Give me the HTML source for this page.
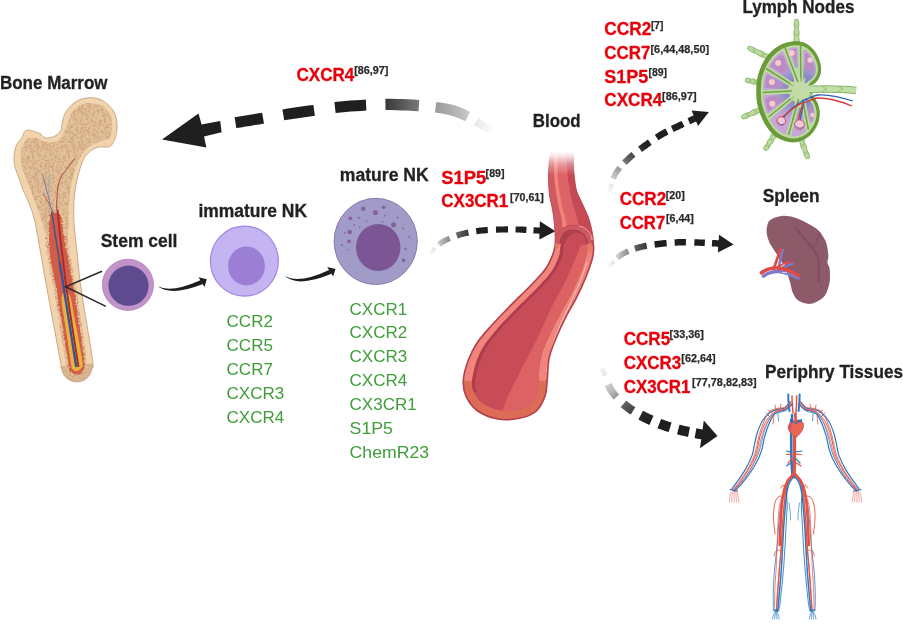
<!DOCTYPE html>
<html><head><meta charset="utf-8"><style>
html,body{margin:0;padding:0;background:#fff;overflow:hidden;}
svg{display:block;}
text{opacity:0.995;}
.b{font-family:"Liberation Sans",sans-serif;font-weight:700;}
.r{font-family:"Liberation Sans",sans-serif;font-weight:400;}
.k{fill:#222;font-size:18px;stroke:#222;stroke-width:0.3px;}
.red{fill:#e8000b;font-size:18px;stroke:#e8000b;stroke-width:0.3px;}
.sup{fill:#2a2a2a;font-size:11px;stroke:#2a2a2a;stroke-width:0.25px;}
.g{fill:#3f9d3a;font-size:17px;}
</style></head><body>
<svg width="903" height="624" viewBox="0 0 903 624">
<defs>
<clipPath id="boneclip"><path d="M61.1,130.1 C62.1,128.5 61.3,128.1 61.7,126 C62.1,124 62.5,120.5 63.4,117.8 C64.3,115.1 65.3,112.6 67.3,110 C69.3,107.4 72.4,104 75.2,102.1 C78,100.2 81.2,99.2 84.2,98.5 C87.2,97.8 90.1,97.5 93.1,97.8 C96.1,98.1 99.3,98.9 102.1,100.4 C104.9,101.9 107.8,104.3 110,106.6 C112.2,108.9 113.8,111.4 115,114.4 C116.2,117.4 116.8,121.1 117,124.5 C117.2,127.9 116.7,131.6 116.1,134.6 C115.5,137.6 114.4,140.5 113.3,142.5 C112.2,144.5 111,145.8 109.5,146.6 C108,147.3 106,147 104.4,147 C102.8,147 101.8,146.4 99.9,146.8 C98,147.2 95.2,148 93.1,149.2 C91,150.3 89.2,151.8 87.5,153.7 C85.8,155.6 84.4,157.3 83,160.4 C81.6,163.5 80.2,167.6 79,172 C77.8,176.4 76.5,181.5 75.6,187 C74.7,192.5 74,198.7 73.8,205 C73.6,211.3 73.7,217.2 74.2,225 C74.7,232.8 75.8,241.2 77,252 C78.2,262.8 78.7,272.2 81.3,290 C83.9,307.8 90.6,346 92.4,359 C94.2,372 92.8,365.1 92.2,368 C91.6,370.9 90.2,374.1 88.6,376.2 C87,378.3 84.6,379.9 82.5,380.8 C80.4,381.7 78.2,381.9 76,381.8 C73.8,381.7 71.5,381.1 69.5,380 C67.5,378.9 65.4,377.2 64,375 C62.6,372.8 61.8,369.3 61.2,367 C60.6,364.7 62.6,373.8 60.3,361 C58,348.2 50.5,308.2 47.2,290 C43.9,271.8 42.6,263.7 40.5,252 C38.4,240.3 36.5,228.3 34.5,220 C32.5,211.7 30.4,207 28.5,202 C26.6,197 24.3,193.2 23,190 C21.7,186.8 21.6,185.5 20.7,182.8 C19.8,180.1 18.3,176.8 17.3,173.8 C16.3,170.8 15.1,167.7 14.5,164.9 C13.9,162.1 13.9,159.6 14,157 C14.1,154.4 14.5,151.4 15.1,149.2 C15.7,147 16.2,145.5 17.3,143.6 C18.4,141.7 20.7,139.9 21.8,138 C22.9,136.1 23.2,133.6 24.1,132.3 C25,131 26.1,130.4 27.4,130.1 C28.7,129.8 30.4,130.3 31.9,130.7 C33.4,131.1 34.9,131.8 36.4,132.3 C37.9,132.9 39.8,133.2 40.9,134 C42,134.8 42,136.1 43.1,136.8 C44.2,137.5 45.5,138.2 47.6,138 C49.7,137.8 53.2,137 55.5,135.7 C57.8,134.4 60.1,131.7 61.1,130.1Z"/></clipPath>
<filter id="rough" x="-10%" y="-10%" width="120%" height="120%"><feTurbulence type="fractalNoise" baseFrequency="0.45" numOctaves="2" seed="4"/><feDisplacementMap in="SourceGraphic" scale="3" xChannelSelector="R" yChannelSelector="G"/></filter>
<pattern id="stip" width="36" height="36" patternUnits="userSpaceOnUse"><rect width="36" height="36" fill="#e1c19a"/><g fill="#d0a47c"><circle cx="22.4" cy="26.7" r="0.77"/><circle cx="33.9" cy="26.6" r="0.82"/><circle cx="1.0" cy="16.8" r="0.83"/><circle cx="23.4" cy="32.4" r="0.50"/><circle cx="16.9" cy="8.9" r="0.67"/><circle cx="20.7" cy="0.5" r="0.54"/><circle cx="10.1" cy="33.0" r="0.76"/><circle cx="5.7" cy="28.7" r="0.51"/><circle cx="22.2" cy="4.6" r="0.45"/><circle cx="31.4" cy="7.5" r="0.54"/><circle cx="35.4" cy="31.4" r="0.57"/><circle cx="34.6" cy="19.4" r="0.72"/><circle cx="7.4" cy="33.9" r="0.73"/><circle cx="34.8" cy="32.2" r="0.57"/><circle cx="13.0" cy="6.0" r="0.51"/><circle cx="2.3" cy="10.8" r="0.69"/><circle cx="0.1" cy="24.4" r="0.59"/><circle cx="11.2" cy="29.5" r="0.64"/><circle cx="11.4" cy="17.3" r="0.73"/><circle cx="2.1" cy="35.1" r="0.46"/><circle cx="27.0" cy="30.4" r="0.46"/><circle cx="28.4" cy="13.2" r="0.68"/><circle cx="0.3" cy="1.7" r="0.52"/><circle cx="34.4" cy="7.1" r="0.75"/><circle cx="33.5" cy="33.9" r="0.59"/><circle cx="12.8" cy="18.9" r="0.76"/><circle cx="3.9" cy="26.9" r="0.77"/><circle cx="30.9" cy="1.3" r="0.83"/><circle cx="3.3" cy="12.3" r="0.69"/><circle cx="33.1" cy="12.2" r="0.82"/><circle cx="19.6" cy="11.2" r="0.58"/><circle cx="6.4" cy="2.8" r="0.51"/><circle cx="24.8" cy="35.9" r="0.51"/><circle cx="1.7" cy="35.5" r="0.66"/><circle cx="14.6" cy="8.5" r="0.69"/><circle cx="29.7" cy="16.4" r="0.62"/><circle cx="2.0" cy="33.0" r="0.46"/><circle cx="17.8" cy="30.2" r="0.50"/><circle cx="26.3" cy="34.2" r="0.70"/><circle cx="28.4" cy="3.8" r="0.62"/><circle cx="5.4" cy="30.4" r="0.57"/><circle cx="16.3" cy="36.0" r="0.79"/><circle cx="35.1" cy="16.3" r="0.65"/><circle cx="26.3" cy="17.2" r="0.57"/><circle cx="14.5" cy="5.3" r="0.60"/><circle cx="35.6" cy="34.6" r="0.70"/><circle cx="18.0" cy="12.2" r="0.49"/><circle cx="9.8" cy="28.2" r="0.80"/><circle cx="13.0" cy="28.3" r="0.76"/><circle cx="25.0" cy="23.9" r="0.75"/><circle cx="13.1" cy="25.4" r="0.56"/><circle cx="17.5" cy="27.7" r="0.73"/><circle cx="10.6" cy="34.0" r="0.71"/><circle cx="20.9" cy="0.4" r="0.67"/><circle cx="9.0" cy="24.2" r="0.64"/><circle cx="29.4" cy="23.3" r="0.77"/><circle cx="12.5" cy="23.2" r="0.75"/><circle cx="29.8" cy="12.6" r="0.79"/><circle cx="31.3" cy="24.8" r="0.84"/><circle cx="34.4" cy="18.7" r="0.66"/><circle cx="6.0" cy="30.1" r="0.82"/><circle cx="17.2" cy="24.9" r="0.74"/><circle cx="26.3" cy="6.2" r="0.76"/><circle cx="20.9" cy="24.0" r="0.62"/><circle cx="22.5" cy="27.9" r="0.70"/><circle cx="25.9" cy="1.0" r="0.51"/><circle cx="15.9" cy="23.4" r="0.54"/><circle cx="24.7" cy="22.7" r="0.47"/><circle cx="17.0" cy="8.1" r="0.47"/><circle cx="4.8" cy="11.4" r="0.52"/><circle cx="7.0" cy="1.3" r="0.64"/><circle cx="13.7" cy="22.0" r="0.69"/><circle cx="8.6" cy="32.5" r="0.45"/><circle cx="14.6" cy="10.0" r="0.61"/><circle cx="4.1" cy="29.9" r="0.60"/><circle cx="1.3" cy="22.1" r="0.49"/><circle cx="19.6" cy="12.2" r="0.68"/><circle cx="34.5" cy="29.5" r="0.62"/><circle cx="29.3" cy="23.1" r="0.60"/><circle cx="5.1" cy="21.5" r="0.68"/><circle cx="34.5" cy="34.8" r="0.69"/><circle cx="12.6" cy="32.2" r="0.45"/><circle cx="3.9" cy="20.4" r="0.70"/><circle cx="5.1" cy="22.7" r="0.81"/><circle cx="13.5" cy="15.5" r="0.54"/><circle cx="10.5" cy="35.0" r="0.60"/><circle cx="34.6" cy="32.9" r="0.69"/><circle cx="9.4" cy="35.3" r="0.65"/><circle cx="15.0" cy="11.5" r="0.84"/><circle cx="17.7" cy="10.3" r="0.64"/><circle cx="4.4" cy="22.4" r="0.63"/><circle cx="10.6" cy="28.1" r="0.78"/><circle cx="0.5" cy="19.2" r="0.56"/><circle cx="33.7" cy="28.1" r="0.55"/><circle cx="9.6" cy="5.6" r="0.85"/><circle cx="10.6" cy="21.9" r="0.64"/><circle cx="23.2" cy="21.7" r="0.75"/><circle cx="4.3" cy="27.4" r="0.57"/><circle cx="19.2" cy="12.1" r="0.57"/><circle cx="19.1" cy="16.7" r="0.59"/><circle cx="26.8" cy="21.3" r="0.46"/><circle cx="9.1" cy="16.4" r="0.82"/><circle cx="32.0" cy="19.6" r="0.46"/><circle cx="28.0" cy="15.4" r="0.68"/><circle cx="25.5" cy="22.8" r="0.64"/><circle cx="32.8" cy="13.9" r="0.61"/><circle cx="30.7" cy="7.1" r="0.57"/><circle cx="29.9" cy="2.4" r="0.78"/><circle cx="25.0" cy="15.6" r="0.56"/><circle cx="28.1" cy="32.8" r="0.51"/><circle cx="17.2" cy="19.8" r="0.65"/><circle cx="11.9" cy="5.5" r="0.68"/><circle cx="29.2" cy="2.5" r="0.54"/><circle cx="29.5" cy="28.5" r="0.72"/><circle cx="0.9" cy="26.0" r="0.84"/><circle cx="35.9" cy="25.2" r="0.47"/><circle cx="30.3" cy="7.9" r="0.71"/><circle cx="34.3" cy="25.6" r="0.50"/><circle cx="10.5" cy="33.0" r="0.51"/><circle cx="22.0" cy="14.9" r="0.51"/><circle cx="22.4" cy="1.6" r="0.49"/><circle cx="13.7" cy="2.6" r="0.47"/><circle cx="20.7" cy="26.7" r="0.80"/><circle cx="4.8" cy="15.5" r="0.58"/><circle cx="21.6" cy="17.6" r="0.83"/><circle cx="13.5" cy="2.0" r="0.73"/><circle cx="5.4" cy="22.7" r="0.65"/><circle cx="32.8" cy="20.0" r="0.70"/><circle cx="9.5" cy="19.9" r="0.55"/><circle cx="27.0" cy="18.6" r="0.50"/><circle cx="8.4" cy="13.4" r="0.74"/><circle cx="6.5" cy="25.7" r="0.71"/><circle cx="3.1" cy="24.0" r="0.49"/><circle cx="4.5" cy="21.4" r="0.55"/><circle cx="31.6" cy="17.3" r="0.58"/><circle cx="28.7" cy="1.1" r="0.74"/><circle cx="1.9" cy="5.4" r="0.83"/><circle cx="24.5" cy="8.0" r="0.50"/><circle cx="35.0" cy="23.9" r="0.78"/><circle cx="5.0" cy="22.5" r="0.59"/><circle cx="8.5" cy="12.0" r="0.70"/><circle cx="12.6" cy="13.9" r="0.50"/><circle cx="29.9" cy="23.3" r="0.77"/><circle cx="15.6" cy="30.7" r="0.66"/><circle cx="21.3" cy="20.6" r="0.75"/><circle cx="14.2" cy="3.5" r="0.46"/><circle cx="7.3" cy="1.4" r="0.81"/><circle cx="17.3" cy="27.4" r="0.45"/><circle cx="16.9" cy="32.0" r="0.70"/><circle cx="15.4" cy="16.8" r="0.49"/><circle cx="5.6" cy="5.7" r="0.60"/><circle cx="13.9" cy="31.7" r="0.51"/><circle cx="9.1" cy="10.0" r="0.51"/><circle cx="10.3" cy="8.5" r="0.64"/><circle cx="1.2" cy="33.3" r="0.60"/><circle cx="33.8" cy="24.8" r="0.72"/><circle cx="17.0" cy="34.0" r="0.50"/><circle cx="24.1" cy="10.5" r="0.72"/><circle cx="26.3" cy="5.9" r="0.53"/><circle cx="0.9" cy="8.3" r="0.48"/><circle cx="14.4" cy="35.0" r="0.60"/><circle cx="11.2" cy="16.8" r="0.56"/><circle cx="26.4" cy="25.8" r="0.52"/><circle cx="8.7" cy="24.2" r="0.83"/><circle cx="23.3" cy="15.5" r="0.84"/><circle cx="0.2" cy="2.2" r="0.76"/><circle cx="14.8" cy="1.6" r="0.67"/><circle cx="35.6" cy="18.7" r="0.59"/><circle cx="3.4" cy="2.6" r="0.81"/><circle cx="17.7" cy="33.7" r="0.47"/><circle cx="8.8" cy="1.8" r="0.61"/><circle cx="2.2" cy="9.2" r="0.61"/><circle cx="11.0" cy="1.8" r="0.47"/><circle cx="35.0" cy="6.5" r="0.65"/><circle cx="14.5" cy="19.1" r="0.48"/><circle cx="11.3" cy="3.9" r="0.67"/><circle cx="33.2" cy="21.5" r="0.79"/><circle cx="7.7" cy="0.6" r="0.67"/><circle cx="17.5" cy="20.6" r="0.60"/><circle cx="22.5" cy="26.1" r="0.82"/><circle cx="11.1" cy="16.2" r="0.78"/><circle cx="8.1" cy="4.2" r="0.57"/><circle cx="3.2" cy="27.8" r="0.78"/><circle cx="11.3" cy="4.7" r="0.48"/><circle cx="8.8" cy="3.0" r="0.62"/><circle cx="20.8" cy="8.8" r="0.47"/><circle cx="25.2" cy="1.7" r="0.53"/><circle cx="10.3" cy="13.5" r="0.49"/><circle cx="15.1" cy="11.3" r="0.75"/><circle cx="20.0" cy="32.3" r="0.71"/><circle cx="27.3" cy="20.7" r="0.63"/><circle cx="29.4" cy="23.6" r="0.83"/><circle cx="26.2" cy="25.2" r="0.56"/><circle cx="29.2" cy="13.8" r="0.50"/><circle cx="2.4" cy="6.1" r="0.56"/><circle cx="24.3" cy="10.3" r="0.48"/><circle cx="27.5" cy="20.1" r="0.46"/><circle cx="1.8" cy="4.7" r="0.59"/><circle cx="31.0" cy="34.2" r="0.69"/><circle cx="8.3" cy="15.4" r="0.59"/><circle cx="11.9" cy="0.4" r="0.68"/><circle cx="29.8" cy="26.2" r="0.49"/><circle cx="19.1" cy="6.2" r="0.73"/><circle cx="16.1" cy="33.8" r="0.77"/><circle cx="4.3" cy="11.4" r="0.82"/><circle cx="16.6" cy="15.6" r="0.63"/><circle cx="27.6" cy="33.7" r="0.66"/><circle cx="34.9" cy="21.5" r="0.49"/><circle cx="29.3" cy="15.1" r="0.47"/><circle cx="35.2" cy="1.2" r="0.68"/><circle cx="17.4" cy="31.7" r="0.61"/><circle cx="7.8" cy="10.0" r="0.53"/><circle cx="20.2" cy="12.9" r="0.75"/><circle cx="8.7" cy="12.7" r="0.55"/><circle cx="35.4" cy="30.2" r="0.79"/><circle cx="22.3" cy="14.4" r="0.51"/><circle cx="29.9" cy="17.6" r="0.47"/><circle cx="6.1" cy="3.6" r="0.74"/><circle cx="32.4" cy="7.2" r="0.77"/><circle cx="11.7" cy="24.6" r="0.80"/><circle cx="22.4" cy="28.8" r="0.60"/><circle cx="0.4" cy="18.4" r="0.68"/><circle cx="6.7" cy="14.0" r="0.58"/><circle cx="1.0" cy="11.2" r="0.60"/><circle cx="17.1" cy="25.3" r="0.61"/><circle cx="35.4" cy="29.4" r="0.82"/><circle cx="24.9" cy="24.1" r="0.66"/><circle cx="28.8" cy="13.1" r="0.69"/><circle cx="24.5" cy="18.8" r="0.56"/><circle cx="2.8" cy="3.1" r="0.59"/><circle cx="20.9" cy="27.3" r="0.74"/><circle cx="11.0" cy="33.5" r="0.56"/><circle cx="25.8" cy="2.6" r="0.75"/><circle cx="24.1" cy="34.4" r="0.81"/><circle cx="24.8" cy="30.2" r="0.75"/><circle cx="22.0" cy="7.5" r="0.66"/><circle cx="32.3" cy="8.6" r="0.84"/><circle cx="19.6" cy="14.2" r="0.45"/><circle cx="14.0" cy="6.4" r="0.71"/><circle cx="32.4" cy="32.8" r="0.70"/><circle cx="13.9" cy="3.9" r="0.73"/><circle cx="19.9" cy="25.7" r="0.60"/><circle cx="31.9" cy="7.7" r="0.57"/><circle cx="9.6" cy="22.4" r="0.81"/><circle cx="6.0" cy="22.8" r="0.76"/><circle cx="8.1" cy="2.3" r="0.68"/><circle cx="29.9" cy="31.6" r="0.74"/><circle cx="15.0" cy="15.3" r="0.66"/><circle cx="32.6" cy="10.9" r="0.56"/><circle cx="21.8" cy="34.8" r="0.52"/><circle cx="1.1" cy="4.2" r="0.68"/><circle cx="21.7" cy="6.6" r="0.53"/><circle cx="21.4" cy="23.3" r="0.73"/><circle cx="26.2" cy="2.2" r="0.64"/><circle cx="30.0" cy="34.5" r="0.58"/><circle cx="30.6" cy="23.2" r="0.82"/><circle cx="8.2" cy="25.1" r="0.79"/><circle cx="17.2" cy="3.6" r="0.53"/><circle cx="5.6" cy="3.3" r="0.51"/><circle cx="22.2" cy="3.8" r="0.75"/><circle cx="26.5" cy="29.4" r="0.77"/><circle cx="25.7" cy="33.3" r="0.83"/><circle cx="22.5" cy="34.7" r="0.49"/><circle cx="3.7" cy="2.3" r="0.53"/><circle cx="13.5" cy="16.5" r="0.72"/><circle cx="26.7" cy="3.0" r="0.61"/><circle cx="19.6" cy="13.5" r="0.50"/><circle cx="21.5" cy="13.5" r="0.72"/><circle cx="17.8" cy="34.7" r="0.83"/><circle cx="2.6" cy="27.4" r="0.74"/><circle cx="10.7" cy="4.2" r="0.64"/><circle cx="12.7" cy="26.5" r="0.82"/><circle cx="13.8" cy="10.5" r="0.65"/><circle cx="25.1" cy="28.4" r="0.68"/><circle cx="10.7" cy="12.1" r="0.79"/><circle cx="18.7" cy="1.8" r="0.62"/><circle cx="8.6" cy="24.0" r="0.48"/><circle cx="9.8" cy="3.5" r="0.64"/><circle cx="35.4" cy="19.5" r="0.60"/><circle cx="33.6" cy="3.3" r="0.59"/><circle cx="29.2" cy="0.2" r="0.76"/><circle cx="13.0" cy="0.6" r="0.55"/><circle cx="16.5" cy="13.8" r="0.66"/><circle cx="1.9" cy="7.9" r="0.84"/><circle cx="15.9" cy="17.0" r="0.48"/><circle cx="10.0" cy="34.4" r="0.72"/><circle cx="18.3" cy="1.9" r="0.61"/><circle cx="28.0" cy="15.6" r="0.69"/><circle cx="32.5" cy="23.2" r="0.70"/><circle cx="1.3" cy="0.9" r="0.76"/><circle cx="14.9" cy="31.5" r="0.78"/><circle cx="33.0" cy="13.6" r="0.85"/><circle cx="27.2" cy="32.1" r="0.51"/><circle cx="28.1" cy="15.2" r="0.84"/><circle cx="35.8" cy="7.8" r="0.62"/><circle cx="9.8" cy="16.9" r="0.56"/><circle cx="24.0" cy="4.4" r="0.52"/><circle cx="16.5" cy="2.7" r="0.60"/><circle cx="32.3" cy="31.9" r="0.53"/><circle cx="0.7" cy="29.8" r="0.83"/><circle cx="21.6" cy="4.9" r="0.54"/><circle cx="33.1" cy="33.8" r="0.46"/><circle cx="6.7" cy="15.4" r="0.56"/><circle cx="27.1" cy="13.4" r="0.76"/><circle cx="5.5" cy="18.7" r="0.84"/><circle cx="25.3" cy="3.2" r="0.49"/><circle cx="23.2" cy="13.5" r="0.60"/><circle cx="17.2" cy="20.9" r="0.84"/><circle cx="8.7" cy="20.5" r="0.56"/><circle cx="19.6" cy="26.3" r="0.50"/><circle cx="17.3" cy="25.4" r="0.45"/><circle cx="27.8" cy="15.1" r="0.65"/><circle cx="22.0" cy="28.5" r="0.47"/><circle cx="18.0" cy="1.4" r="0.60"/><circle cx="12.4" cy="0.8" r="0.57"/><circle cx="16.2" cy="23.6" r="0.82"/><circle cx="13.3" cy="19.1" r="0.74"/><circle cx="33.7" cy="34.2" r="0.85"/><circle cx="10.9" cy="6.0" r="0.82"/><circle cx="2.8" cy="16.2" r="0.74"/><circle cx="19.0" cy="14.0" r="0.82"/><circle cx="10.8" cy="19.9" r="0.78"/><circle cx="5.0" cy="12.6" r="0.65"/><circle cx="20.4" cy="7.5" r="0.63"/><circle cx="2.2" cy="3.2" r="0.59"/><circle cx="5.2" cy="34.8" r="0.56"/><circle cx="9.9" cy="28.2" r="0.75"/><circle cx="9.4" cy="29.9" r="0.70"/><circle cx="14.0" cy="22.6" r="0.55"/><circle cx="9.5" cy="31.6" r="0.63"/><circle cx="32.3" cy="6.4" r="0.50"/><circle cx="1.9" cy="26.6" r="0.67"/><circle cx="0.3" cy="1.6" r="0.78"/><circle cx="17.8" cy="31.4" r="0.47"/><circle cx="21.2" cy="4.2" r="0.74"/><circle cx="22.0" cy="22.0" r="0.54"/><circle cx="34.2" cy="4.0" r="0.48"/><circle cx="24.6" cy="3.3" r="0.48"/><circle cx="16.6" cy="23.4" r="0.81"/><circle cx="26.0" cy="2.5" r="0.71"/><circle cx="30.4" cy="4.3" r="0.75"/><circle cx="9.3" cy="10.8" r="0.45"/><circle cx="27.3" cy="18.6" r="0.81"/><circle cx="16.8" cy="5.6" r="0.54"/><circle cx="9.5" cy="34.1" r="0.53"/><circle cx="3.2" cy="12.7" r="0.48"/><circle cx="15.3" cy="22.4" r="0.71"/><circle cx="6.3" cy="5.0" r="0.65"/><circle cx="24.7" cy="16.1" r="0.68"/><circle cx="32.8" cy="5.2" r="0.56"/><circle cx="17.8" cy="19.3" r="0.81"/><circle cx="20.0" cy="23.8" r="0.62"/><circle cx="28.2" cy="30.1" r="0.57"/><circle cx="3.9" cy="9.3" r="0.59"/><circle cx="32.0" cy="9.5" r="0.70"/><circle cx="23.1" cy="34.4" r="0.50"/><circle cx="27.7" cy="12.1" r="0.49"/><circle cx="22.8" cy="30.4" r="0.68"/><circle cx="1.8" cy="35.0" r="0.60"/><circle cx="22.9" cy="26.1" r="0.55"/><circle cx="14.7" cy="11.9" r="0.49"/><circle cx="2.3" cy="25.8" r="0.61"/><circle cx="31.3" cy="2.3" r="0.57"/><circle cx="6.5" cy="34.0" r="0.77"/><circle cx="32.3" cy="18.2" r="0.49"/><circle cx="15.0" cy="8.1" r="0.46"/><circle cx="20.3" cy="10.4" r="0.49"/><circle cx="18.4" cy="33.6" r="0.83"/><circle cx="16.8" cy="3.7" r="0.76"/><circle cx="4.1" cy="19.3" r="0.48"/><circle cx="35.5" cy="19.5" r="0.62"/><circle cx="9.8" cy="19.8" r="0.84"/><circle cx="15.4" cy="7.5" r="0.66"/><circle cx="33.1" cy="13.7" r="0.70"/><circle cx="33.1" cy="11.7" r="0.77"/><circle cx="19.0" cy="5.0" r="0.47"/><circle cx="33.8" cy="16.8" r="0.63"/><circle cx="33.0" cy="20.7" r="0.65"/><circle cx="10.2" cy="26.8" r="0.55"/><circle cx="16.9" cy="27.3" r="0.69"/><circle cx="4.8" cy="7.3" r="0.73"/><circle cx="26.2" cy="3.7" r="0.85"/><circle cx="4.8" cy="6.0" r="0.49"/><circle cx="16.1" cy="22.3" r="0.79"/><circle cx="5.9" cy="25.2" r="0.49"/><circle cx="20.9" cy="9.1" r="0.59"/><circle cx="1.9" cy="25.9" r="0.50"/><circle cx="27.5" cy="12.1" r="0.69"/><circle cx="23.0" cy="17.6" r="0.80"/><circle cx="33.1" cy="10.2" r="0.58"/><circle cx="31.6" cy="4.8" r="0.62"/><circle cx="14.9" cy="35.1" r="0.50"/><circle cx="23.6" cy="27.3" r="0.74"/><circle cx="0.0" cy="34.0" r="0.57"/><circle cx="30.7" cy="23.8" r="0.62"/><circle cx="30.2" cy="24.3" r="0.59"/><circle cx="26.3" cy="18.2" r="0.73"/><circle cx="22.1" cy="28.7" r="0.51"/><circle cx="17.8" cy="0.0" r="0.77"/><circle cx="27.8" cy="30.1" r="0.47"/><circle cx="19.3" cy="17.2" r="0.50"/><circle cx="7.3" cy="35.1" r="0.79"/><circle cx="8.6" cy="29.8" r="0.71"/><circle cx="13.9" cy="23.2" r="0.54"/><circle cx="9.9" cy="0.4" r="0.71"/><circle cx="20.9" cy="26.8" r="0.65"/><circle cx="15.7" cy="11.0" r="0.74"/><circle cx="13.4" cy="21.5" r="0.75"/><circle cx="16.0" cy="24.7" r="0.47"/><circle cx="9.4" cy="30.3" r="0.51"/><circle cx="2.0" cy="0.5" r="0.76"/><circle cx="3.8" cy="16.5" r="0.63"/><circle cx="28.9" cy="17.2" r="0.66"/><circle cx="0.9" cy="28.6" r="0.76"/><circle cx="22.4" cy="30.1" r="0.70"/><circle cx="25.8" cy="30.6" r="0.70"/><circle cx="0.7" cy="31.8" r="0.85"/><circle cx="7.2" cy="2.4" r="0.59"/><circle cx="3.6" cy="13.3" r="0.49"/><circle cx="7.9" cy="0.1" r="0.62"/></g></pattern>
<pattern id="stip2" width="36" height="36" patternUnits="userSpaceOnUse"><rect width="36" height="36" fill="#e2c19a"/><g fill="#c28d66"><circle cx="10.8" cy="26.2" r="0.56"/><circle cx="6.0" cy="34.3" r="0.76"/><circle cx="24.8" cy="7.8" r="0.56"/><circle cx="16.2" cy="14.7" r="0.41"/><circle cx="16.4" cy="27.6" r="0.68"/><circle cx="31.0" cy="24.6" r="0.71"/><circle cx="31.3" cy="33.0" r="0.72"/><circle cx="15.0" cy="23.8" r="0.66"/><circle cx="31.8" cy="25.7" r="0.58"/><circle cx="6.9" cy="11.8" r="0.50"/><circle cx="24.5" cy="27.7" r="0.48"/><circle cx="19.2" cy="30.2" r="0.55"/><circle cx="3.4" cy="21.8" r="0.54"/><circle cx="5.2" cy="10.4" r="0.40"/><circle cx="5.4" cy="15.3" r="0.44"/><circle cx="0.2" cy="19.8" r="0.78"/><circle cx="30.0" cy="11.7" r="0.77"/><circle cx="2.9" cy="5.4" r="0.40"/><circle cx="2.1" cy="21.7" r="0.70"/><circle cx="17.2" cy="28.9" r="0.58"/><circle cx="33.1" cy="21.9" r="0.61"/><circle cx="6.1" cy="15.4" r="0.58"/><circle cx="29.6" cy="8.3" r="0.52"/><circle cx="29.4" cy="2.6" r="0.61"/><circle cx="7.9" cy="23.9" r="0.64"/><circle cx="3.4" cy="26.3" r="0.56"/><circle cx="11.5" cy="30.8" r="0.71"/><circle cx="11.1" cy="24.4" r="0.45"/><circle cx="18.7" cy="3.0" r="0.66"/><circle cx="33.0" cy="22.9" r="0.42"/><circle cx="18.5" cy="16.9" r="0.58"/><circle cx="5.4" cy="10.0" r="0.58"/><circle cx="2.6" cy="24.3" r="0.50"/><circle cx="10.4" cy="3.3" r="0.52"/><circle cx="33.5" cy="10.5" r="0.44"/><circle cx="12.4" cy="34.0" r="0.44"/><circle cx="12.3" cy="7.5" r="0.67"/><circle cx="16.6" cy="3.5" r="0.74"/><circle cx="11.8" cy="24.7" r="0.58"/><circle cx="31.4" cy="2.1" r="0.49"/><circle cx="10.3" cy="9.5" r="0.73"/><circle cx="18.1" cy="12.5" r="0.60"/><circle cx="30.4" cy="20.5" r="0.58"/><circle cx="23.6" cy="22.1" r="0.56"/><circle cx="15.3" cy="4.7" r="0.58"/><circle cx="31.6" cy="11.0" r="0.55"/><circle cx="21.7" cy="21.3" r="0.47"/><circle cx="16.1" cy="26.4" r="0.42"/><circle cx="3.9" cy="27.2" r="0.76"/><circle cx="2.4" cy="2.9" r="0.65"/><circle cx="10.2" cy="23.6" r="0.41"/><circle cx="16.4" cy="5.8" r="0.53"/><circle cx="25.0" cy="18.4" r="0.74"/><circle cx="30.3" cy="22.3" r="0.74"/><circle cx="6.4" cy="17.1" r="0.53"/><circle cx="22.5" cy="4.0" r="0.75"/><circle cx="13.3" cy="28.2" r="0.78"/><circle cx="33.8" cy="14.0" r="0.74"/><circle cx="35.9" cy="4.7" r="0.70"/><circle cx="26.2" cy="16.5" r="0.51"/><circle cx="6.2" cy="14.8" r="0.77"/><circle cx="14.5" cy="9.2" r="0.65"/><circle cx="15.7" cy="22.1" r="0.58"/><circle cx="10.3" cy="1.3" r="0.73"/><circle cx="23.7" cy="8.8" r="0.60"/><circle cx="20.9" cy="18.1" r="0.76"/><circle cx="28.0" cy="11.0" r="0.54"/><circle cx="22.0" cy="5.8" r="0.77"/><circle cx="1.6" cy="18.0" r="0.51"/><circle cx="18.9" cy="1.6" r="0.49"/><circle cx="35.6" cy="28.4" r="0.49"/><circle cx="16.4" cy="1.2" r="0.45"/><circle cx="6.9" cy="35.4" r="0.52"/><circle cx="8.9" cy="2.4" r="0.44"/><circle cx="35.8" cy="26.6" r="0.77"/><circle cx="30.1" cy="28.2" r="0.50"/><circle cx="6.1" cy="9.7" r="0.43"/><circle cx="6.3" cy="25.9" r="0.60"/><circle cx="0.4" cy="11.0" r="0.74"/><circle cx="30.6" cy="26.3" r="0.69"/><circle cx="32.8" cy="20.1" r="0.55"/><circle cx="20.6" cy="10.2" r="0.41"/><circle cx="9.4" cy="16.5" r="0.45"/><circle cx="2.9" cy="8.9" r="0.55"/><circle cx="34.5" cy="17.5" r="0.73"/><circle cx="26.8" cy="21.3" r="0.53"/><circle cx="14.1" cy="11.4" r="0.65"/><circle cx="30.8" cy="28.5" r="0.52"/><circle cx="5.4" cy="0.3" r="0.63"/><circle cx="8.2" cy="0.2" r="0.52"/><circle cx="8.2" cy="7.4" r="0.67"/><circle cx="21.0" cy="10.1" r="0.69"/><circle cx="7.4" cy="33.2" r="0.45"/><circle cx="21.3" cy="25.4" r="0.69"/><circle cx="17.5" cy="31.4" r="0.65"/><circle cx="24.9" cy="2.8" r="0.47"/><circle cx="16.8" cy="19.6" r="0.44"/><circle cx="26.7" cy="12.5" r="0.59"/><circle cx="18.8" cy="30.2" r="0.52"/><circle cx="20.2" cy="21.8" r="0.66"/><circle cx="11.2" cy="10.0" r="0.59"/><circle cx="21.6" cy="23.2" r="0.45"/><circle cx="16.1" cy="20.2" r="0.48"/><circle cx="3.7" cy="33.4" r="0.41"/><circle cx="18.0" cy="10.6" r="0.41"/><circle cx="9.7" cy="5.8" r="0.56"/><circle cx="32.8" cy="2.9" r="0.54"/><circle cx="25.0" cy="22.5" r="0.41"/><circle cx="8.2" cy="10.1" r="0.76"/><circle cx="15.9" cy="9.3" r="0.59"/><circle cx="17.5" cy="5.4" r="0.67"/><circle cx="26.0" cy="17.2" r="0.61"/><circle cx="27.7" cy="34.4" r="0.65"/><circle cx="1.6" cy="18.2" r="0.66"/><circle cx="11.9" cy="24.6" r="0.55"/><circle cx="22.2" cy="22.1" r="0.67"/><circle cx="33.3" cy="25.5" r="0.68"/><circle cx="25.4" cy="8.3" r="0.65"/><circle cx="22.3" cy="2.2" r="0.70"/><circle cx="8.2" cy="17.7" r="0.61"/><circle cx="26.0" cy="27.5" r="0.59"/><circle cx="33.8" cy="15.9" r="0.63"/><circle cx="35.7" cy="11.7" r="0.69"/><circle cx="34.4" cy="3.0" r="0.71"/><circle cx="23.5" cy="19.4" r="0.72"/><circle cx="31.0" cy="5.3" r="0.59"/><circle cx="22.2" cy="25.2" r="0.78"/><circle cx="28.9" cy="29.8" r="0.43"/><circle cx="15.3" cy="32.9" r="0.78"/><circle cx="27.2" cy="12.0" r="0.71"/><circle cx="19.1" cy="24.0" r="0.65"/><circle cx="31.1" cy="25.7" r="0.79"/><circle cx="17.8" cy="17.8" r="0.66"/><circle cx="20.2" cy="1.8" r="0.78"/><circle cx="11.5" cy="18.0" r="0.42"/><circle cx="6.9" cy="33.4" r="0.51"/><circle cx="10.7" cy="29.2" r="0.50"/><circle cx="24.0" cy="20.5" r="0.76"/><circle cx="17.2" cy="11.8" r="0.50"/><circle cx="13.1" cy="0.0" r="0.45"/><circle cx="5.4" cy="11.3" r="0.71"/><circle cx="33.9" cy="12.8" r="0.50"/><circle cx="10.6" cy="22.6" r="0.59"/><circle cx="4.2" cy="18.9" r="0.51"/><circle cx="5.2" cy="28.3" r="0.44"/><circle cx="15.8" cy="27.6" r="0.62"/><circle cx="31.4" cy="11.4" r="0.78"/><circle cx="1.6" cy="32.2" r="0.57"/><circle cx="0.1" cy="9.3" r="0.80"/><circle cx="25.8" cy="26.5" r="0.72"/><circle cx="0.2" cy="11.0" r="0.59"/><circle cx="32.7" cy="32.7" r="0.46"/><circle cx="35.5" cy="20.0" r="0.52"/><circle cx="3.0" cy="15.4" r="0.61"/><circle cx="16.3" cy="11.2" r="0.78"/><circle cx="17.1" cy="11.1" r="0.71"/><circle cx="8.8" cy="15.2" r="0.44"/><circle cx="8.6" cy="35.9" r="0.65"/><circle cx="18.9" cy="24.2" r="0.67"/><circle cx="18.8" cy="13.2" r="0.46"/><circle cx="1.1" cy="4.4" r="0.56"/><circle cx="0.4" cy="24.3" r="0.53"/><circle cx="8.4" cy="11.3" r="0.60"/><circle cx="7.5" cy="30.7" r="0.59"/><circle cx="2.5" cy="3.1" r="0.76"/><circle cx="20.8" cy="10.5" r="0.69"/><circle cx="1.7" cy="32.0" r="0.77"/><circle cx="23.9" cy="1.8" r="0.57"/><circle cx="30.1" cy="21.4" r="0.48"/><circle cx="8.4" cy="2.3" r="0.61"/><circle cx="6.5" cy="16.0" r="0.76"/><circle cx="32.4" cy="17.7" r="0.71"/><circle cx="4.8" cy="34.1" r="0.75"/><circle cx="17.4" cy="31.9" r="0.52"/><circle cx="35.3" cy="11.6" r="0.77"/><circle cx="30.1" cy="33.6" r="0.69"/><circle cx="2.6" cy="10.1" r="0.66"/><circle cx="32.7" cy="24.5" r="0.42"/><circle cx="12.5" cy="12.4" r="0.47"/><circle cx="8.1" cy="18.6" r="0.55"/><circle cx="9.6" cy="14.8" r="0.78"/><circle cx="21.5" cy="27.1" r="0.77"/><circle cx="1.1" cy="31.7" r="0.44"/><circle cx="7.1" cy="26.6" r="0.70"/><circle cx="22.1" cy="17.1" r="0.69"/><circle cx="15.4" cy="7.0" r="0.49"/><circle cx="4.1" cy="1.3" r="0.78"/><circle cx="34.2" cy="12.5" r="0.56"/><circle cx="10.0" cy="28.1" r="0.60"/><circle cx="6.1" cy="31.8" r="0.77"/><circle cx="1.7" cy="16.5" r="0.49"/><circle cx="23.0" cy="12.9" r="0.52"/><circle cx="10.9" cy="21.9" r="0.60"/><circle cx="17.6" cy="24.5" r="0.59"/><circle cx="34.1" cy="15.8" r="0.72"/><circle cx="33.5" cy="22.4" r="0.64"/><circle cx="28.4" cy="25.6" r="0.48"/><circle cx="15.0" cy="5.6" r="0.41"/><circle cx="24.7" cy="11.8" r="0.50"/><circle cx="0.9" cy="0.8" r="0.67"/><circle cx="12.9" cy="15.7" r="0.67"/><circle cx="32.7" cy="25.2" r="0.49"/><circle cx="35.6" cy="6.6" r="0.63"/><circle cx="23.2" cy="10.3" r="0.76"/><circle cx="22.0" cy="25.6" r="0.46"/><circle cx="30.0" cy="10.3" r="0.65"/><circle cx="26.5" cy="11.6" r="0.51"/><circle cx="11.9" cy="35.2" r="0.66"/><circle cx="17.0" cy="20.2" r="0.66"/><circle cx="9.4" cy="2.7" r="0.44"/><circle cx="21.0" cy="21.6" r="0.79"/><circle cx="22.4" cy="30.7" r="0.79"/><circle cx="17.9" cy="15.2" r="0.59"/><circle cx="13.4" cy="27.4" r="0.63"/><circle cx="4.4" cy="34.4" r="0.61"/><circle cx="27.0" cy="19.7" r="0.64"/><circle cx="20.7" cy="4.1" r="0.45"/><circle cx="26.3" cy="12.6" r="0.45"/><circle cx="29.4" cy="26.9" r="0.71"/><circle cx="13.9" cy="4.7" r="0.70"/><circle cx="7.8" cy="24.1" r="0.68"/><circle cx="9.8" cy="0.1" r="0.64"/><circle cx="28.5" cy="21.2" r="0.79"/><circle cx="8.2" cy="26.3" r="0.57"/><circle cx="20.9" cy="10.9" r="0.49"/><circle cx="19.7" cy="21.9" r="0.76"/><circle cx="21.7" cy="18.0" r="0.66"/><circle cx="22.6" cy="14.7" r="0.51"/><circle cx="24.6" cy="13.9" r="0.41"/><circle cx="6.1" cy="12.9" r="0.67"/><circle cx="23.6" cy="17.6" r="0.73"/><circle cx="11.8" cy="12.6" r="0.70"/><circle cx="24.5" cy="15.3" r="0.76"/><circle cx="0.9" cy="19.3" r="0.74"/><circle cx="31.6" cy="7.0" r="0.72"/><circle cx="19.2" cy="33.7" r="0.53"/><circle cx="23.9" cy="23.1" r="0.80"/><circle cx="12.2" cy="14.0" r="0.45"/><circle cx="24.6" cy="2.5" r="0.74"/><circle cx="5.3" cy="6.9" r="0.78"/><circle cx="17.9" cy="27.2" r="0.54"/><circle cx="8.7" cy="13.3" r="0.79"/><circle cx="6.9" cy="32.6" r="0.75"/><circle cx="24.5" cy="9.6" r="0.69"/><circle cx="32.6" cy="21.3" r="0.49"/><circle cx="22.0" cy="34.4" r="0.64"/><circle cx="5.4" cy="7.3" r="0.65"/><circle cx="1.7" cy="0.0" r="0.55"/><circle cx="9.3" cy="17.8" r="0.43"/><circle cx="20.1" cy="24.3" r="0.53"/><circle cx="20.9" cy="19.0" r="0.72"/><circle cx="20.7" cy="23.0" r="0.63"/><circle cx="29.6" cy="3.5" r="0.45"/><circle cx="31.2" cy="30.0" r="0.40"/><circle cx="32.2" cy="21.9" r="0.74"/><circle cx="25.2" cy="13.5" r="0.45"/><circle cx="27.5" cy="25.6" r="0.59"/><circle cx="9.7" cy="13.1" r="0.77"/><circle cx="16.7" cy="7.6" r="0.79"/><circle cx="35.2" cy="6.4" r="0.48"/><circle cx="26.3" cy="13.9" r="0.59"/><circle cx="24.6" cy="9.8" r="0.64"/><circle cx="7.3" cy="8.0" r="0.62"/><circle cx="15.4" cy="32.2" r="0.46"/><circle cx="33.0" cy="9.4" r="0.54"/><circle cx="3.8" cy="11.4" r="0.79"/><circle cx="13.0" cy="30.1" r="0.79"/><circle cx="25.0" cy="6.6" r="0.57"/><circle cx="6.0" cy="9.0" r="0.53"/><circle cx="6.0" cy="24.5" r="0.61"/><circle cx="10.5" cy="9.2" r="0.46"/><circle cx="4.1" cy="15.8" r="0.43"/><circle cx="18.8" cy="9.2" r="0.71"/><circle cx="9.6" cy="30.8" r="0.78"/><circle cx="33.5" cy="8.2" r="0.77"/><circle cx="17.0" cy="31.8" r="0.59"/><circle cx="19.5" cy="9.3" r="0.70"/><circle cx="13.2" cy="31.8" r="0.68"/><circle cx="15.4" cy="1.1" r="0.51"/><circle cx="15.0" cy="13.3" r="0.63"/><circle cx="0.2" cy="16.8" r="0.76"/><circle cx="34.3" cy="24.8" r="0.67"/><circle cx="21.7" cy="36.0" r="0.72"/><circle cx="16.6" cy="17.8" r="0.78"/><circle cx="19.9" cy="21.5" r="0.52"/><circle cx="23.9" cy="17.6" r="0.78"/><circle cx="36.0" cy="35.9" r="0.78"/><circle cx="1.6" cy="2.6" r="0.54"/><circle cx="29.8" cy="20.1" r="0.50"/><circle cx="3.6" cy="9.0" r="0.45"/><circle cx="5.2" cy="26.8" r="0.48"/><circle cx="6.0" cy="22.3" r="0.45"/><circle cx="30.0" cy="23.4" r="0.75"/><circle cx="26.1" cy="26.3" r="0.51"/><circle cx="15.2" cy="13.7" r="0.56"/><circle cx="32.8" cy="15.7" r="0.72"/><circle cx="22.7" cy="3.0" r="0.48"/><circle cx="20.8" cy="28.4" r="0.49"/><circle cx="9.0" cy="13.6" r="0.58"/><circle cx="15.1" cy="33.3" r="0.64"/></g></pattern>
<linearGradient id="g1" gradientUnits="userSpaceOnUse" x1="365" y1="0" x2="492" y2="0"><stop offset="0" stop-color="#1f1f1f"/><stop offset="0.17" stop-color="#3a3a3a"/><stop offset="0.42" stop-color="#777"/><stop offset="0.55" stop-color="#999"/><stop offset="0.8" stop-color="#c4c4c4"/><stop offset="0.87" stop-color="#e8e8e8"/><stop offset="1" stop-color="#fbfbfb"/></linearGradient>
<linearGradient id="g2" gradientUnits="userSpaceOnUse" x1="428" y1="0" x2="478" y2="0"><stop offset="0" stop-color="#ffffff"/><stop offset="0.12" stop-color="#e8e8e8"/><stop offset="0.32" stop-color="#a8a8a8"/><stop offset="0.66" stop-color="#555"/><stop offset="0.9" stop-color="#262626"/><stop offset="1" stop-color="#1f1f1f"/></linearGradient>
<linearGradient id="g3" gradientUnits="userSpaceOnUse" x1="608" y1="194" x2="650" y2="142"><stop offset="0" stop-color="#ffffff"/><stop offset="0.12" stop-color="#eaeaea"/><stop offset="0.36" stop-color="#a8a8a8"/><stop offset="0.64" stop-color="#555"/><stop offset="0.88" stop-color="#282828"/><stop offset="1" stop-color="#1f1f1f"/></linearGradient>
<linearGradient id="g4" gradientUnits="userSpaceOnUse" x1="606" y1="0" x2="656" y2="0"><stop offset="0" stop-color="#ffffff"/><stop offset="0.12" stop-color="#ececec"/><stop offset="0.35" stop-color="#a8a8a8"/><stop offset="0.65" stop-color="#555"/><stop offset="0.88" stop-color="#282828"/><stop offset="1" stop-color="#1f1f1f"/></linearGradient>
<linearGradient id="g5" gradientUnits="userSpaceOnUse" x1="600" y1="362" x2="648" y2="422"><stop offset="0" stop-color="#ffffff"/><stop offset="0.14" stop-color="#ececec"/><stop offset="0.4" stop-color="#b8b8b8"/><stop offset="0.66" stop-color="#5a5a5a"/><stop offset="0.88" stop-color="#282828"/><stop offset="1" stop-color="#1f1f1f"/></linearGradient>
<clipPath id="upclip"><path d="M550.8,150 L550.7,151.2 L550.4,152.7 L550.2,154.6 L549.9,156.7 L549.7,158.9 L549.4,161 L549.2,163.1 L549,165 L548.9,166.7 L548.7,168.3 L548.7,169.8 L548.6,171.4 L548.5,172.9 L548.5,174.5 L548.5,176.2 L548.5,178 L548.5,180 L548.6,182.1 L548.7,184.3 L548.8,186.6 L548.9,188.8 L549.1,191 L549.3,193.1 L549.5,195 L549.7,196.7 L550,198.3 L550.3,199.8 L550.7,201.2 L551,202.6 L551.4,204 L551.7,205.5 L552,207 L552.3,208.6 L552.6,210.2 L552.8,211.8 L553.1,213.4 L553.3,215 L553.6,216.7 L553.8,218.3 L554,220 L554.2,221.7 L554.3,223.4 L554.5,225.1 L554.6,226.8 L554.7,228.6 L554.8,230.3 L554.9,232.1 L555,234 L555.1,236 L555.1,238.2 L555.2,240.6 L555.2,242.9 L555.2,245.1 L555.3,247.1 L555.3,248.8 L555.3,250 L593.6,250 L593.6,249.1 L593.6,248 L593.6,246.6 L593.6,245.1 L593.6,243.5 L593.6,241.7 L593.4,239.9 L593.2,238 L592.9,236 L592.5,233.9 L592.1,231.6 L591.6,229.2 L591.1,226.8 L590.5,224.4 L589.9,222.1 L589.3,220 L588.6,218 L587.9,216 L587.1,214.1 L586.3,212.2 L585.4,210.3 L584.6,208.5 L583.8,206.8 L583,205 L582.2,203.3 L581.4,201.6 L580.6,199.9 L579.8,198.3 L579,196.7 L578.2,195.1 L577.6,193.6 L577,192 L576.5,190.5 L576.1,189 L575.8,187.6 L575.6,186.1 L575.3,184.7 L575.1,183.2 L574.9,181.6 L574.7,180 L574.5,178.3 L574.3,176.5 L574.1,174.6 L573.9,172.7 L573.8,170.8 L573.7,168.8 L573.6,166.9 L573.5,165 L573.5,163 L573.5,160.9 L573.5,158.7 L573.6,156.6 L573.6,154.5 L573.7,152.7 L573.8,151.2 L573.8,150Z"/></clipPath>
<linearGradient id="fadeup" x1="0" y1="0" x2="0" y2="1"><stop offset="0" stop-color="#fff" stop-opacity="1"/><stop offset="0.2" stop-color="#fff" stop-opacity="1"/><stop offset="0.35" stop-color="#fff" stop-opacity="0.85"/><stop offset="0.65" stop-color="#fff" stop-opacity="0.35"/><stop offset="1" stop-color="#fff" stop-opacity="0"/></linearGradient>
<clipPath id="lumclip"><path d="M559.4,254.7 L559.4,254.7 L558.9,256.1 L558.9,256.2 L558.4,257.6 L558.4,257.6 L557.8,259 L557.8,259 L557.2,260.4 L557.2,260.4 L556.6,261.9 L556.6,262 L555.9,263.5 L555.9,263.5 L555.1,265.1 L555.1,265.1 L554.3,266.7 L554.3,266.7 L553.4,268.3 L553.4,268.3 L552.5,269.9 L552.5,269.9 L551.4,271.5 L551.4,271.5 L550.4,273 L550.4,273.1 L549.2,274.5 L549.2,274.6 L548.1,276 L548.1,276 L546.9,277.4 L546.9,277.4 L545.7,278.8 L545.6,278.8 L544.4,280.2 L544.4,280.2 L543.1,281.6 L543.1,281.6 L541.8,283 L541.8,283 L540.5,284.4 L539.2,285.8 L539.2,285.8 L537.8,287.3 L537.7,287.3 L536.2,288.9 L536.2,288.9 L534.7,290.5 L534.7,290.5 L533.1,292.1 L533.1,292.1 L531.4,293.7 L531.4,293.7 L529.8,295.3 L529.8,295.3 L528.2,296.9 L526.6,298.4 L525.1,299.9 L523.7,301.4 L522.2,302.8 L522.2,302.8 L520.9,304.1 L519.5,305.5 L518.2,306.8 L516.9,308.1 L515.6,309.4 L514.3,310.7 L513,312 L511.7,313.4 L510.3,314.8 L508.9,316.3 L508.9,316.3 L507.4,317.8 L506,319.3 L504.5,320.8 L503,322.3 L501.5,323.9 L501.5,323.9 L500.1,325.5 L500.1,325.5 L498.7,327.1 L497.3,328.7 L497.3,328.7 L495.9,330.4 L494.5,332.1 L494.5,332.1 L493.1,333.8 L491.7,335.5 L490.3,337.2 L490.3,337.2 L488.9,338.9 L488.9,338.9 L487.6,340.5 L487.6,340.5 L486.4,342.2 L486.4,342.2 L485.2,343.8 L485.2,343.8 L484.1,345.5 L484.1,345.5 L483.1,347.1 L483.1,347.1 L482.2,348.7 L482.2,348.7 L481.3,350.3 L481.3,350.3 L480.4,352 L480.4,352 L479.6,353.6 L479.6,353.6 L478.9,355.3 L478.9,355.3 L478.2,357 L478.2,357 L477.5,358.6 L477.5,358.6 L476.9,360.3 L476.9,360.3 L476.3,362 L476.3,362.1 L475.7,363.8 L475.7,363.8 L475.2,365.6 L475.2,365.6 L474.6,367.5 L474.6,367.5 L474.2,369.3 L474.2,369.4 L473.7,371.2 L473.7,371.3 L473.3,373.1 L472.9,375 L472.6,376.7 L472.6,376.7 L472.3,378.4 L472.3,378.4 L472.1,379.9 L472.1,379.9 L472,381.3 L472,381.3 L471.9,382.7 L471.9,382.7 L471.9,384 L471.9,384 L472,385.2 L472,385.2 L472.1,386.3 L472.1,386.3 L472.2,387.4 L472.2,387.4 L472.4,388.4 L472.4,388.4 L472.7,389.4 L472.7,389.4 L473,390.4 L473,390.4 L473.4,391.5 L473.4,391.5 L473.9,392.6 L473.9,392.6 L474.5,393.8 L474.5,393.8 L475.2,395.1 L475.2,395.1 L475.9,396.3 L475.9,396.3 L476.6,397.5 L476.6,397.5 L477.4,398.7 L477.4,398.7 L478.2,399.8 L478.2,399.8 L479.1,400.8 L479.1,400.8 L480,401.7 L480.1,401.8 L481,402.6 L481,402.6 L482.1,403.4 L482.1,403.4 L483.3,404.2 L483.3,404.2 L484.8,405.1 L484.8,405.1 L486.4,406 L486.4,406 L488.2,406.8 L488.2,406.8 L490.1,407.6 L490.1,407.6 L492.1,408.4 L492.1,408.4 L494,409 L494,409 L496,409.6 L496,409.6 L497.8,410.1 L497.8,410.1 L499.6,410.4 L499.6,410.4 L501.2,410.7 L501.2,410.7 L502.9,410.9 L502.9,410.9 L504.7,411 L504.7,411 L506.5,411 L506.5,411 L508.3,410.9 L508.3,410.9 L510.2,410.8 L510.2,410.8 L512,410.6 L512,410.6 L513.8,410.4 L513.8,410.4 L515.6,410.1 L515.6,410.1 L517.3,409.8 L517.3,409.8 L519,409.4 L519,409.4 L520.6,409 L520.6,409 L522.2,408.6 L522.2,408.6 L523.7,408.2 L523.7,408.2 L525.1,407.7 L525.1,407.7 L526.3,407.2 L526.3,407.2 L527.5,406.6 L527.5,406.6 L528.5,406.1 L528.5,406 L529.4,405.5 L529.4,405.5 L530.1,404.9 L530.2,404.9 L530.8,404.3 L530.8,404.2 L531.5,403.5 L531.5,403.5 L532.2,402.5 L532.3,402.5 L533,401.4 L533,401.4 L533.7,400.1 L533.7,400.1 L534.4,398.8 L534.4,398.8 L535.1,397.4 L535.1,397.4 L535.7,396 L535.7,396 L536.3,394.6 L536.3,394.6 L536.8,393.3 L536.8,393.2 L537.2,392.2 L537.2,392.2 L537.4,391.3 L537.4,391.2 L537.6,390.3 L537.6,390.3 L537.8,389.3 L537.8,389.3 L537.9,388.2 L537.9,388.2 L538,386.9 L538,386.9 L538.1,385.4 L538.2,383.7 L538.2,383.7 L538.4,381.9 L538.4,381.9 L538.5,380 L538.7,378.1 L538.7,378.1 L538.8,376.2 L538.8,376.2 L538.9,374 L539,371.7 L539,371.7 L539.3,369.2 L539.3,369.2 L539.5,366.7 L539.5,366.7 L539.8,364.1 L539.8,364 L540.2,361.4 L540.2,361.4 L540.7,358.7 L540.7,358.7 L541.3,356 L541.3,356 L542.1,353.4 L542.1,353.4 L542.9,350.9 L542.9,350.9 L543.8,348.4 L543.8,348.4 L544.7,346 L544.7,346 L545.7,343.6 L545.7,343.6 L546.7,341.3 L546.7,341.3 L547.8,339.1 L547.8,339.1 L548.8,336.9 L548.8,336.9 L549.8,334.8 L550.7,332.7 L550.7,332.7 L551.7,330.6 L551.7,330.6 L552.7,328.6 L552.7,328.6 L553.7,326.6 L553.7,326.6 L554.7,324.7 L554.7,324.7 L555.7,322.8 L555.7,322.8 L556.7,320.9 L556.7,320.9 L557.7,319 L557.7,319 L558.7,317.2 L558.7,317.2 L559.7,315.3 L559.7,315.3 L560.7,313.3 L560.7,313.3 L561.7,311.3 L561.8,311.3 L562.8,309.3 L562.8,309.3 L563.9,307.3 L563.9,307.3 L565,305.4 L565,305.4 L566.2,303.4 L567.2,301.5 L568.3,299.6 L569.3,297.7 L569.3,297.7 L570.3,295.9 L570.3,295.9 L571.3,294.1 L571.3,294.1 L572.2,292.2 L573.1,290.3 L574,288.4 L574.9,286.6 L575.8,284.7 L576.6,282.8 L577.4,281 L578.2,279.1 L579,277.2 L579.8,275.4 L580.5,273.5 L581.3,271.5 L582,269.5 L582.8,267.5 L583.5,265.5 L584.1,263.5 L584.1,263.5 L584.8,261.7 L584.8,261.7 L585.3,259.9 L585.3,259.9 L585.8,258.3 L585.8,258.3 L586.2,256.9 L586.2,256.9 L586.5,255.6 L586.5,255.6 L586.8,254.5 L586.8,254.5 L586.9,253.5 L586.9,253.5 L586.9,253.5 L587,253.4 L587,253.4 L587,253.3 L587,253.3 L587.1,253.2 L587.1,253.2 L587.1,253.1 L587.2,253.1 L587.2,253.1 L587.3,253 L587.3,253 L587.4,253 L587.4,253 L587.4,253 L587.3,241 L587.3,241 L587.3,241 L561.2,241 L561.2,241 L561.2,241 L559.6,253 L559.6,253 L559.6,253 L559.6,253 L559.7,253.1 L559.7,253.1 L559.7,253.2 L559.8,253.2 L559.8,253.3 L559.8,253.4 L559.8,253.4 L559.8,253.5 L559.8,253.5 L559.8,253.6Z"/></clipPath>
<radialGradient id="lobg" gradientUnits="userSpaceOnUse" cx="801" cy="90.5" r="46"><stop offset="0.25" stop-color="#8682c2"/><stop offset="0.42" stop-color="#9c92ca"/><stop offset="0.56" stop-color="#b2a0cf"/><stop offset="0.7" stop-color="#c6a4d4"/><stop offset="1" stop-color="#c8a6d5"/></radialGradient>
<clipPath id="lobclip"><path d="M805,84.2 L805.1,84.2 L805.3,84.3 L805.5,84.4 L805.7,84.4 L805.8,84.4 L806,84.4 L806.2,84.4 L806.4,84.4 L806.5,84.3 L806.7,84.2 L806.9,84.1 L807,84 L807.1,83.9 L807.3,83.8 L807.4,83.7 L807.5,83.5 L807.5,83.5 L807.5,83.5 L807.6,83.3 L807.6,83.3 L807.9,82.8 L807.9,82.8 L808,82.7 L808,82.7 L808.3,82.2 L808.3,82.2 L808.5,81.9 L808.6,81.9 L808.9,81.4 L808.9,81.4 L809.3,81 L809.3,80.9 L809.7,80.5 L809.7,80.5 L810,80.3 L810,80.2 L810.5,79.8 L810.5,79.8 L810.6,79.7 L810.7,79.6 L811.2,79.2 L811.2,79.1 L811.8,78.7 L811.8,78.7 L812.2,78.3 L812.3,78.3 L812.6,77.9 L812.7,77.9 L812.9,77.7 L813,77.6 L813.1,77.4 L813.2,77.3 L813.3,77.2 L813.4,77.1 L813.6,76.7 L813.7,76.7 L814,76.2 L814,76.1 L814.3,75.6 L814.3,75.6 L814.6,75.1 L814.6,75 L814.8,74.6 L814.9,74.5 L815.1,74.1 L815.1,74 L815.3,73.6 L815.3,73.5 L815.4,73.1 L815.5,73 L815.6,72.6 L815.6,72.5 L815.7,72.1 L815.7,72 L815.8,71.4 L815.8,71.4 L815.8,70.7 L815.8,70.7 L815.9,70 L815.9,69.9 L815.9,69.3 L815.9,69.2 L815.9,68.5 L815.9,68.4 L815.8,67.7 L815.8,67.7 L815.8,67 L815.8,66.9 L815.7,66.2 L815.6,66.1 L815.5,65.4 L815.5,65.3 L815.3,64.6 L815.3,64.5 L815,63.7 L815,63.6 L814.7,62.7 L814.7,62.6 L814.4,61.7 L814.3,61.6 L814,60.6 L813.9,60.6 L813.5,59.6 L813.5,59.5 L813,58.5 L813,58.5 L812.5,57.6 L812.5,57.5 L812,56.6 L812,56.6 L811.5,55.8 L811.4,55.7 L811,55 L810.9,54.9 L810.4,54.3 L810.3,54.2 L809.7,53.5 L809.7,53.4 L809.1,52.8 L809,52.7 L808.4,52 L808.3,52 L807.6,51.3 L807.6,51.3 L806.9,50.7 L806.8,50.7 L806.1,50.1 L806.1,50.1 L805.9,50 L805.8,49.9 L805.6,49.8 L805.5,49.7 L805.3,49.7 L805.1,49.7 L804.9,49.6 L804.7,49.7 L804.6,49.7 L804.4,49.7 L804.2,49.8 L804.1,49.9 L803.9,49.9 L803.8,50 L803.6,50.2 L803.5,50.3 L803.4,50.4 L803.3,50.6 L803.2,50.8 L803.2,50.9 L803.1,51.1 L803.1,51.3 L803.1,51.5 L803.4,82.2 L803.4,82.4 L803.5,82.6 L803.5,82.8 L803.6,82.9 L803.7,83.1 L803.7,83.3 L803.9,83.4 L804,83.5 L804.1,83.7 L804.3,83.8 L804.4,83.8 L804.5,83.9 L804.6,83.9ZM808.5,97.8 L808.4,97.6 L808.3,97.5 L808.2,97.4 L808.1,97.2 L807.9,97.1 L807.8,97 L807.6,97 L807.4,96.9 L807.3,96.9 L807.1,96.8 L806.9,96.8 L806.7,96.8 L806.6,96.9 L806.4,96.9 L806.2,97 L806.1,97 L805.9,97.1 L805.8,97.2 L805.6,97.3 L805.5,97.5 L805.4,97.6 L805.3,97.8 L805.2,97.9 L805.2,98.1 L805.1,98.3 L805.1,98.4 L805.1,98.6 L805.1,98.8 L805.1,99 L809.4,121.8 L809.4,121.9 L809.5,122.1 L809.6,122.2 L809.7,122.4 L809.8,122.5 L809.9,122.7 L810,122.8 L810.1,122.9 L810.3,123 L810.4,123.1 L810.6,123.1 L810.8,123.2 L811,123.2 L811.1,123.2 L811.3,123.2 L811.5,123.2 L811.7,123.2 L811.8,123.1 L812,123 L812.1,122.9 L812.3,122.8 L812.4,122.7 L812.5,122.6 L812.6,122.4 L812.7,122.3 L812.8,122.1 L813,121.7 L813,121.6 L813.3,120.8 L813.4,120.8 L813.6,120 L813.6,119.9 L813.9,119.1 L813.9,119 L814.1,118.2 L814.1,118.2 L814.2,117.4 L814.3,117.3 L814.4,116.5 L814.4,116.4 L814.5,115.6 L814.5,115.5 L814.6,114.7 L814.6,114.6 L814.6,113.9 L814.6,113.8 L814.6,113.1 L814.6,113 L814.6,112.4 L814.6,112.3 L814.5,111.6 L814.5,111.5 L814.4,110.8 L814.4,110.7 L814.3,110 L814.2,109.9 L814.1,109.2 L814.1,109.1 L813.9,108.4 L813.9,108.3 L813.7,107.6 L813.6,107.5 L813.4,106.8 L813.4,106.7 L813.2,106.1 L813.1,106 L813,105.5 L812.9,105.4 L812.7,104.9 L812.6,104.9 L812.4,104.3 L812.3,104.2 L812,103.6 L811.9,103.6 L811.5,102.9 L811.5,102.9 L811,102.2 L811,102.2 L810.5,101.4 L810.5,101.3 L810,100.6 L810,100.6 L809.9,100.5 L809.9,100.5 L809.5,99.7 L809.5,99.7 L809.4,99.5 L809.4,99.5 L809,98.8 L809,98.8 L808.9,98.7 L808.9,98.7 L808.6,98 L808.6,98ZM791.3,134.2 L791.3,134.3 L791.3,134.5 L791.3,134.7 L791.3,134.8 L791.3,135 L791.3,135.2 L791.4,135.3 L791.5,135.5 L791.6,135.6 L791.7,135.8 L791.8,135.9 L791.9,136 L792.1,136.1 L792.2,136.2 L792.4,136.3 L792.5,136.4 L792.7,136.4 L792.9,136.4 L793,136.4 L793.7,136.5 L793.8,136.5 L794.7,136.4 L794.8,136.4 L795.6,136.3 L795.7,136.3 L796.6,136.2 L796.7,136.2 L797.5,136 L797.6,136 L798.5,135.7 L798.6,135.7 L799.5,135.4 L799.6,135.3 L800.6,134.9 L800.7,134.9 L801.7,134.5 L801.8,134.4 L802.7,133.9 L802.8,133.9 L803.7,133.4 L803.8,133.3 L804.7,132.8 L804.8,132.7 L805.3,132.3 L805.5,132.2 L805.6,132.1 L805.7,131.9 L805.8,131.8 L805.9,131.6 L806,131.5 L806,131.3 L806.1,131.1 L806.1,131 L806.1,130.8 L806.1,130.6 L806,130.4 L806,130.3 L805.9,130.1 L805.9,130 L805.8,130 L805.8,129.9 L801.9,109.1 L801.9,108.9 L801.8,108.7 L801.8,108.6 L801.7,108.4 L801.6,108.3 L801.4,108.1 L801.3,108 L801.2,107.9 L801,107.8 L800.8,107.7 L800.7,107.7 L800.5,107.6 L800.3,107.6 L800.2,107.6 L800,107.6 L799.8,107.6 L799.6,107.7 L799.5,107.7 L799.3,107.8 L799.1,107.9 L799,108 L798.9,108.1 L798.8,108.3 L798.6,108.4 L798.6,108.6 L798.5,108.7 L798.4,108.9ZM789.9,48 L789.8,48.1 L789.6,48.1 L789.4,48.2 L789.3,48.3 L789.2,48.4 L789,48.6 L788.9,48.7 L788.8,48.9 L788.7,49 L788.7,49.2 L788.6,49.3 L788.6,49.5 L788.6,49.7 L788.6,49.9 L788.6,50.1 L788.6,50.2 L788.7,50.4 L794.8,66.7 L794.8,66.8 L794.9,67 L795,67.1 L795.1,67.3 L795.3,67.4 L795.4,67.5 L795.6,67.6 L795.7,67.7 L795.9,67.7 L796.1,67.8 L796.2,67.8 L796.4,67.8 L796.6,67.8 L796.8,67.8 L796.9,67.8 L797.1,67.7 L797.3,67.6 L797.4,67.5 L797.6,67.4 L797.7,67.3 L797.8,67.2 L797.9,67 L798,66.9 L798.1,66.7 L798.2,66.5 L798.2,66.4 L798.2,66.2 L798.2,66 L798.1,49 L798.1,48.8 L798,48.6 L798,48.5 L797.9,48.3 L797.8,48.1 L797.7,48 L797.6,47.8 L797.5,47.7 L797.4,47.6 L797.2,47.5 L797.1,47.4 L796.9,47.3 L796.7,47.3 L796.6,47.2 L796.4,47.2 L796.2,47.2 L795.4,47.2 L795.3,47.2 L794.4,47.3 L794.3,47.3 L793.3,47.4 L793.3,47.4 L792.2,47.6 L792.2,47.6 L791.1,47.8 L791.1,47.8 L790,48 L790,48ZM770.9,118.3 L770.7,118.4 L770.6,118.6 L770.5,118.7 L770.4,118.9 L770.3,119 L770.3,119.2 L770.2,119.4 L770.2,119.5 L770.2,119.7 L770.2,119.9 L770.3,120.1 L770.3,120.3 L770.4,120.4 L770.4,120.6 L771.1,121.7 L771.1,121.8 L771.9,123 L771.9,123 L772.7,124.2 L772.7,124.2 L773.5,125.3 L773.5,125.4 L774.3,126.4 L774.3,126.5 L775.1,127.5 L775.2,127.5 L775.9,128.4 L776,128.4 L776.8,129.2 L776.8,129.3 L777.6,130 L777.7,130.1 L778.5,130.8 L778.6,130.8 L779.5,131.5 L779.5,131.5 L780.5,132.2 L780.5,132.2 L781.5,132.8 L781.5,132.8 L782.5,133.4 L782.5,133.4 L783.5,133.9 L783.6,134 L784,134.1 L784.1,134.2 L784.3,134.3 L784.5,134.3 L784.6,134.3 L784.8,134.3 L785,134.3 L785.2,134.3 L785.3,134.2 L785.5,134.1 L785.6,134.1 L785.8,134 L785.9,133.9 L786,133.7 L786.2,133.6 L786.3,133.5 L786.3,133.3 L786.4,133.2 L786.5,133 L794.9,102.9 L795,102.7 L795,102.6 L795,102.4 L795,102.2 L794.9,102 L794.9,101.9 L794.8,101.7 L794.8,101.6 L794.7,101.4 L794.6,101.3 L794.4,101.1 L794.3,101 L794.2,100.9 L794,100.8 L793.9,100.8 L793.7,100.7 L793.5,100.7 L793.4,100.6 L793.2,100.6 L793,100.6 L792.8,100.7 L792.7,100.7 L792.5,100.8 L792.3,100.8 L792.2,100.9 L792,101ZM768.9,65.4 L768.8,65.5 L768.7,65.7 L768.7,65.9 L768.7,66.1 L768.7,66.2 L768.7,66.4 L768.7,66.6 L768.8,66.8 L768.8,66.9 L768.9,67.1 L769,67.3 L769.1,67.4 L769.2,67.5 L769.4,67.6 L769.5,67.8 L791.6,81.6 L791.7,81.7 L791.9,81.8 L792.1,81.8 L792.2,81.9 L792.4,81.9 L792.6,81.9 L792.8,81.9 L792.9,81.8 L793.1,81.8 L793.3,81.7 L793.4,81.6 L793.6,81.5 L793.7,81.4 L793.9,81.3 L794,81.2 L794.1,81 L794.1,80.9 L794.2,80.7 L794.3,80.5 L794.3,80.3 L794.3,80.2 L794.3,80 L794.3,79.8 L794.3,79.6 L794.2,79.5 L784.1,52.4 L784,52.3 L784,52.1 L783.9,52 L783.7,51.8 L783.6,51.7 L783.5,51.6 L783.3,51.5 L783.2,51.4 L783,51.4 L782.8,51.3 L782.7,51.3 L782.5,51.3 L782.3,51.3 L782.1,51.3 L782,51.3 L781.8,51.4 L781.6,51.4 L781.5,51.5 L781.1,51.7 L781.1,51.8 L780.2,52.3 L780.2,52.4 L779.3,53 L779.3,53 L778.4,53.7 L778.4,53.7 L777.6,54.4 L777.5,54.4 L776.7,55.1 L776.7,55.2 L775.9,55.9 L775.9,55.9 L775.1,56.7 L775,56.8 L774.3,57.6 L774.2,57.7 L773.5,58.6 L773.4,58.6 L772.7,59.6 L772.7,59.6 L771.9,60.6 L771.9,60.6 L771.2,61.6 L771.2,61.7 L770.5,62.7 L770.4,62.7 L769.8,63.8 L769.8,63.8 L769.2,64.9 L769.1,64.9ZM764.7,94.9 L764.6,94.9 L764.4,94.9 L764.2,95 L764.1,95.1 L763.9,95.1 L763.8,95.2 L763.6,95.4 L763.5,95.5 L763.4,95.6 L763.3,95.8 L763.2,95.9 L763.1,96.1 L763.1,96.3 L763.1,96.4 L763,96.6 L763,96.8 L763,97 L763.1,97 L763.2,98.4 L763.2,98.4 L763.3,99.7 L763.3,99.8 L763.5,101.1 L763.5,101.1 L763.7,102.4 L763.7,102.4 L764,103.7 L764,103.8 L764.3,105.1 L764.3,105.1 L764.7,106.5 L764.7,106.6 L765.1,108 L765.1,108 L765.5,109.4 L765.5,109.5 L766,110.9 L766,110.9 L766.5,112.3 L766.6,112.5 L766.7,112.6 L766.8,112.8 L766.9,112.9 L767,113 L767.2,113.1 L767.3,113.2 L767.5,113.3 L767.7,113.4 L767.8,113.4 L768,113.5 L768.2,113.5 L768.4,113.5 L768.6,113.4 L768.7,113.4 L768.9,113.3 L769.1,113.3 L769.2,113.2 L769.4,113.1 L789.2,96.9 L789.4,96.8 L789.5,96.6 L789.6,96.5 L789.7,96.3 L789.7,96.2 L789.8,96 L789.9,95.9 L789.9,95.7 L789.9,95.5 L789.9,95.3 L789.9,95.2 L789.8,95 L789.8,94.8 L789.7,94.7 L789.6,94.5 L789.5,94.4 L789.4,94.2 L789.3,94.1 L789.1,94 L789,93.9 L788.8,93.8 L788.7,93.8 L788.5,93.7 L788.3,93.7 L788.2,93.7 L788,93.7ZM762.9,88 L762.9,88.2 L763,88.4 L763,88.5 L763.1,88.7 L763.1,88.9 L763.2,89 L763.3,89.2 L763.4,89.3 L763.5,89.4 L763.7,89.5 L763.8,89.6 L764,89.7 L764.1,89.8 L764.3,89.8 L764.5,89.9 L764.7,89.9 L764.8,89.9 L787.3,88.7 L787.5,88.7 L787.6,88.7 L787.8,88.6 L788,88.5 L788.1,88.5 L788.3,88.4 L788.4,88.2 L788.5,88.1 L788.6,88 L788.7,87.8 L788.8,87.7 L788.9,87.5 L789,87.4 L789,87.2 L789,87 L789,86.8 L789,86.7 L789,86.5 L788.9,86.3 L788.8,86.2 L788.8,86 L788.7,85.9 L788.6,85.7 L788.4,85.6 L788.3,85.5 L788.2,85.4 L768,72.7 L767.8,72.6 L767.7,72.6 L767.5,72.5 L767.4,72.5 L767.2,72.4 L767,72.4 L766.8,72.4 L766.7,72.5 L766.5,72.5 L766.3,72.6 L766.2,72.6 L766,72.7 L765.9,72.8 L765.8,73 L765.7,73.1 L765.5,73.2 L765.5,73.4 L765.4,73.5 L765.3,73.7 L764.9,74.9 L764.9,74.9 L764.6,76.1 L764.6,76.2 L764.2,77.4 L764.2,77.4 L764,78.6 L763.9,78.7 L763.7,79.8 L763.7,79.9 L763.5,81 L763.5,81.1 L763.3,82.2 L763.3,82.3 L763.2,83.5 L763.2,83.5 L763.1,84.7 L763.1,84.8 L763,86 L763,86.1 L763,87.3 L763,87.4Z"/></clipPath>
</defs>
<rect width="903" height="624" fill="#fff"/>
<g id="bone">
<path d="M61.1,130.1 C62.1,128.5 61.3,128.1 61.7,126 C62.1,124 62.5,120.5 63.4,117.8 C64.3,115.1 65.3,112.6 67.3,110 C69.3,107.4 72.4,104 75.2,102.1 C78,100.2 81.2,99.2 84.2,98.5 C87.2,97.8 90.1,97.5 93.1,97.8 C96.1,98.1 99.3,98.9 102.1,100.4 C104.9,101.9 107.8,104.3 110,106.6 C112.2,108.9 113.8,111.4 115,114.4 C116.2,117.4 116.8,121.1 117,124.5 C117.2,127.9 116.7,131.6 116.1,134.6 C115.5,137.6 114.4,140.5 113.3,142.5 C112.2,144.5 111,145.8 109.5,146.6 C108,147.3 106,147 104.4,147 C102.8,147 101.8,146.4 99.9,146.8 C98,147.2 95.2,148 93.1,149.2 C91,150.3 89.2,151.8 87.5,153.7 C85.8,155.6 84.4,157.3 83,160.4 C81.6,163.5 80.2,167.6 79,172 C77.8,176.4 76.5,181.5 75.6,187 C74.7,192.5 74,198.7 73.8,205 C73.6,211.3 73.7,217.2 74.2,225 C74.7,232.8 75.8,241.2 77,252 C78.2,262.8 78.7,272.2 81.3,290 C83.9,307.8 90.6,346 92.4,359 C94.2,372 92.8,365.1 92.2,368 C91.6,370.9 90.2,374.1 88.6,376.2 C87,378.3 84.6,379.9 82.5,380.8 C80.4,381.7 78.2,381.9 76,381.8 C73.8,381.7 71.5,381.1 69.5,380 C67.5,378.9 65.4,377.2 64,375 C62.6,372.8 61.8,369.3 61.2,367 C60.6,364.7 62.6,373.8 60.3,361 C58,348.2 50.5,308.2 47.2,290 C43.9,271.8 42.6,263.7 40.5,252 C38.4,240.3 36.5,228.3 34.5,220 C32.5,211.7 30.4,207 28.5,202 C26.6,197 24.3,193.2 23,190 C21.7,186.8 21.6,185.5 20.7,182.8 C19.8,180.1 18.3,176.8 17.3,173.8 C16.3,170.8 15.1,167.7 14.5,164.9 C13.9,162.1 13.9,159.6 14,157 C14.1,154.4 14.5,151.4 15.1,149.2 C15.7,147 16.2,145.5 17.3,143.6 C18.4,141.7 20.7,139.9 21.8,138 C22.9,136.1 23.2,133.6 24.1,132.3 C25,131 26.1,130.4 27.4,130.1 C28.7,129.8 30.4,130.3 31.9,130.7 C33.4,131.1 34.9,131.8 36.4,132.3 C37.9,132.9 39.8,133.2 40.9,134 C42,134.8 42,136.1 43.1,136.8 C44.2,137.5 45.5,138.2 47.6,138 C49.7,137.8 53.2,137 55.5,135.7 C57.8,134.4 60.1,131.7 61.1,130.1Z" fill="#f1d4ae"/>
<g clip-path="url(#boneclip)">
<path d="M65.1,129 C66.1,126.5 67.4,124 68.5,121.2 C69.6,118.4 69.8,114.9 71.8,112.2 C73.8,109.5 77.4,106.4 80.8,104.9 C84.2,103.4 88.3,102.9 92,103.2 C95.7,103.5 100.2,104.7 103.2,106.6 C106.2,108.5 108.5,111.4 110,114.4 C111.5,117.4 112,121.1 112.2,124.5 C112.4,127.9 111.8,132.2 111.1,134.6 C110.3,137 109.6,138 107.7,139.1 C105.8,140.2 102.5,140.5 99.9,141.4 C97.3,142.3 94.4,143.2 92,144.7 C89.6,146.2 87.3,148.1 85.3,150.3 C83.3,152.5 81.7,154.7 80,158 C78.3,161.3 76.5,165.3 75,170 C73.5,174.7 72,180.2 71,186 C70,191.8 69.4,198.5 69,205 C68.6,211.5 68.8,218.3 68.5,225 C68.2,231.7 67.9,240 67.5,245 C67.1,250 68.1,253.3 66,255 C63.9,256.7 57.7,256.7 55,255 C52.3,253.3 51.8,249.5 50,245 C48.2,240.5 46.3,234.7 44,228 C41.7,221.3 38.6,212.2 36,205 C33.4,197.8 30.4,189.9 28.6,185.1 C26.8,180.3 26.3,179.1 25.2,176.1 C24.1,173.1 22.6,170.3 21.8,167.1 C21.1,163.9 20.7,160.2 20.7,157 C20.7,153.8 20.9,151 21.8,148 C22.7,145 24.8,140.9 26.3,139.1 C27.8,137.3 28.7,137.5 30.8,137.4 C32.9,137.3 36.6,137.8 38.7,138.5 C40.9,139.2 41.8,140.7 43.7,141.3 C45.6,142 47.8,142.4 49.9,142.4 C52,142.4 54.5,142.3 56.6,141.3 C58.7,140.3 60.8,138.6 62.2,136.5 C63.6,134.4 64,131.6 65.1,129Z" fill="url(#stip)"/>
<path d="M45,367.5 L100,362.8 L100,395 L45,395Z" fill="#d6b590"/>
</g>
<path d="M61.1,130.1 C62.1,128.5 61.3,128.1 61.7,126 C62.1,124 62.5,120.5 63.4,117.8 C64.3,115.1 65.3,112.6 67.3,110 C69.3,107.4 72.4,104 75.2,102.1 C78,100.2 81.2,99.2 84.2,98.5 C87.2,97.8 90.1,97.5 93.1,97.8 C96.1,98.1 99.3,98.9 102.1,100.4 C104.9,101.9 107.8,104.3 110,106.6 C112.2,108.9 113.8,111.4 115,114.4 C116.2,117.4 116.8,121.1 117,124.5 C117.2,127.9 116.7,131.6 116.1,134.6 C115.5,137.6 114.4,140.5 113.3,142.5 C112.2,144.5 111,145.8 109.5,146.6 C108,147.3 106,147 104.4,147 C102.8,147 101.8,146.4 99.9,146.8 C98,147.2 95.2,148 93.1,149.2 C91,150.3 89.2,151.8 87.5,153.7 C85.8,155.6 84.4,157.3 83,160.4 C81.6,163.5 80.2,167.6 79,172 C77.8,176.4 76.5,181.5 75.6,187 C74.7,192.5 74,198.7 73.8,205 C73.6,211.3 73.7,217.2 74.2,225 C74.7,232.8 75.8,241.2 77,252 C78.2,262.8 78.7,272.2 81.3,290 C83.9,307.8 90.6,346 92.4,359 C94.2,372 92.8,365.1 92.2,368 C91.6,370.9 90.2,374.1 88.6,376.2 C87,378.3 84.6,379.9 82.5,380.8 C80.4,381.7 78.2,381.9 76,381.8 C73.8,381.7 71.5,381.1 69.5,380 C67.5,378.9 65.4,377.2 64,375 C62.6,372.8 61.8,369.3 61.2,367 C60.6,364.7 62.6,373.8 60.3,361 C58,348.2 50.5,308.2 47.2,290 C43.9,271.8 42.6,263.7 40.5,252 C38.4,240.3 36.5,228.3 34.5,220 C32.5,211.7 30.4,207 28.5,202 C26.6,197 24.3,193.2 23,190 C21.7,186.8 21.6,185.5 20.7,182.8 C19.8,180.1 18.3,176.8 17.3,173.8 C16.3,170.8 15.1,167.7 14.5,164.9 C13.9,162.1 13.9,159.6 14,157 C14.1,154.4 14.5,151.4 15.1,149.2 C15.7,147 16.2,145.5 17.3,143.6 C18.4,141.7 20.7,139.9 21.8,138 C22.9,136.1 23.2,133.6 24.1,132.3 C25,131 26.1,130.4 27.4,130.1 C28.7,129.8 30.4,130.3 31.9,130.7 C33.4,131.1 34.9,131.8 36.4,132.3 C37.9,132.9 39.8,133.2 40.9,134 C42,134.8 42,136.1 43.1,136.8 C44.2,137.5 45.5,138.2 47.6,138 C49.7,137.8 53.2,137 55.5,135.7 C57.8,134.4 60.1,131.7 61.1,130.1Z" fill="none" stroke="#c4a27c" stroke-width="0.9"/>
<path d="M47,213 C48.1,206.2 50.2,209.2 53,209 C55.8,208.8 60.8,205.2 63.5,212 C66.2,218.8 66.8,237 69,250 C71.2,263 73.6,271.7 76.5,290 C79.4,308.3 85.2,346.2 86.5,360 C87.8,373.8 86.2,370.1 84.5,373 C82.8,375.9 78.8,377.4 76,377.5 C73.2,377.6 69.2,376.1 67.5,373.5 C65.8,370.9 67.8,375.9 65.5,362 C63.2,348.1 57.2,308.7 54,290 C50.8,271.3 47.7,262.8 46.5,250 C45.3,237.2 45.9,219.8 47,213Z" fill="url(#stip2)" filter="url(#rough)"/>
<path d="M50,216 C51,212.2 53.2,212.7 55,212.5 C56.8,212.3 59.2,212.1 60.5,215 C61.8,217.9 62,224.2 63,230 C64,235.8 64.7,240 66.5,250 C68.3,260 71.1,271.7 74,290 C76.9,308.3 82.8,346.3 84,360 C85.2,373.7 82.8,369.6 81.5,372 C80.2,374.4 77.9,374.6 76,374.5 C74.1,374.4 71.3,373.6 70,371.5 C68.7,369.4 70.5,375.6 68.3,362 C66,348.4 59.5,307.8 56.5,290 C53.5,272.2 51.2,264.2 50,255 C48.8,245.8 49,241.5 49,235 C49,228.5 49,219.8 50,216Z" fill="#d25b47" filter="url(#rough)"/>
<path d="M62.5,294 C63.3,292.2 65.2,292 66.5,292.5 C67.8,293 69.1,292.4 70.5,297 C71.9,301.6 73,309.3 75,320 C77,330.7 81.4,352.9 82.4,361 C83.4,369.1 81.9,366.8 81,368.5 C80.1,370.2 78.2,370.9 76.8,371 C75.4,371.1 73.4,370.4 72.4,369 C71.4,367.6 71.9,369 70.8,362.5 C69.7,356 67.5,339.9 66,330 C64.5,320.1 62.4,309 61.8,303 C61.2,297 61.7,295.8 62.5,294Z" fill="#eab23c"/>
<path d="M57.5,209.6 C58,214.7 59.5,231.3 60.5,240 C61.5,248.7 62.2,254.2 63.2,262 C64.2,269.8 64.6,275.2 66.2,286.5 C67.8,297.8 70.7,316.6 72.7,330 C74.8,343.4 77.5,360.8 78.5,367" fill="none" stroke="#a62a2c" stroke-width="1.9"/>
<path d="M42.7,193 C43.4,194.2 45.6,197.6 47,200 C48.4,202.4 49.8,205.2 51,207.5 C52.2,209.8 53.5,212.9 54,214" fill="none" stroke="#b8473e" stroke-width="0.8"/>
<path d="M75,158.1 C73.5,160.1 68.4,166.6 66,170 C63.6,173.4 61.8,174.8 60.4,178.3 C59,181.8 58.1,185.6 57.5,190.8 C56.9,196 56.7,206.5 56.5,209.6" fill="none" stroke="#a83a36" stroke-width="0.9"/>
<path d="M42.5,174 C43,176 44.5,182.2 45.5,186 C46.5,189.8 47.5,192.7 48.5,197 C49.5,201.3 51.2,209.5 51.7,212" fill="none" stroke="#6f7fa8" stroke-width="1"/>
<path d="M49.3,173.8 C49.2,175.8 48.9,182.1 48.8,186 C48.7,189.9 48.5,195.2 48.5,197" fill="none" stroke="#8e9ab8" stroke-width="0.8"/>
<path d="M51.7,212 C52.4,216.7 54.8,231.7 56.1,240 C57.4,248.3 58.8,256.7 59.6,262 C60.4,267.3 60.8,270.3 61,272" fill="none" stroke="#3a5891" stroke-width="1.5"/>
<path d="M59.6,262 C60.2,266.1 61.7,275.2 63.5,286.5 C65.3,297.8 68.3,316.6 70.4,330 C72.5,343.4 75.2,360.8 76.2,367" fill="none" stroke="#34559a" stroke-width="2.3"/>
<path d="M102,271.2 L65.6,286.7 L105.9,306.4" fill="none" stroke="#2a2a2a" stroke-width="1.5"/>
</g>
<g id="cells">
<circle cx="127.9" cy="284.8" r="25.6" fill="#c193c9" stroke="#b580bf" stroke-width="0.8"/>
<circle cx="128.5" cy="285.7" r="20.1" fill="#5d4a8f"/>
<ellipse cx="244.4" cy="261.1" rx="34" ry="35" fill="#c4b4f2" stroke="#9d83e2" stroke-width="1.1"/>
<ellipse cx="246.5" cy="266" rx="18.4" ry="19.4" fill="#9a7fd5"/>
<ellipse cx="375.7" cy="241.4" rx="41.6" ry="43.1" fill="#a19bc8" stroke="#8d74b3" stroke-width="1"/>
<ellipse cx="378.2" cy="247.5" rx="22.2" ry="23.6" fill="#7b5594"/>
<g fill="#87609f"><circle cx="363.2" cy="208.7" r="2.3"/><circle cx="375.4" cy="212.5" r="2.6"/><circle cx="383.6" cy="207.2" r="1.8"/><circle cx="350.3" cy="218.3" r="1.9"/><circle cx="358.9" cy="217.8" r="1"/><circle cx="366.5" cy="220.9" r="0.8"/><circle cx="384.8" cy="215.6" r="0.8"/><circle cx="382.5" cy="222.1" r="0.8"/><circle cx="397.5" cy="217.4" r="1"/><circle cx="393.5" cy="224.7" r="2.5"/><circle cx="354.1" cy="225.2" r="0.9"/><circle cx="359.7" cy="227" r="0.8"/><circle cx="349.8" cy="231.9" r="2.2"/><circle cx="344.8" cy="232.8" r="0.9"/><circle cx="403.4" cy="228.5" r="0.9"/><circle cx="349" cy="241.4" r="1.8"/><circle cx="341.9" cy="245" r="1"/><circle cx="409.2" cy="236.9" r="0.9"/><circle cx="348.3" cy="249.8" r="0.8"/><circle cx="405.4" cy="248.8" r="1.1"/><circle cx="403.5" cy="260.2" r="1.8"/></g>
<g fill="#1e1e1e">
<path d="M157.7,286.3 Q171,296.6 203,284 L201,280 Q171,293.4 157.7,286.3Z"/>
<path d="M206.8,279.3 L198.5,277.3 L204.5,286.9Z"/>
<path d="M284,275.6 Q298,288 331.5,273.8 L329.6,269.8 Q298,284.8 284,275.6Z"/>
<path d="M335.5,269 L327.2,267.1 L333.2,276.6Z"/>
</g>
</g>
<g id="arrows">
<path d="M236.3,128.1 L240.9,127.4 L245.5,126.6 L250.1,125.9 L254.8,125.1 L259.4,124.4 L264,123.6 L262.1,112.7 L257.5,113.5 L253,114.3 L248.4,115 L243.8,115.8 L239.2,116.5 L234.6,117.2ZM284.2,120.3 L289.3,119.5 L294.4,118.7 L299.5,117.9 L304.6,117.2 L309.8,116.5 L314.9,115.8 L313.4,104.9 L308.2,105.6 L303.1,106.3 L297.9,107.1 L292.7,107.8 L287.6,108.6 L282.4,109.4ZM335.6,113.1 L340.7,112.5 L345.9,112 L351,111.6 L356.1,111.2 L361.3,110.9 L366.4,110.6 L365.8,99.6 L360.6,99.9 L355.3,100.2 L350.1,100.6 L344.8,101.1 L339.6,101.6 L334.4,102.1ZM385.5,110.1 L391,110.1 L396.5,110.2 L402,110.4 L407.5,110.6 L413,110.9 L418.5,111.2 L419.3,100 L413.7,99.6 L408,99.3 L402.4,99.1 L396.7,98.9 L391.1,98.8 L385.4,98.8ZM435,112.6 L440.3,113.3 L445.6,114.3 L450.8,115.4 L455.6,116.9 L460.5,118.9 L465.2,121.2 L470.1,111.9 L464.8,109.3 L459.3,107 L453.5,105.1 L447.8,103.8 L442,102.7 L436.3,101.9ZM474,125.2 L476.4,126.5 L478.8,127.8 L481.1,129 L483.3,130.2 L485.2,131.5 L487.1,133 L492,128 L489.8,125.9 L487.5,124 L485.1,122.4 L482.9,120.9 L480.7,119.4 L478.5,117.9Z" fill="url(#g1)"/>
<path d="M162,139.4 L198.5,113.5 L201.6,124.6 L220.2,120.9 L221.6,132.2 L204,136.4 L206.4,147.4Z" fill="#1f1f1f"/>
<path d="M515.5,232.6 L517.3,232.6 L519.1,232.6 L520.9,232.7 L522.7,232.8 L524.4,232.9 L526.2,232.9 L526.6,226.8 L524.8,226.7 L522.9,226.6 L521.1,226.5 L519.3,226.4 L517.5,226.4 L515.7,226.4ZM496.1,232.7 L498.1,232.7 L500.1,232.6 L502.1,232.6 L504.1,232.6 L506,232.5 L508,232.5 L508,226.3 L506,226.3 L503.9,226.4 L501.9,226.4 L499.9,226.4 L497.9,226.5 L495.9,226.5ZM476.6,234.3 L478.5,234 L480.4,233.8 L482.3,233.6 L484.2,233.4 L486.1,233.2 L488,233.1 L487.6,226.9 L485.6,227 L483.6,227.2 L481.7,227.4 L479.7,227.6 L477.7,227.9 L475.8,228.1ZM457.7,238.6 L459.5,237.9 L461.4,237.3 L463.3,236.8 L465.2,236.3 L467.1,235.9 L469,235.5 L467.8,229.5 L465.8,229.9 L463.7,230.4 L461.7,230.9 L459.6,231.5 L457.6,232.1 L455.7,232.8ZM440.7,246.5 L442.1,245.4 L443.6,244.4 L445.3,243.5 L447.1,242.6 L448.9,241.8 L450.8,241 L448.6,235.8 L446.6,236.7 L444.7,237.6 L442.7,238.5 L440.7,239.6 L438.8,240.9 L436.9,242.3ZM431.4,254.4 L432.2,253.5 L433,252.7 L433.8,251.9 L434.6,251.1 L435.4,250.3 L436.2,249.5 L433.5,246.6 L432.6,247.4 L431.8,248.2 L431,249.1 L430.1,249.9 L429.3,250.8 L428.5,251.6ZM533.3,233.4 L535.2,233.5 L537.1,233.6 L539,233.7 L541,233.9 L542.9,234 L544.8,234.1 L545.2,227.9 L543.3,227.8 L541.4,227.7 L539.4,227.5 L537.5,227.4 L535.6,227.3 L533.7,227.2Z" fill="url(#g2)"/>
<path d="M555.4,231.3 L539.9,221.3 L539.3,239.6Z" fill="#1f1f1f"/>
<path d="M673.7,131.9 L675.5,131.1 L677.3,130.2 L679.1,129.4 L680.9,128.5 L682.7,127.7 L684.5,126.8 L681.7,120.9 L679.9,121.7 L678.1,122.6 L676.3,123.4 L674.5,124.3 L672.7,125.1 L670.9,126ZM658.4,140.3 L660,139.3 L661.7,138.2 L663.4,137.2 L665,136.3 L666.7,135.4 L668.5,134.5 L665.5,128.6 L663.6,129.5 L661.8,130.5 L660,131.6 L658.3,132.6 L656.5,133.7 L654.8,134.8ZM642,151.9 L643.6,150.7 L645.2,149.5 L646.9,148.4 L648.5,147.2 L650.1,146 L651.7,144.9 L647.9,139.5 L646.2,140.7 L644.6,141.9 L642.9,143 L641.3,144.2 L639.7,145.4 L638.1,146.6ZM626.6,165.1 L628,163.6 L629.5,162.2 L631,160.8 L632.4,159.4 L633.9,158.1 L635.5,156.8 L631.5,152 L629.9,153.3 L628.2,154.7 L626.6,156.2 L625.1,157.7 L623.6,159.1 L622.1,160.6ZM615.9,179.7 L616.6,177.9 L617.4,176.1 L618.4,174.4 L619.5,172.7 L620.7,171.1 L622,169.5 L617.7,165.9 L616.3,167.6 L614.9,169.5 L613.6,171.4 L612.5,173.5 L611.5,175.7 L610.6,177.8ZM611.4,192.4 L611.7,191.2 L612,190 L612.4,188.7 L612.8,187.4 L613.2,186.1 L613.5,184.8 L609.5,183.7 L609.1,185 L608.8,186.2 L608.4,187.5 L608,188.8 L607.6,190.1 L607.3,191.5ZM690.2,124.2 L691.8,123.5 L693.3,122.8 L694.8,122.1 L696.3,121.4 L697.9,120.7 L699.4,120 L696.6,114 L695.1,114.7 L693.6,115.4 L692.1,116.1 L690.5,116.8 L689,117.5 L687.5,118.2Z" fill="url(#g3)"/>
<path d="M708.9,112 L691.6,110.4 L698,126Z" fill="#1f1f1f"/>
<path d="M694.2,245.7 L696,245.7 L697.7,245.8 L699.5,245.8 L701.2,245.9 L703,246 L704.7,246.1 L705,239.6 L703.2,239.5 L701.5,239.4 L699.7,239.4 L698,239.3 L696.2,239.2 L694.5,239.2ZM674.8,245.8 L676.7,245.7 L678.5,245.6 L680.4,245.5 L682.2,245.5 L684.1,245.5 L685.9,245.5 L686,239 L684,239 L682.1,239 L680.2,239.1 L678.3,239.1 L676.4,239.2 L674.5,239.3ZM655,247.7 L657,247.5 L659,247.3 L661,247 L662.9,246.8 L664.9,246.6 L666.9,246.4 L666.3,239.9 L664.2,240.1 L662.2,240.3 L660.2,240.6 L658.2,240.8 L656.2,241 L654.2,241.3ZM635.8,251.7 L637.7,251.1 L639.6,250.6 L641.5,250 L643.4,249.6 L645.3,249.2 L647.2,248.8 L646.1,242.6 L644,243 L642,243.4 L639.9,244 L637.9,244.5 L635.9,245.1 L633.9,245.8ZM619.2,260 L620.8,258.7 L622.3,257.5 L624,256.5 L625.7,255.6 L627.6,254.7 L629.5,253.8 L627.2,248.5 L625.1,249.4 L623.1,250.4 L621,251.5 L619,252.8 L617.1,254.2 L615.3,255.7ZM609.8,268.1 L610.6,267.2 L611.5,266.4 L612.4,265.5 L613.4,264.6 L614.3,263.7 L615.2,262.8 L612.2,259.9 L611.3,260.8 L610.4,261.6 L609.6,262.5 L608.6,263.3 L607.7,264.2 L606.8,265.1ZM711.8,246.4 L713.5,246.5 L715.2,246.6 L716.8,246.7 L718.5,246.8 L720.2,246.9 L721.8,246.9 L722.2,240.5 L720.5,240.4 L718.8,240.3 L717.2,240.2 L715.5,240.1 L713.8,240 L712.2,239.9Z" fill="url(#g4)"/>
<path d="M733.6,244.5 L719.1,234.7 L717.8,252.6Z" fill="#1f1f1f"/>
<path d="M677,434.3 L678.8,434.8 L680.6,435.2 L682.5,435.7 L684.3,436.1 L686.1,436.5 L688,436.9 L690,427.1 L688.2,426.7 L686.5,426.3 L684.7,425.9 L683,425.5 L681.2,425.1 L679.5,424.7ZM657.5,428.2 L659.4,428.9 L661.2,429.6 L663.1,430.2 L664.9,430.9 L666.8,431.5 L668.7,432.1 L671.6,422.5 L669.9,421.9 L668.1,421.4 L666.3,420.8 L664.6,420.2 L662.8,419.5 L661.1,418.9ZM638.4,419.6 L640.2,420.5 L642,421.4 L643.8,422.3 L645.6,423.2 L647.5,424.1 L649.4,424.9 L653.5,415.8 L651.7,415 L650,414.2 L648.2,413.3 L646.4,412.4 L644.7,411.6 L642.9,410.7ZM620.7,407 L622.3,408.4 L623.9,409.7 L625.5,410.9 L627.3,412.2 L629,413.4 L630.8,414.6 L635.3,407.3 L633.8,406.2 L632.2,405.2 L630.7,404.1 L629.2,402.9 L627.7,401.7 L626.3,400.5ZM604.7,386.1 L605.8,388.5 L607.1,390.9 L608.5,393.3 L610.2,395.5 L611.9,397.6 L613.6,399.6 L619.2,394.5 L617.6,392.7 L616.2,390.9 L614.9,389.1 L613.7,387.2 L612.6,385.2 L611.7,383.1ZM599.9,368.6 L600.3,370 L600.7,371.3 L601.2,372.6 L601.6,373.8 L602,375.1 L602.5,376.4 L607.2,374.8 L606.8,373.5 L606.3,372.2 L605.9,370.9 L605.5,369.7 L605.1,368.5 L604.7,367.3ZM694.6,438.1 L696.2,438.4 L697.7,438.7 L699.3,439 L700.9,439.3 L702.5,439.6 L704,439.9 L706,430.1 L704.3,429.8 L702.7,429.5 L701.1,429.2 L699.6,428.9 L698,428.6 L696.4,428.3Z" fill="url(#g5)"/>
<path d="M717.5,436.1 L703.8,420.6 L700,448.3Z" fill="#1f1f1f"/>
</g>
<g id="vessel">
<path d="M550.8,150 L550.7,151.2 L550.4,152.7 L550.2,154.6 L549.9,156.7 L549.7,158.9 L549.4,161 L549.2,163.1 L549,165 L548.9,166.7 L548.7,168.3 L548.7,169.8 L548.6,171.4 L548.5,172.9 L548.5,174.5 L548.5,176.2 L548.5,178 L548.5,180 L548.6,182.1 L548.7,184.3 L548.8,186.6 L548.9,188.8 L549.1,191 L549.3,193.1 L549.5,195 L549.7,196.7 L550,198.3 L550.3,199.8 L550.7,201.2 L551,202.6 L551.4,204 L551.7,205.5 L552,207 L552.3,208.6 L552.6,210.2 L552.8,211.8 L553.1,213.4 L553.3,215 L553.6,216.7 L553.8,218.3 L554,220 L554.2,221.7 L554.3,223.4 L554.5,225.1 L554.6,226.8 L554.7,228.6 L554.8,230.3 L554.9,232.1 L555,234 L555.1,236 L555.1,238.2 L555.2,240.6 L555.2,242.9 L555.2,245.1 L555.3,247.1 L555.3,248.8 L555.3,250 L593.6,250 L593.6,249.1 L593.6,248 L593.6,246.6 L593.6,245.1 L593.6,243.5 L593.6,241.7 L593.4,239.9 L593.2,238 L592.9,236 L592.5,233.9 L592.1,231.6 L591.6,229.2 L591.1,226.8 L590.5,224.4 L589.9,222.1 L589.3,220 L588.6,218 L587.9,216 L587.1,214.1 L586.3,212.2 L585.4,210.3 L584.6,208.5 L583.8,206.8 L583,205 L582.2,203.3 L581.4,201.6 L580.6,199.9 L579.8,198.3 L579,196.7 L578.2,195.1 L577.6,193.6 L577,192 L576.5,190.5 L576.1,189 L575.8,187.6 L575.6,186.1 L575.3,184.7 L575.1,183.2 L574.9,181.6 L574.7,180 L574.5,178.3 L574.3,176.5 L574.1,174.6 L573.9,172.7 L573.8,170.8 L573.7,168.8 L573.6,166.9 L573.5,165 L573.5,163 L573.5,160.9 L573.5,158.7 L573.6,156.6 L573.6,154.5 L573.7,152.7 L573.8,151.2 L573.8,150Z" fill="#de6366"/>
<g clip-path="url(#upclip)">
<path d="M540,148 L554.5,148 L554,165 L554.5,180 L556.5,195 L559,208 L561.8,220 L563.5,236 L540,236Z" fill="#d05a62"/>
<path d="M554.5,148 C555.1,145.2 557.4,145.2 557.9,148 C558.4,150.8 557.5,159.7 557.5,165 C557.5,170.3 557.5,175 557.9,180 C558.3,185 559.2,190.3 560,195 C560.8,199.7 561.5,203.8 562.5,208 C563.5,212.2 565,215.3 565.8,220 C566.6,224.7 567.9,233.3 567.5,236 C567.1,238.7 564.5,238.7 563.5,236 C562.5,233.3 562.5,224.7 561.8,220 C561,215.3 559.9,212.2 559,208 C558.1,203.8 557.2,199.7 556.5,195 C555.8,190.3 554.9,185 554.5,180 C554.1,175 554,170.3 554,165 C554,159.7 553.9,150.8 554.5,148Z" fill="#f2837a"/>
<path d="M566.5,148 L567,165 L568,180 L570.5,195 L574,208 L577.6,220 L581,236 L600,236 L600,148Z" fill="#c64a56"/>
</g>
<path d="M550.8,150 C550.5,152.5 549.4,160.3 549,165 C548.6,169.7 548.4,173 548.5,178 C548.6,183 548.9,190.2 549.5,195 C550.1,199.8 551.2,202.8 552,207 C552.8,211.2 553.5,215.5 554,220 C554.5,224.5 554.8,229 555,234 C555.2,239 555.2,247.3 555.3,250" fill="none" stroke="#b8434f" stroke-width="0.8"/>
<path d="M593.6,250 C593.5,248 593.9,243 593.2,238 C592.5,233 591,225.5 589.3,220 C587.6,214.5 585,209.7 583,205 C581,200.3 578.4,196.2 577,192 C575.6,187.8 575.3,184.5 574.7,180 C574.1,175.5 573.6,170 573.5,165 C573.4,160 573.8,152.5 573.8,150" fill="none" stroke="#b8434f" stroke-width="0.8"/>
<rect x="540" y="145" width="45" height="30" fill="url(#fadeup)"/>
<path d="M555.6,243 L555.5,243.6 L555.3,244.4 L555.1,245.4 L554.9,246.5 L554.7,247.6 L554.5,248.9 L554.2,250.1 L553.8,251.4 L553.4,252.7 L553,254 L552.5,255.3 L552,256.6 L551.4,258 L550.8,259.4 L550.2,260.8 L549.5,262.3 L548.7,263.7 L547.9,265.2 L547.1,266.6 L546.2,268 L545.3,269.4 L544.2,270.7 L543.2,272 L542.1,273.3 L540.9,274.7 L539.7,276 L538.5,277.3 L537.2,278.7 L535.9,280.1 L534.6,281.5 L533.2,283 L531.7,284.5 L530.2,286 L528.6,287.6 L527,289.2 L525.4,290.8 L523.8,292.4 L522.2,293.9 L520.7,295.4 L519.2,296.9 L517.8,298.3 L516.4,299.7 L515.1,301 L513.8,302.3 L512.5,303.6 L511.2,304.9 L509.9,306.3 L508.5,307.6 L507.2,309 L505.8,310.4 L504.4,311.9 L502.9,313.4 L501.4,314.9 L499.9,316.4 L498.4,318 L496.9,319.6 L495.4,321.2 L493.9,322.8 L492.5,324.4 L491,326 L489.5,327.6 L488.1,329.3 L486.6,331 L485.1,332.7 L483.6,334.4 L482.2,336.1 L480.8,337.8 L479.5,339.5 L478.2,341.3 L477,343 L475.9,344.8 L474.8,346.5 L473.8,348.3 L472.8,350 L471.9,351.8 L471.1,353.6 L470.2,355.4 L469.4,357.3 L468.7,359.1 L468,361 L467.3,362.9 L466.7,364.9 L466,366.9 L465.5,369 L464.9,371.1 L464.4,373.1 L464,375.1 L463.7,377.1 L463.5,379 L463.3,380.8 L463.2,382.5 L463.2,384.2 L463.3,385.8 L463.4,387.3 L463.7,388.8 L464,390.3 L464.3,391.8 L464.8,393.3 L465.4,394.7 L466,396.2 L466.7,397.7 L467.5,399.2 L468.4,400.8 L469.3,402.3 L470.4,403.8 L471.5,405.3 L472.7,406.7 L474,408 L475.5,409.3 L477,410.5 L478.7,411.6 L480.6,412.7 L482.6,413.8 L484.7,414.8 L486.9,415.7 L489.1,416.5 L491.4,417.3 L493.6,418 L495.9,418.5 L498,419 L500.1,419.3 L502.3,419.5 L504.4,419.7 L506.6,419.7 L508.8,419.6 L510.9,419.5 L513,419.2 L515.1,419 L517.1,418.7 L519,418.3 L520.9,417.9 L522.8,417.5 L524.6,417 L526.4,416.4 L528.1,415.8 L529.8,415.1 L531.5,414.4 L533,413.5 L534.4,412.6 L535.8,411.5 L537.1,410.3 L538.2,409 L539.3,407.5 L540.4,406 L541.3,404.4 L542.2,402.7 L543,401.1 L543.7,399.4 L544.4,397.8 L545,396.2 L545.5,394.7 L545.9,393.2 L546.2,391.8 L546.4,390.4 L546.5,389 L546.7,387.5 L546.8,386 L546.9,384.4 L547,382.7 L547.2,380.8 L547.4,378.8 L547.5,376.7 L547.6,374.4 L547.7,372.1 L547.8,369.7 L548,367.3 L548.2,364.8 L548.4,362.4 L548.8,360 L549.2,357.7 L549.8,355.4 L550.4,353.1 L551.1,350.9 L551.9,348.6 L552.8,346.3 L553.6,344.1 L554.5,341.8 L555.4,339.6 L556.3,337.5 L557.2,335.4 L558.1,333.4 L558.9,331.4 L559.8,329.4 L560.7,327.5 L561.6,325.6 L562.5,323.7 L563.4,321.9 L564.4,320 L565.3,318.1 L566.3,316.2 L567.3,314.3 L568.4,312.3 L569.4,310.4 L570.5,308.5 L571.6,306.6 L572.7,304.6 L573.8,302.7 L574.9,300.8 L575.9,298.8 L576.9,296.9 L577.9,295 L578.8,293.1 L579.7,291.1 L580.6,289.2 L581.5,287.3 L582.4,285.4 L583.2,283.5 L584,281.5 L584.8,279.6 L585.6,277.7 L586.4,275.7 L587.2,273.7 L587.9,271.7 L588.7,269.6 L589.4,267.6 L590.1,265.6 L590.7,263.6 L591.3,261.8 L591.9,260.1 L592.3,258.5 L592.7,257.1 L592.9,255.8 L593.2,254.5 L593.3,253.4 L593.4,252.4 L593.5,251.4 L593.5,250.5 L593.6,249.6 L593.6,248.8 L593.6,248 L593.6,247.3 L593.5,246.6 L593.4,245.9 L593.3,245.4 L593.2,244.8 L593,244.4 L592.9,244 L592.8,243.6 L592.7,243.3 L592.6,243Z" fill="#f0857b"/>
<path d="M463.2,382.5 L463.2,384.2 L463.3,385.8 L463.4,387.3 L463.7,388.8 L464,390.3 L464.3,391.8 L464.8,393.3 L465.4,394.7 L466,396.2 L466.7,397.7 L467.5,399.2 L468.4,400.8 L469.3,402.3 L470.4,403.8 L471.5,405.3 L472.7,406.7 L474,408 L475.5,409.3 L477,410.5 L478.7,411.6 L480.6,412.7 L482.6,413.8 L484.7,414.8 L486.9,415.7 L489.1,416.5 L491.4,417.3 L493.6,418 L495.9,418.5 L498,419 L500.1,419.3 L502.3,419.5 L504.4,419.7 L506.6,419.7 L508.8,419.6 L510.9,419.5 L513,419.2 L515.1,419 L517.1,418.7 L519,418.3 L520.9,417.9 L522.8,417.5 L524.6,417 L526.4,416.4 L528.1,415.8 L529.8,415.1 L531.5,414.4 L533,413.5 L534.4,412.6 L535.8,411.5 L537.1,410.3 L538.2,409 L539.3,407.5 L540.4,406 L541.3,404.4 L542.2,402.7 L543,401.1 L543.7,399.4 L544.4,397.8 L545,396.2 L545.5,394.7 L545.9,393.2 L546.2,391.8 L546.4,390.4 L546.5,389 L546.7,387.5 L546.8,386 L546.9,384.4 L547,382.7 L547.2,380.8 L538.5,380.8 L538.4,381.9 L538.4,381.9 L538.2,383.7 L538.2,383.7 L538.1,385.4 L538,386.9 L538,386.9 L537.9,388.2 L537.9,388.2 L537.8,389.3 L537.8,389.3 L537.6,390.3 L537.6,390.3 L537.4,391.2 L537.4,391.3 L537.2,392.2 L537.2,392.2 L536.8,393.2 L536.8,393.3 L536.3,394.6 L536.3,394.6 L535.7,396 L535.7,396 L535.1,397.4 L535.1,397.4 L534.4,398.8 L534.4,398.8 L533.7,400.1 L533.7,400.1 L533,401.4 L533,401.4 L532.3,402.5 L532.2,402.5 L531.5,403.5 L531.5,403.5 L530.8,404.2 L530.8,404.3 L530.2,404.9 L530.1,404.9 L529.4,405.5 L529.4,405.5 L528.5,406 L528.5,406.1 L527.5,406.6 L527.5,406.6 L526.3,407.2 L526.3,407.2 L525.1,407.7 L525.1,407.7 L523.7,408.2 L523.7,408.2 L522.2,408.6 L522.2,408.6 L520.6,409 L520.6,409 L519,409.4 L519,409.4 L517.3,409.8 L517.3,409.8 L515.6,410.1 L515.6,410.1 L513.8,410.4 L513.8,410.4 L512,410.6 L512,410.6 L510.2,410.8 L510.2,410.8 L508.3,410.9 L508.3,410.9 L506.5,411 L506.5,411 L504.7,411 L504.7,411 L502.9,410.9 L502.9,410.9 L501.2,410.7 L501.2,410.7 L499.6,410.4 L499.6,410.4 L497.8,410.1 L497.8,410.1 L496,409.6 L496,409.6 L494,409 L494,409 L492.1,408.4 L492.1,408.4 L490.1,407.6 L490.1,407.6 L488.2,406.8 L488.2,406.8 L486.4,406 L486.4,406 L484.8,405.1 L484.8,405.1 L483.3,404.2 L483.3,404.2 L482.1,403.4 L482.1,403.4 L481,402.6 L481,402.6 L480.1,401.8 L480,401.7 L479.1,400.8 L479.1,400.8 L478.2,399.8 L478.2,399.8 L477.4,398.7 L477.4,398.7 L476.6,397.5 L476.6,397.5 L475.9,396.3 L475.9,396.3 L475.2,395.1 L475.2,395.1 L474.5,393.8 L474.5,393.8 L473.9,392.6 L473.9,392.6 L473.4,391.5 L473.4,391.5 L473,390.4 L473,390.4 L472.7,389.4 L472.7,389.4 L472.4,388.4 L472.4,388.4 L472.2,387.4 L472.2,387.4 L472.1,386.3 L472.1,386.3 L472,385.2 L472,385.2 L471.9,384 L471.9,384 L471.9,382.7 L471.9,382.7 L472,381.3 L472,381.3 L472,380.8 L463.3,380.8Z" fill="#dc6c55"/>
<path d="M559.4,254.7 L559.4,254.7 L558.9,256.1 L558.9,256.2 L558.4,257.6 L558.4,257.6 L557.8,259 L557.8,259 L557.2,260.4 L557.2,260.4 L556.6,261.9 L556.6,262 L555.9,263.5 L555.9,263.5 L555.1,265.1 L555.1,265.1 L554.3,266.7 L554.3,266.7 L553.4,268.3 L553.4,268.3 L552.5,269.9 L552.5,269.9 L551.4,271.5 L551.4,271.5 L550.4,273 L550.4,273.1 L549.2,274.5 L549.2,274.6 L548.1,276 L548.1,276 L546.9,277.4 L546.9,277.4 L545.7,278.8 L545.6,278.8 L544.4,280.2 L544.4,280.2 L543.1,281.6 L543.1,281.6 L541.8,283 L541.8,283 L540.5,284.4 L539.2,285.8 L539.2,285.8 L537.8,287.3 L537.7,287.3 L536.2,288.9 L536.2,288.9 L534.7,290.5 L534.7,290.5 L533.1,292.1 L533.1,292.1 L531.4,293.7 L531.4,293.7 L529.8,295.3 L529.8,295.3 L528.2,296.9 L526.6,298.4 L525.1,299.9 L523.7,301.4 L522.2,302.8 L522.2,302.8 L520.9,304.1 L519.5,305.5 L518.2,306.8 L516.9,308.1 L515.6,309.4 L514.3,310.7 L513,312 L511.7,313.4 L510.3,314.8 L508.9,316.3 L508.9,316.3 L507.4,317.8 L506,319.3 L504.5,320.8 L503,322.3 L501.5,323.9 L501.5,323.9 L500.1,325.5 L500.1,325.5 L498.7,327.1 L497.3,328.7 L497.3,328.7 L495.9,330.4 L494.5,332.1 L494.5,332.1 L493.1,333.8 L491.7,335.5 L490.3,337.2 L490.3,337.2 L488.9,338.9 L488.9,338.9 L487.6,340.5 L487.6,340.5 L486.4,342.2 L486.4,342.2 L485.2,343.8 L485.2,343.8 L484.1,345.5 L484.1,345.5 L483.1,347.1 L483.1,347.1 L482.2,348.7 L482.2,348.7 L481.3,350.3 L481.3,350.3 L480.4,352 L480.4,352 L479.6,353.6 L479.6,353.6 L478.9,355.3 L478.9,355.3 L478.2,357 L478.2,357 L477.5,358.6 L477.5,358.6 L476.9,360.3 L476.9,360.3 L476.3,362 L476.3,362.1 L475.7,363.8 L475.7,363.8 L475.2,365.6 L475.2,365.6 L474.6,367.5 L474.6,367.5 L474.2,369.3 L474.2,369.4 L473.7,371.2 L473.7,371.3 L473.3,373.1 L472.9,375 L472.6,376.7 L472.6,376.7 L472.3,378.4 L472.3,378.4 L472.1,379.9 L472.1,379.9 L472,381.3 L472,381.3 L471.9,382.7 L471.9,382.7 L471.9,384 L471.9,384 L472,385.2 L472,385.2 L472.1,386.3 L472.1,386.3 L472.2,387.4 L472.2,387.4 L472.4,388.4 L472.4,388.4 L472.7,389.4 L472.7,389.4 L473,390.4 L473,390.4 L473.4,391.5 L473.4,391.5 L473.9,392.6 L473.9,392.6 L474.5,393.8 L474.5,393.8 L475.2,395.1 L475.2,395.1 L475.9,396.3 L475.9,396.3 L476.6,397.5 L476.6,397.5 L477.4,398.7 L477.4,398.7 L478.2,399.8 L478.2,399.8 L479.1,400.8 L479.1,400.8 L480,401.7 L480.1,401.8 L481,402.6 L481,402.6 L482.1,403.4 L482.1,403.4 L483.3,404.2 L483.3,404.2 L484.8,405.1 L484.8,405.1 L486.4,406 L486.4,406 L488.2,406.8 L488.2,406.8 L490.1,407.6 L490.1,407.6 L492.1,408.4 L492.1,408.4 L494,409 L494,409 L496,409.6 L496,409.6 L497.8,410.1 L497.8,410.1 L499.6,410.4 L499.6,410.4 L501.2,410.7 L501.2,410.7 L502.9,410.9 L502.9,410.9 L504.7,411 L504.7,411 L506.5,411 L506.5,411 L508.3,410.9 L508.3,410.9 L510.2,410.8 L510.2,410.8 L512,410.6 L512,410.6 L513.8,410.4 L513.8,410.4 L515.6,410.1 L515.6,410.1 L517.3,409.8 L517.3,409.8 L519,409.4 L519,409.4 L520.6,409 L520.6,409 L522.2,408.6 L522.2,408.6 L523.7,408.2 L523.7,408.2 L525.1,407.7 L525.1,407.7 L526.3,407.2 L526.3,407.2 L527.5,406.6 L527.5,406.6 L528.5,406.1 L528.5,406 L529.4,405.5 L529.4,405.5 L530.1,404.9 L530.2,404.9 L530.8,404.3 L530.8,404.2 L531.5,403.5 L531.5,403.5 L532.2,402.5 L532.3,402.5 L533,401.4 L533,401.4 L533.7,400.1 L533.7,400.1 L534.4,398.8 L534.4,398.8 L535.1,397.4 L535.1,397.4 L535.7,396 L535.7,396 L536.3,394.6 L536.3,394.6 L536.8,393.3 L536.8,393.2 L537.2,392.2 L537.2,392.2 L537.4,391.3 L537.4,391.2 L537.6,390.3 L537.6,390.3 L537.8,389.3 L537.8,389.3 L537.9,388.2 L537.9,388.2 L538,386.9 L538,386.9 L538.1,385.4 L538.2,383.7 L538.2,383.7 L538.4,381.9 L538.4,381.9 L538.5,380 L538.7,378.1 L538.7,378.1 L538.8,376.2 L538.8,376.2 L538.9,374 L539,371.7 L539,371.7 L539.3,369.2 L539.3,369.2 L539.5,366.7 L539.5,366.7 L539.8,364.1 L539.8,364 L540.2,361.4 L540.2,361.4 L540.7,358.7 L540.7,358.7 L541.3,356 L541.3,356 L542.1,353.4 L542.1,353.4 L542.9,350.9 L542.9,350.9 L543.8,348.4 L543.8,348.4 L544.7,346 L544.7,346 L545.7,343.6 L545.7,343.6 L546.7,341.3 L546.7,341.3 L547.8,339.1 L547.8,339.1 L548.8,336.9 L548.8,336.9 L549.8,334.8 L550.7,332.7 L550.7,332.7 L551.7,330.6 L551.7,330.6 L552.7,328.6 L552.7,328.6 L553.7,326.6 L553.7,326.6 L554.7,324.7 L554.7,324.7 L555.7,322.8 L555.7,322.8 L556.7,320.9 L556.7,320.9 L557.7,319 L557.7,319 L558.7,317.2 L558.7,317.2 L559.7,315.3 L559.7,315.3 L560.7,313.3 L560.7,313.3 L561.7,311.3 L561.8,311.3 L562.8,309.3 L562.8,309.3 L563.9,307.3 L563.9,307.3 L565,305.4 L565,305.4 L566.2,303.4 L567.2,301.5 L568.3,299.6 L569.3,297.7 L569.3,297.7 L570.3,295.9 L570.3,295.9 L571.3,294.1 L571.3,294.1 L572.2,292.2 L573.1,290.3 L574,288.4 L574.9,286.6 L575.8,284.7 L576.6,282.8 L577.4,281 L578.2,279.1 L579,277.2 L579.8,275.4 L580.5,273.5 L581.3,271.5 L582,269.5 L582.8,267.5 L583.5,265.5 L584.1,263.5 L584.1,263.5 L584.8,261.7 L584.8,261.7 L585.3,259.9 L585.3,259.9 L585.8,258.3 L585.8,258.3 L586.2,256.9 L586.2,256.9 L586.5,255.6 L586.5,255.6 L586.8,254.5 L586.8,254.5 L586.9,253.5 L586.9,253.5 L586.9,253.5 L587,253.4 L587,253.4 L587,253.3 L587,253.3 L587.1,253.2 L587.1,253.2 L587.1,253.1 L587.2,253.1 L587.2,253.1 L587.3,253 L587.3,253 L587.4,253 L587.4,253 L587.4,253 L587.3,241 L587.3,241 L587.3,241 L561.2,241 L561.2,241 L561.2,241 L559.6,253 L559.6,253 L559.6,253 L559.6,253 L559.7,253.1 L559.7,253.1 L559.7,253.2 L559.8,253.2 L559.8,253.3 L559.8,253.4 L559.8,253.4 L559.8,253.5 L559.8,253.5 L559.8,253.6Z" fill="#c84c58"/>
<g clip-path="url(#lumclip)">
<path d="M583,240 C581.5,243.7 577.3,254.3 574,262 C570.7,269.7 566.7,278.6 563,286 C559.3,293.4 556.4,297.5 552,306.5 C547.6,315.5 541.5,329.8 536.5,340 C531.5,350.2 526.4,359.3 522,368 C517.6,376.7 513.3,384.7 510,392 C506.7,399.3 503.7,406.5 502,412 C500.3,417.5 483.7,422.8 500,425 C516.3,427.2 583.3,455.8 600,425 C616.7,394.2 600,270.8 600,240Z" fill="#dc6263"/>
<path d="M558.9,256.1 L558.9,256.2 L558.4,257.6 L558.4,257.6 L557.8,259 L557.8,259 L557.2,260.4 L557.2,260.4 L556.6,261.9 L556.6,262 L555.9,263.5 L555.9,263.5 L555.1,265.1 L555.1,265.1 L554.3,266.7 L554.3,266.7 L553.4,268.3 L553.4,268.3 L552.5,269.9 L552.5,269.9 L551.4,271.5 L551.4,271.5 L550.4,273 L550.4,273.1 L549.2,274.5 L549.2,274.6 L548.1,276 L548.1,276 L546.9,277.4 L546.9,277.4 L545.7,278.8 L545.6,278.8 L544.4,280.2 L544.4,280.2 L543.1,281.6 L543.1,281.6 L541.8,283 L541.8,283 L540.5,284.4 L539.2,285.8 L539.2,285.8 L537.8,287.3 L537.7,287.3 L536.2,288.9 L536.2,288.9 L534.7,290.5 L534.7,290.5 L533.1,292.1 L533.1,292.1 L531.4,293.7 L531.4,293.7 L529.8,295.3 L529.8,295.3 L528.2,296.9 L526.6,298.4 L525.1,299.9 L523.7,301.4 L522.2,302.8 L522.2,302.8 L520.9,304.1 L519.5,305.5 L518.2,306.8 L516.9,308.1 L515.6,309.4 L514.3,310.7 L513,312 L511.7,313.4 L510.3,314.8 L508.9,316.3 L508.9,316.3 L507.4,317.8 L506,319.3 L504.5,320.8 L503,322.3 L501.5,323.9 L501.5,323.9 L500.1,325.5 L500.1,325.5 L498.7,327.1 L497.3,328.7 L497.3,328.7 L495.9,330.4 L494.5,332.1 L494.5,332.1 L493.1,333.8 L491.7,335.5 L490.3,337.2 L490.3,337.2 L488.9,338.9 L488.9,338.9 L487.6,340.5 L487.6,340.5 L486.4,342.2 L486.4,342.2 L485.2,343.8 L485.2,343.8 L484.1,345.5 L484.1,345.5 L483.1,347.1 L483.1,347.1 L482.2,348.7 L482.2,348.7 L481.3,350.3 L481.3,350.3 L480.4,352 L480.4,352 L479.6,353.6 L479.6,353.6 L478.9,355.3 L478.9,355.3 L478.2,357 L478.2,357 L477.5,358.6 L477.5,358.6 L476.9,360.3 L476.9,360.3 L476.3,362 L476.3,362.1 L475.7,363.8 L475.7,363.8 L475.2,365.6 L475.2,365.6 L474.6,367.5 L474.6,367.5 L474.2,369.3 L474.2,369.4 L473.7,371.2 L473.7,371.3 L473.3,373.1 L472.9,375 L472.6,376.7 L472.6,376.7 L472.3,378.4 L472.3,378.4 L472.1,379.9 L472.1,379.9 L472,381.3 L472,381.3 L471.9,382.7 L471.9,382.7 L471.9,384 L471.9,384 L472,385.2 L472,385.2 L472.1,386.3 L472.1,386.3 L472.2,387.4 L472.2,387.4 L472.4,388.4 L472.4,388.4 L472.7,389.4 L472.7,389.4 L473,390.4 L473,390.4 L473.4,391.5 L473.4,391.5 L473.7,392 L476.6,392 L476.2,391 L476.2,391 L475.9,390 L475.9,390 L475.6,389 L475.6,389 L475.4,388 L475.4,388 L475.3,386.9 L475.3,386.9 L475.2,385.8 L475.2,385.8 L475.1,384.6 L475.1,384.6 L475.1,383.3 L475.1,383.3 L475.2,381.9 L475.2,381.9 L475.3,380.5 L475.3,380.5 L475.5,379 L475.5,379 L475.8,377.3 L475.8,377.3 L476.1,375.6 L476.5,373.7 L476.9,371.9 L476.9,371.8 L477.4,370 L477.4,369.9 L477.8,368.1 L477.8,368.1 L478.4,366.2 L478.4,366.2 L478.9,364.4 L478.9,364.4 L479.5,362.7 L479.5,362.6 L480.1,360.9 L480.1,360.9 L480.7,359.2 L480.7,359.2 L481.4,357.6 L481.4,357.6 L482.1,355.9 L482.1,355.9 L482.8,354.2 L482.8,354.2 L483.6,352.6 L483.6,352.6 L484.5,350.9 L484.5,350.9 L485.4,349.3 L485.4,349.3 L486.3,347.7 L486.3,347.7 L487.3,346.1 L487.3,346.1 L488.4,344.4 L488.4,344.4 L489.6,342.8 L489.6,342.8 L490.8,341.1 L490.8,341.1 L492.1,339.5 L492.1,339.5 L493.5,337.8 L493.5,337.8 L494.9,336.1 L496.3,334.4 L497.7,332.7 L497.7,332.7 L499.1,331 L500.5,329.3 L500.5,329.3 L501.9,327.7 L503.3,326.1 L503.3,326.1 L504.7,324.5 L504.7,324.5 L506.2,322.9 L507.7,321.4 L509.2,319.9 L510.6,318.4 L512.1,316.9 L512.1,316.9 L513.5,315.4 L514.9,314 L516.2,312.6 L517.5,311.3 L518.8,310 L520.1,308.7 L521.4,307.4 L522.7,306.1 L524.1,304.7 L525.4,303.4 L525.4,303.4 L526.9,302 L528.3,300.5 L529.8,299 L531.4,297.5 L533,295.9 L533,295.9 L534.6,294.3 L534.6,294.3 L536.3,292.7 L536.3,292.7 L537.9,291.1 L537.9,291.1 L539.4,289.5 L539.4,289.5 L540.9,287.9 L541,287.9 L542.4,286.4 L542.4,286.4 L543.7,285 L545,283.6 L545,283.6 L546.3,282.2 L546.3,282.2 L547.6,280.8 L547.6,280.8 L548.8,279.4 L548.9,279.4 L550.1,278 L550.1,278 L551.3,276.6 L551.3,276.6 L552.4,275.2 L552.4,275.1 L553.6,273.7 L553.6,273.6 L554.6,272.1 L554.6,272.1 L555.7,270.5 L555.7,270.5 L556.6,268.9 L556.6,268.9 L557.5,267.3 L557.5,267.3 L558.3,265.7 L558.3,265.7 L559.1,264.1 L559.1,264.1 L559.8,262.6 L559.8,262.5 L560.4,261 L560.4,261 L561,259.6 L561,259.6 L561.6,258.2 L561.6,258.2 L562.1,256.8 L562.1,256.7 L562.6,255.3 L562.6,255.3 L563,254.2 L563,254.1 L563,254.1 L563,254 L563,254 L563,253.9 L563,253.8 L562.9,253.8 L562.9,253.7 L562.9,253.7 L562.8,253.6 L562.8,253.6 L562.8,253.6 L562.8,253.6 L564.2,243 L560.9,243 L559.6,253 L559.6,253 L559.6,253 L559.6,253 L559.7,253.1 L559.7,253.1 L559.7,253.2 L559.8,253.2 L559.8,253.3 L559.8,253.4 L559.8,253.4 L559.8,253.5 L559.8,253.5 L559.8,253.6 L559.4,254.7 L559.4,254.7Z" fill="#ad3d4d"/>
</g>
<path d="M587,262 C585.8,265.3 583,274.7 580,282 C577,289.3 572.7,298 569,306 C565.3,314 561,322.3 558,330 C555,337.7 552.9,345 551,352 C549.1,359 547.2,368.7 546.5,372" fill="none" stroke="#fde0dc" stroke-width="0.9" opacity="0.8"/>
<path d="M555.6,243 C555.2,244.8 554.6,249.8 553,254 C551.4,258.2 549.3,263.4 546.2,268 C543.1,272.6 539.1,276.7 534.6,281.5 C530.1,286.3 524,292.1 519.2,296.9 C514.4,301.7 510.5,305.5 505.8,310.4 C501.1,315.2 495.8,320.6 491,326 C486.2,331.4 480.8,337.2 477,343 C473.2,348.8 470.3,354.7 468,361 C465.7,367.3 463.6,374.9 463.3,380.8 C463,386.7 463.7,391.2 466,396.2 C468.3,401.1 471.7,406.7 477,410.5 C482.3,414.3 491,417.7 498,419 C505,420.3 512.7,419.6 519,418.3 C525.3,417.1 531.5,415.2 535.8,411.5 C540.1,407.8 543.1,401.3 545,396.2 C546.9,391.1 546.5,387.2 547.2,380.8 C547.9,374.4 547.5,365.3 549.2,357.7 C550.9,350.1 554.4,342.3 557.2,335.4 C560.1,328.5 563,322.6 566.3,316.2 C569.6,309.8 573.7,303.3 576.9,296.9 C580.1,290.5 583,284.1 585.6,277.7 C588.2,271.3 591,263.4 592.3,258.5 C593.6,253.6 593.5,250.6 593.6,248 C593.7,245.4 592.8,243.8 592.6,243" fill="none" stroke="#b23f4e" stroke-width="1.6"/>
<path d="M555.1,243.5 C555.5,233 563,225.1 572.5,225.1 C583,225.1 591.8,231 592.6,243.5 Z" fill="#cf5861" stroke="#b8434f" stroke-width="0.7"/>
<path d="M559.3,243.5 C560,235 565,229.4 572,229.4 C580,229.4 587,233.5 588.2,243.5 Z" fill="#ad404e"/>
<path d="M565,245 C566,238 570,233 576.5,233 C582,233 586,236.5 586.3,245 Z" fill="#c84c58"/>
<path d="M579,226 C586,227.5 591,232 592,240" fill="none" stroke="#f4c7c6" stroke-width="0.8"/>
<path d="M555.2,243.2 l3,0 l0.2,4.5 l-3.6,0Z M588.4,243.2 l3.2,0 l-0.3,9 l-2.6,0Z" fill="#e07a58"/>
</g>
<g id="lymph">
<path d="M795,19.5 L794.5,21.1 L794.2,22.7 L794.1,24.3 L794.2,25.9 L794.5,27.5 L794.6,29.1 L794.1,30.8 L793.9,32.4 L793.9,34 L794.1,35.6 L794.4,37.2 L794.1,38.8 L793.8,40.4 L793.6,42 L799.4,42 L799.2,40.4 L798.9,38.8 L798.6,37.2 L798.9,35.6 L799.1,34 L799.1,32.4 L798.9,30.8 L798.4,29.1 L798.5,27.5 L798.8,25.9 L798.9,24.3 L798.8,22.7 L798.5,21.1 L798,19.5Z" fill="#bcdaa2" stroke="#86b462" stroke-width="0.9" stroke-linejoin="round"/>
<path d="M794.3,24.0 L798.7,28.0 M798.7,24.0 L794.3,28.0" stroke="#8fbb6c" stroke-width="0.6"/>
<path d="M794.3,33.0 L798.7,37.0 M798.7,33.0 L794.3,37.0" stroke="#8fbb6c" stroke-width="0.6"/>
<path d="M747.4,48.9 L748.7,50 L750.1,51.1 L751.7,51.9 L753.3,52.6 L755,53 L756.6,53.7 L758,54.9 L759.4,55.9 L761,56.6 L762.7,57.2 L764.4,57.6 L765.8,58.6 L767.3,59.7 L768.8,60.6 L771.2,55.4 L769.6,54.8 L767.9,54.4 L766.2,53.9 L764.8,52.8 L763.3,51.9 L761.7,51.1 L760,50.6 L758.3,50.3 L756.7,49.5 L755.3,48.4 L753.8,47.6 L752.1,46.9 L750.4,46.5 L748.6,46.1Z" fill="#bcdaa2" stroke="#86b462" stroke-width="0.9" stroke-linejoin="round"/>
<path d="M751.5,51.6 L757.0,49.3 M753.3,47.6 L755.1,53.3" stroke="#8fbb6c" stroke-width="0.6"/>
<path d="M760.3,55.8 L765.8,53.5 M762.1,51.8 L763.9,57.5" stroke="#8fbb6c" stroke-width="0.6"/>
<path d="M745.2,81.5 L746,82.1 L746.8,82.6 L747.7,82.9 L748.6,83 L749.6,82.8 L750.5,83 L751.3,83.6 L752.1,84 L753,84.2 L754,84.2 L754.9,84 L755.8,84.5 L756.6,85 L757.4,85.3 L758.6,79.7 L757.6,79.6 L756.7,79.8 L755.7,79.9 L754.9,79.4 L754.1,79 L753.2,78.9 L752.2,78.9 L751.2,79.2 L750.4,79 L749.5,78.5 L748.7,78.2 L747.7,78.1 L746.8,78.2 L745.8,78.5Z" fill="#bcdaa2" stroke="#86b462" stroke-width="0.9" stroke-linejoin="round"/>
<path d="M747.6,82.7 L752.4,79.1 M748.4,78.3 L751.5,83.4" stroke="#8fbb6c" stroke-width="0.6"/>
<path d="M752.6,83.7 L757.4,80.1 M753.4,79.3 L756.5,84.4" stroke="#8fbb6c" stroke-width="0.6"/>
<path d="M742.6,118.9 L744.2,118.7 L745.8,118.4 L747.2,117.9 L748.6,117.2 L749.9,116.3 L751.3,115.6 L752.9,115.4 L754.5,115.1 L755.9,114.5 L757.2,113.7 L758.5,112.7 L760.1,112.4 L761.6,112.1 L763.1,111.7 L760.9,106.3 L759.5,107.1 L758.2,108 L756.9,108.9 L755.3,109.2 L753.8,109.6 L752.4,110.2 L751.1,111.1 L749.8,112.1 L748.4,112.6 L746.8,113 L745.3,113.4 L744,114.2 L742.7,115.1 L741.4,116.1Z" fill="#bcdaa2" stroke="#86b462" stroke-width="0.9" stroke-linejoin="round"/>
<path d="M746.9,117.8 L748.8,112.2 M745.1,113.8 L750.5,116.3" stroke="#8fbb6c" stroke-width="0.6"/>
<path d="M754.9,114.4 L756.8,108.8 M753.1,110.4 L758.5,112.9" stroke="#8fbb6c" stroke-width="0.6"/>
<path d="M766.3,150.8 L767.3,150 L768.2,149.1 L769,148.2 L769.5,147.1 L769.9,145.9 L770.5,144.8 L771.5,144 L772.4,143.1 L773,142.1 L773.5,140.9 L773.8,139.7 L774.7,138.8 L775.7,138 L776.5,137 L771.5,134 L771,135.1 L770.7,136.3 L770.3,137.5 L769.4,138.4 L768.5,139.3 L767.9,140.3 L767.5,141.5 L767.2,142.8 L766.5,143.8 L765.6,144.6 L764.9,145.6 L764.3,146.7 L764,147.9 L763.7,149.2Z" fill="#bcdaa2" stroke="#86b462" stroke-width="0.9" stroke-linejoin="round"/>
<path d="M768.7,148.3 L767.0,142.5 M764.9,145.9 L770.8,144.9" stroke="#8fbb6c" stroke-width="0.6"/>
<path d="M772.3,142.5 L770.6,136.7 M768.5,140.1 L774.4,139.1" stroke="#8fbb6c" stroke-width="0.6"/>
<path d="M809.4,158 L809.4,156.4 L809.2,154.9 L808.8,153.5 L808.2,152.2 L807.4,150.9 L806.8,149.5 L806.7,148 L806.5,146.5 L806,145.1 L805.3,143.8 L804.4,142.5 L804.2,141 L804.1,139.5 L803.7,138 L798.3,140 L798.9,141.3 L799.8,142.6 L800.6,143.9 L800.7,145.4 L801,146.9 L801.5,148.2 L802.3,149.5 L803.2,150.8 L803.6,152.2 L803.8,153.7 L804.2,155.1 L804.8,156.5 L805.6,157.8 L806.6,159Z" fill="#bcdaa2" stroke="#86b462" stroke-width="0.9" stroke-linejoin="round"/>
<path d="M808.7,153.9 L803.2,151.6 M804.5,155.3 L807.3,150.1" stroke="#8fbb6c" stroke-width="0.6"/>
<path d="M805.9,146.1 L800.4,143.8 M801.7,147.5 L804.5,142.3" stroke="#8fbb6c" stroke-width="0.6"/>
<path d="M795.5,41.3 L796.6,41.3 L797.8,41.3 L798.8,41.4 L799.9,41.6 L801,41.7 L802,42 L803,42.3 L804,42.6 L805,43 L806,43.5 L807,44 L808,44.7 L808.9,45.4 L809.9,46.1 L810.8,46.9 L811.7,47.8 L812.6,48.7 L813.5,49.6 L814.3,50.5 L815,51.5 L815.7,52.5 L816.4,53.6 L817,54.7 L817.6,55.9 L818.2,57.1 L818.7,58.3 L819.2,59.5 L819.6,60.7 L820,61.9 L820.3,63 L820.6,64.1 L820.8,65.1 L820.9,66.2 L821,67.2 L821.1,68.2 L821.1,69.3 L821.1,70.2 L821,71.2 L820.9,72.1 L820.8,73 L820.6,73.9 L820.4,74.7 L820.1,75.5 L819.8,76.3 L819.5,77.1 L819.1,77.8 L818.7,78.5 L818.3,79.2 L817.9,79.9 L817.5,80.5 L817.1,81.1 L816.6,81.7 L816,82.2 L815.5,82.7 L814.9,83.2 L814.3,83.7 L813.8,84.1 L813.3,84.6 L812.9,85 L812.5,85.5 L812.2,86 L811.9,86.4 L811.7,86.8 L811.5,87.3 L811.3,87.7 L811.1,88.1 L811,88.6 L811,89 L811,89.5 L811,90 L811.1,90.5 L811.2,91.1 L811.4,91.6 L811.6,92.2 L811.9,92.8 L812.2,93.4 L812.5,94 L812.8,94.6 L813.2,95.3 L813.5,96 L813.9,96.7 L814.3,97.4 L814.8,98.2 L815.3,99 L815.8,99.8 L816.3,100.6 L816.8,101.4 L817.2,102.2 L817.7,103.1 L818,104 L818.3,104.9 L818.6,105.9 L818.9,106.8 L819.1,107.8 L819.3,108.8 L819.5,109.8 L819.7,110.9 L819.8,111.9 L819.8,113 L819.8,114 L819.7,115.1 L819.7,116.1 L819.5,117.2 L819.4,118.3 L819.1,119.4 L818.9,120.6 L818.6,121.7 L818.2,122.8 L817.8,123.9 L817.3,125 L816.8,126.1 L816.2,127.3 L815.5,128.5 L814.8,129.6 L814,130.8 L813.2,132 L812.4,133.1 L811.4,134.1 L810.5,135.1 L809.5,136 L808.4,136.8 L807.3,137.6 L806.1,138.4 L804.9,139.1 L803.6,139.8 L802.3,140.4 L800.9,140.9 L799.6,141.3 L798.3,141.7 L797,142 L795.7,142.2 L794.4,142.3 L793.1,142.4 L791.8,142.3 L790.5,142.2 L789.2,142.1 L787.8,141.8 L786.5,141.5 L785.3,141.2 L784,140.8 L782.7,140.3 L781.5,139.8 L780.2,139.2 L779,138.6 L777.8,137.9 L776.5,137.1 L775.3,136.3 L774.2,135.4 L773.1,134.5 L772,133.5 L771,132.4 L770,131.3 L769,130.1 L768,128.8 L767.1,127.5 L766.2,126.2 L765.3,124.8 L764.5,123.4 L763.7,121.9 L763,120.5 L762.3,119 L761.6,117.6 L761,116 L760.3,114.5 L759.8,112.9 L759.2,111.3 L758.7,109.7 L758.3,108.1 L757.9,106.5 L757.5,105 L757.2,103.5 L756.9,102 L756.7,100.4 L756.6,98.9 L756.5,97.4 L756.4,95.9 L756.3,94.4 L756.3,92.9 L756.3,91.5 L756.3,90 L756.3,88.6 L756.4,87.1 L756.4,85.7 L756.5,84.3 L756.6,82.9 L756.8,81.6 L757,80.2 L757.2,78.8 L757.5,77.4 L757.8,76 L758.2,74.6 L758.6,73.2 L759.1,71.7 L759.6,70.3 L760.1,68.8 L760.7,67.4 L761.3,66 L761.9,64.6 L762.6,63.3 L763.3,62 L764,60.7 L764.8,59.5 L765.6,58.3 L766.4,57.1 L767.3,56 L768.2,54.8 L769.1,53.8 L770.1,52.7 L771,51.7 L772,50.8 L773,49.9 L774,49.1 L775.1,48.2 L776.2,47.5 L777.3,46.8 L778.4,46.1 L779.5,45.4 L780.7,44.8 L781.8,44.3 L783,43.8 L784.2,43.3 L785.4,42.9 L786.7,42.6 L788,42.3 L789.3,42 L790.6,41.7 L791.8,41.6 L793.1,41.4 L794.3,41.3Z" fill="#6a9b38"/>
<path d="M796.3,45.2 L795.2,45.2 L794.2,45.3 L793,45.4 L791.9,45.6 L790.7,45.8 L789.6,46.1 L788.4,46.3 L787.3,46.7 L786.2,47 L785.2,47.4 L784.1,47.9 L783.1,48.3 L782.1,48.9 L781.1,49.4 L780.1,50.1 L779.1,50.7 L778.1,51.4 L777.2,52.1 L776.2,52.9 L775.3,53.7 L774.5,54.5 L773.6,55.4 L772.7,56.3 L771.9,57.3 L771.1,58.4 L770.3,59.4 L769.5,60.5 L768.8,61.6 L768.1,62.8 L767.4,63.9 L766.8,65.1 L766.1,66.3 L765.5,67.6 L765,68.9 L764.4,70.2 L763.9,71.6 L763.5,72.9 L763,74.3 L762.6,75.6 L762.3,76.9 L762,78.2 L761.7,79.5 L761.5,80.8 L761.4,82 L761.2,83.3 L761.1,84.6 L761,85.9 L761,87.3 L760.9,88.6 L760.9,90 L760.9,91.5 L760.9,92.9 L760.9,94.3 L761,95.7 L761.1,97.1 L761.2,98.6 L761.3,100 L761.5,101.4 L761.7,102.8 L762,104.2 L762.3,105.6 L762.7,107.1 L763.2,108.6 L763.6,110.1 L764.1,111.6 L764.7,113.1 L765.3,114.5 L765.9,116 L766.5,117.4 L767.2,118.7 L767.9,120.1 L768.6,121.4 L769.4,122.8 L770.2,124.1 L771,125.3 L771.9,126.5 L772.7,127.7 L773.6,128.8 L774.5,129.8 L775.4,130.7 L776.3,131.6 L777.3,132.4 L778.3,133.1 L779.4,133.9 L780.5,134.5 L781.5,135.2 L782.6,135.7 L783.8,136.3 L784.9,136.7 L786,137.1 L787.1,137.5 L788.2,137.8 L789.3,138 L790.4,138.2 L791.6,138.3 L792.7,138.4 L793.8,138.5 L794.9,138.4 L795.9,138.3 L797,138.2 L798,137.9 L799.1,137.6 L800.3,137.2 L801.4,136.8 L802.6,136.2 L803.7,135.7 L804.8,135.1 L805.8,134.4 L806.8,133.7 L807.7,133 L808.5,132.3 L809.3,131.5 L810,130.6 L810.8,129.6 L811.5,128.6 L812.2,127.6 L812.8,126.5 L813.4,125.4 L814,124.4 L814.5,123.4 L814.9,122.4 L815.2,121.5 L815.5,120.5 L815.8,119.6 L816,118.6 L816.2,117.7 L816.4,116.7 L816.5,115.8 L816.6,114.8 L816.6,113.9 L816.6,113 L816.6,112.2 L816.5,111.3 L816.4,110.4 L816.2,109.6 L816,108.7 L815.8,107.8 L815.6,107 L815.3,106.1 L815,105.3 L814.8,104.7 L814.5,104 L814.1,103.3 L813.7,102.6 L813.2,101.8 L812.7,101.1 L812.2,100.3 L812.2,100.3 L811.7,99.5 L811.7,99.4 L811.2,98.7 L811.1,98.6 L810.8,97.8 L810.7,97.8 L810.4,97.1 L810,96.4 L809.7,95.8 L809.7,95.8 L809.4,95.1 L809.3,95.1 L809.1,94.5 L809,94.4 L808.7,93.8 L808.7,93.6 L808.5,93 L808.4,92.8 L808.2,92.3 L808.1,92 L808,91.5 L807.9,91.1 L807.8,90.6 L807.8,90.2 L807.8,89.7 L807.8,89.4 L807.8,88.9 L807.8,88.5 L807.9,88.1 L807.9,87.7 L808,87.3 L808.1,86.9 L808.3,86.5 L808.4,86.2 L808.6,85.8 L808.7,85.5 L808.9,85.1 L809,84.9 L809.2,84.5 L809.3,84.3 L809.6,83.9 L809.6,83.8 L810,83.3 L810.1,83.1 L810.5,82.6 L810.7,82.3 L811.2,81.9 L811.4,81.7 L811.8,81.3 L812,81.2 L812.5,80.7 L812.5,80.7 L813.1,80.2 L813.6,79.8 L814,79.4 L814.4,79 L814.7,78.6 L815,78.3 L815.3,77.8 L815.7,77.2 L816,76.6 L816.4,76 L816.7,75.4 L816.9,74.8 L817.2,74.2 L817.4,73.6 L817.5,73 L817.7,72.4 L817.8,71.6 L817.8,70.9 L817.9,70.1 L817.9,69.2 L817.9,68.4 L817.8,67.5 L817.8,66.7 L817.6,65.8 L817.5,64.9 L817.2,64 L817,63 L816.6,62 L816.2,60.9 L815.8,59.8 L815.3,58.7 L814.8,57.6 L814.3,56.6 L813.7,55.6 L813.1,54.7 L812.5,53.8 L811.9,53 L811.2,52.2 L810.5,51.3 L809.7,50.6 L808.9,49.8 L808.1,49.1 L807.3,48.5 L806.5,47.9 L805.7,47.4 L804.9,47 L804.1,46.6 L803.3,46.3 L802.6,46 L801.7,45.8 L800.9,45.6 L800,45.4 L799.2,45.3 L798.2,45.2 L797.3,45.2Z" fill="#bcdba3"/>
<path d="M805,84.2 L805.1,84.2 L805.3,84.3 L805.5,84.4 L805.7,84.4 L805.8,84.4 L806,84.4 L806.2,84.4 L806.4,84.4 L806.5,84.3 L806.7,84.2 L806.9,84.1 L807,84 L807.1,83.9 L807.3,83.8 L807.4,83.7 L807.5,83.5 L807.5,83.5 L807.5,83.5 L807.6,83.3 L807.6,83.3 L807.9,82.8 L807.9,82.8 L808,82.7 L808,82.7 L808.3,82.2 L808.3,82.2 L808.5,81.9 L808.6,81.9 L808.9,81.4 L808.9,81.4 L809.3,81 L809.3,80.9 L809.7,80.5 L809.7,80.5 L810,80.3 L810,80.2 L810.5,79.8 L810.5,79.8 L810.6,79.7 L810.7,79.6 L811.2,79.2 L811.2,79.1 L811.8,78.7 L811.8,78.7 L812.2,78.3 L812.3,78.3 L812.6,77.9 L812.7,77.9 L812.9,77.7 L813,77.6 L813.1,77.4 L813.2,77.3 L813.3,77.2 L813.4,77.1 L813.6,76.7 L813.7,76.7 L814,76.2 L814,76.1 L814.3,75.6 L814.3,75.6 L814.6,75.1 L814.6,75 L814.8,74.6 L814.9,74.5 L815.1,74.1 L815.1,74 L815.3,73.6 L815.3,73.5 L815.4,73.1 L815.5,73 L815.6,72.6 L815.6,72.5 L815.7,72.1 L815.7,72 L815.8,71.4 L815.8,71.4 L815.8,70.7 L815.8,70.7 L815.9,70 L815.9,69.9 L815.9,69.3 L815.9,69.2 L815.9,68.5 L815.9,68.4 L815.8,67.7 L815.8,67.7 L815.8,67 L815.8,66.9 L815.7,66.2 L815.6,66.1 L815.5,65.4 L815.5,65.3 L815.3,64.6 L815.3,64.5 L815,63.7 L815,63.6 L814.7,62.7 L814.7,62.6 L814.4,61.7 L814.3,61.6 L814,60.6 L813.9,60.6 L813.5,59.6 L813.5,59.5 L813,58.5 L813,58.5 L812.5,57.6 L812.5,57.5 L812,56.6 L812,56.6 L811.5,55.8 L811.4,55.7 L811,55 L810.9,54.9 L810.4,54.3 L810.3,54.2 L809.7,53.5 L809.7,53.4 L809.1,52.8 L809,52.7 L808.4,52 L808.3,52 L807.6,51.3 L807.6,51.3 L806.9,50.7 L806.8,50.7 L806.1,50.1 L806.1,50.1 L805.9,50 L805.8,49.9 L805.6,49.8 L805.5,49.7 L805.3,49.7 L805.1,49.7 L804.9,49.6 L804.7,49.7 L804.6,49.7 L804.4,49.7 L804.2,49.8 L804.1,49.9 L803.9,49.9 L803.8,50 L803.6,50.2 L803.5,50.3 L803.4,50.4 L803.3,50.6 L803.2,50.8 L803.2,50.9 L803.1,51.1 L803.1,51.3 L803.1,51.5 L803.4,82.2 L803.4,82.4 L803.5,82.6 L803.5,82.8 L803.6,82.9 L803.7,83.1 L803.7,83.3 L803.9,83.4 L804,83.5 L804.1,83.7 L804.3,83.8 L804.4,83.8 L804.5,83.9 L804.6,83.9ZM808.5,97.8 L808.4,97.6 L808.3,97.5 L808.2,97.4 L808.1,97.2 L807.9,97.1 L807.8,97 L807.6,97 L807.4,96.9 L807.3,96.9 L807.1,96.8 L806.9,96.8 L806.7,96.8 L806.6,96.9 L806.4,96.9 L806.2,97 L806.1,97 L805.9,97.1 L805.8,97.2 L805.6,97.3 L805.5,97.5 L805.4,97.6 L805.3,97.8 L805.2,97.9 L805.2,98.1 L805.1,98.3 L805.1,98.4 L805.1,98.6 L805.1,98.8 L805.1,99 L809.4,121.8 L809.4,121.9 L809.5,122.1 L809.6,122.2 L809.7,122.4 L809.8,122.5 L809.9,122.7 L810,122.8 L810.1,122.9 L810.3,123 L810.4,123.1 L810.6,123.1 L810.8,123.2 L811,123.2 L811.1,123.2 L811.3,123.2 L811.5,123.2 L811.7,123.2 L811.8,123.1 L812,123 L812.1,122.9 L812.3,122.8 L812.4,122.7 L812.5,122.6 L812.6,122.4 L812.7,122.3 L812.8,122.1 L813,121.7 L813,121.6 L813.3,120.8 L813.4,120.8 L813.6,120 L813.6,119.9 L813.9,119.1 L813.9,119 L814.1,118.2 L814.1,118.2 L814.2,117.4 L814.3,117.3 L814.4,116.5 L814.4,116.4 L814.5,115.6 L814.5,115.5 L814.6,114.7 L814.6,114.6 L814.6,113.9 L814.6,113.8 L814.6,113.1 L814.6,113 L814.6,112.4 L814.6,112.3 L814.5,111.6 L814.5,111.5 L814.4,110.8 L814.4,110.7 L814.3,110 L814.2,109.9 L814.1,109.2 L814.1,109.1 L813.9,108.4 L813.9,108.3 L813.7,107.6 L813.6,107.5 L813.4,106.8 L813.4,106.7 L813.2,106.1 L813.1,106 L813,105.5 L812.9,105.4 L812.7,104.9 L812.6,104.9 L812.4,104.3 L812.3,104.2 L812,103.6 L811.9,103.6 L811.5,102.9 L811.5,102.9 L811,102.2 L811,102.2 L810.5,101.4 L810.5,101.3 L810,100.6 L810,100.6 L809.9,100.5 L809.9,100.5 L809.5,99.7 L809.5,99.7 L809.4,99.5 L809.4,99.5 L809,98.8 L809,98.8 L808.9,98.7 L808.9,98.7 L808.6,98 L808.6,98ZM791.3,134.2 L791.3,134.3 L791.3,134.5 L791.3,134.7 L791.3,134.8 L791.3,135 L791.3,135.2 L791.4,135.3 L791.5,135.5 L791.6,135.6 L791.7,135.8 L791.8,135.9 L791.9,136 L792.1,136.1 L792.2,136.2 L792.4,136.3 L792.5,136.4 L792.7,136.4 L792.9,136.4 L793,136.4 L793.7,136.5 L793.8,136.5 L794.7,136.4 L794.8,136.4 L795.6,136.3 L795.7,136.3 L796.6,136.2 L796.7,136.2 L797.5,136 L797.6,136 L798.5,135.7 L798.6,135.7 L799.5,135.4 L799.6,135.3 L800.6,134.9 L800.7,134.9 L801.7,134.5 L801.8,134.4 L802.7,133.9 L802.8,133.9 L803.7,133.4 L803.8,133.3 L804.7,132.8 L804.8,132.7 L805.3,132.3 L805.5,132.2 L805.6,132.1 L805.7,131.9 L805.8,131.8 L805.9,131.6 L806,131.5 L806,131.3 L806.1,131.1 L806.1,131 L806.1,130.8 L806.1,130.6 L806,130.4 L806,130.3 L805.9,130.1 L805.9,130 L805.8,130 L805.8,129.9 L801.9,109.1 L801.9,108.9 L801.8,108.7 L801.8,108.6 L801.7,108.4 L801.6,108.3 L801.4,108.1 L801.3,108 L801.2,107.9 L801,107.8 L800.8,107.7 L800.7,107.7 L800.5,107.6 L800.3,107.6 L800.2,107.6 L800,107.6 L799.8,107.6 L799.6,107.7 L799.5,107.7 L799.3,107.8 L799.1,107.9 L799,108 L798.9,108.1 L798.8,108.3 L798.6,108.4 L798.6,108.6 L798.5,108.7 L798.4,108.9ZM789.9,48 L789.8,48.1 L789.6,48.1 L789.4,48.2 L789.3,48.3 L789.2,48.4 L789,48.6 L788.9,48.7 L788.8,48.9 L788.7,49 L788.7,49.2 L788.6,49.3 L788.6,49.5 L788.6,49.7 L788.6,49.9 L788.6,50.1 L788.6,50.2 L788.7,50.4 L794.8,66.7 L794.8,66.8 L794.9,67 L795,67.1 L795.1,67.3 L795.3,67.4 L795.4,67.5 L795.6,67.6 L795.7,67.7 L795.9,67.7 L796.1,67.8 L796.2,67.8 L796.4,67.8 L796.6,67.8 L796.8,67.8 L796.9,67.8 L797.1,67.7 L797.3,67.6 L797.4,67.5 L797.6,67.4 L797.7,67.3 L797.8,67.2 L797.9,67 L798,66.9 L798.1,66.7 L798.2,66.5 L798.2,66.4 L798.2,66.2 L798.2,66 L798.1,49 L798.1,48.8 L798,48.6 L798,48.5 L797.9,48.3 L797.8,48.1 L797.7,48 L797.6,47.8 L797.5,47.7 L797.4,47.6 L797.2,47.5 L797.1,47.4 L796.9,47.3 L796.7,47.3 L796.6,47.2 L796.4,47.2 L796.2,47.2 L795.4,47.2 L795.3,47.2 L794.4,47.3 L794.3,47.3 L793.3,47.4 L793.3,47.4 L792.2,47.6 L792.2,47.6 L791.1,47.8 L791.1,47.8 L790,48 L790,48ZM770.9,118.3 L770.7,118.4 L770.6,118.6 L770.5,118.7 L770.4,118.9 L770.3,119 L770.3,119.2 L770.2,119.4 L770.2,119.5 L770.2,119.7 L770.2,119.9 L770.3,120.1 L770.3,120.3 L770.4,120.4 L770.4,120.6 L771.1,121.7 L771.1,121.8 L771.9,123 L771.9,123 L772.7,124.2 L772.7,124.2 L773.5,125.3 L773.5,125.4 L774.3,126.4 L774.3,126.5 L775.1,127.5 L775.2,127.5 L775.9,128.4 L776,128.4 L776.8,129.2 L776.8,129.3 L777.6,130 L777.7,130.1 L778.5,130.8 L778.6,130.8 L779.5,131.5 L779.5,131.5 L780.5,132.2 L780.5,132.2 L781.5,132.8 L781.5,132.8 L782.5,133.4 L782.5,133.4 L783.5,133.9 L783.6,134 L784,134.1 L784.1,134.2 L784.3,134.3 L784.5,134.3 L784.6,134.3 L784.8,134.3 L785,134.3 L785.2,134.3 L785.3,134.2 L785.5,134.1 L785.6,134.1 L785.8,134 L785.9,133.9 L786,133.7 L786.2,133.6 L786.3,133.5 L786.3,133.3 L786.4,133.2 L786.5,133 L794.9,102.9 L795,102.7 L795,102.6 L795,102.4 L795,102.2 L794.9,102 L794.9,101.9 L794.8,101.7 L794.8,101.6 L794.7,101.4 L794.6,101.3 L794.4,101.1 L794.3,101 L794.2,100.9 L794,100.8 L793.9,100.8 L793.7,100.7 L793.5,100.7 L793.4,100.6 L793.2,100.6 L793,100.6 L792.8,100.7 L792.7,100.7 L792.5,100.8 L792.3,100.8 L792.2,100.9 L792,101ZM768.9,65.4 L768.8,65.5 L768.7,65.7 L768.7,65.9 L768.7,66.1 L768.7,66.2 L768.7,66.4 L768.7,66.6 L768.8,66.8 L768.8,66.9 L768.9,67.1 L769,67.3 L769.1,67.4 L769.2,67.5 L769.4,67.6 L769.5,67.8 L791.6,81.6 L791.7,81.7 L791.9,81.8 L792.1,81.8 L792.2,81.9 L792.4,81.9 L792.6,81.9 L792.8,81.9 L792.9,81.8 L793.1,81.8 L793.3,81.7 L793.4,81.6 L793.6,81.5 L793.7,81.4 L793.9,81.3 L794,81.2 L794.1,81 L794.1,80.9 L794.2,80.7 L794.3,80.5 L794.3,80.3 L794.3,80.2 L794.3,80 L794.3,79.8 L794.3,79.6 L794.2,79.5 L784.1,52.4 L784,52.3 L784,52.1 L783.9,52 L783.7,51.8 L783.6,51.7 L783.5,51.6 L783.3,51.5 L783.2,51.4 L783,51.4 L782.8,51.3 L782.7,51.3 L782.5,51.3 L782.3,51.3 L782.1,51.3 L782,51.3 L781.8,51.4 L781.6,51.4 L781.5,51.5 L781.1,51.7 L781.1,51.8 L780.2,52.3 L780.2,52.4 L779.3,53 L779.3,53 L778.4,53.7 L778.4,53.7 L777.6,54.4 L777.5,54.4 L776.7,55.1 L776.7,55.2 L775.9,55.9 L775.9,55.9 L775.1,56.7 L775,56.8 L774.3,57.6 L774.2,57.7 L773.5,58.6 L773.4,58.6 L772.7,59.6 L772.7,59.6 L771.9,60.6 L771.9,60.6 L771.2,61.6 L771.2,61.7 L770.5,62.7 L770.4,62.7 L769.8,63.8 L769.8,63.8 L769.2,64.9 L769.1,64.9ZM764.7,94.9 L764.6,94.9 L764.4,94.9 L764.2,95 L764.1,95.1 L763.9,95.1 L763.8,95.2 L763.6,95.4 L763.5,95.5 L763.4,95.6 L763.3,95.8 L763.2,95.9 L763.1,96.1 L763.1,96.3 L763.1,96.4 L763,96.6 L763,96.8 L763,97 L763.1,97 L763.2,98.4 L763.2,98.4 L763.3,99.7 L763.3,99.8 L763.5,101.1 L763.5,101.1 L763.7,102.4 L763.7,102.4 L764,103.7 L764,103.8 L764.3,105.1 L764.3,105.1 L764.7,106.5 L764.7,106.6 L765.1,108 L765.1,108 L765.5,109.4 L765.5,109.5 L766,110.9 L766,110.9 L766.5,112.3 L766.6,112.5 L766.7,112.6 L766.8,112.8 L766.9,112.9 L767,113 L767.2,113.1 L767.3,113.2 L767.5,113.3 L767.7,113.4 L767.8,113.4 L768,113.5 L768.2,113.5 L768.4,113.5 L768.6,113.4 L768.7,113.4 L768.9,113.3 L769.1,113.3 L769.2,113.2 L769.4,113.1 L789.2,96.9 L789.4,96.8 L789.5,96.6 L789.6,96.5 L789.7,96.3 L789.7,96.2 L789.8,96 L789.9,95.9 L789.9,95.7 L789.9,95.5 L789.9,95.3 L789.9,95.2 L789.8,95 L789.8,94.8 L789.7,94.7 L789.6,94.5 L789.5,94.4 L789.4,94.2 L789.3,94.1 L789.1,94 L789,93.9 L788.8,93.8 L788.7,93.8 L788.5,93.7 L788.3,93.7 L788.2,93.7 L788,93.7ZM762.9,88 L762.9,88.2 L763,88.4 L763,88.5 L763.1,88.7 L763.1,88.9 L763.2,89 L763.3,89.2 L763.4,89.3 L763.5,89.4 L763.7,89.5 L763.8,89.6 L764,89.7 L764.1,89.8 L764.3,89.8 L764.5,89.9 L764.7,89.9 L764.8,89.9 L787.3,88.7 L787.5,88.7 L787.6,88.7 L787.8,88.6 L788,88.5 L788.1,88.5 L788.3,88.4 L788.4,88.2 L788.5,88.1 L788.6,88 L788.7,87.8 L788.8,87.7 L788.9,87.5 L789,87.4 L789,87.2 L789,87 L789,86.8 L789,86.7 L789,86.5 L788.9,86.3 L788.8,86.2 L788.8,86 L788.7,85.9 L788.6,85.7 L788.4,85.6 L788.3,85.5 L788.2,85.4 L768,72.7 L767.8,72.6 L767.7,72.6 L767.5,72.5 L767.4,72.5 L767.2,72.4 L767,72.4 L766.8,72.4 L766.7,72.5 L766.5,72.5 L766.3,72.6 L766.2,72.6 L766,72.7 L765.9,72.8 L765.8,73 L765.7,73.1 L765.5,73.2 L765.5,73.4 L765.4,73.5 L765.3,73.7 L764.9,74.9 L764.9,74.9 L764.6,76.1 L764.6,76.2 L764.2,77.4 L764.2,77.4 L764,78.6 L763.9,78.7 L763.7,79.8 L763.7,79.9 L763.5,81 L763.5,81.1 L763.3,82.2 L763.3,82.3 L763.2,83.5 L763.2,83.5 L763.1,84.7 L763.1,84.8 L763,86 L763,86.1 L763,87.3 L763,87.4Z" fill="url(#lobg)"/>
<g clip-path="url(#lobclip)">
<path d="M790.4,49.8 L795.5,63.4 L795.8,63.3 L796.4,63 L796.3,49 L796.3,49 L796.2,49 L795.4,49 L795.4,49 L794.5,49.1 L794.5,49.1 L793.5,49.2 L793.5,49.2 L792.5,49.3 L792.5,49.4 L791.5,49.5 L791.4,49.5 L790.4,49.8 L790.4,49.8 L790.4,49.8ZM782.7,53.9 L782.7,54.5 L782.7,55.4 L782.9,56.4 L783.1,57.3 L783.4,58.1 L783.8,59 L784.3,59.8 L784.9,60.5 L785.5,61.2Z" fill="#b98cc4"/>
<path d="M805.1,68.9 L805.5,69.2 L806.3,69.7 L807.1,70.1 L808,70.4 L808.9,70.6 L809.8,70.8 L810.7,70.8 L811.6,70.8 L812.5,70.6 L813.4,70.4 L814.1,70.2 L814.1,69.9 L814.1,69.9 L814.1,69.2 L814.1,69.2 L814.1,68.6 L814.1,68.5 L814.1,67.9 L814,67.8 L814,67.2 L814,67.1 L813.9,66.4 L813.9,66.4 L813.7,65.7 L813.7,65.7 L813.6,65 L813.6,65 L813.3,64.2 L813.3,64.1 L813,63.2 L813,63.2 L812.7,62.3 L812.7,62.2 L812.3,61.3 L812.3,61.3 L811.9,60.3 L811.8,60.3 L811.4,59.3 L811.4,59.3 L810.9,58.4 L810.9,58.4 L810.4,57.5 L810.4,57.5 L810,56.8 L809.9,56.7 L809.5,56.1 L809.5,56 L809,55.4 L808.9,55.3 L808.4,54.7 L808.4,54.6 L807.7,54 L807.7,54 L807.1,53.3 L807.1,53.3 L806.8,53.1 L806.3,53.3 L805.5,53.8 L804.9,54.2Z" fill="#b98cc4"/>
<path d="M770.5,66.3 L781.9,73.4 L782.2,73.3 L783.1,72.9 L783.9,72.4 L784.6,71.8 L785.3,71.2 L785.9,70.5 L786.5,69.8 L787,69 L787.4,68.1 L787.7,67.3 L787.7,67.2 L783.7,56.5 L783.1,56.1 L782.2,55.7 L781.4,55.4 L780.5,55.2 L779.6,55.1 L779.5,55.1 L779.5,55.1 L778.7,55.7 L778.7,55.8 L777.9,56.4 L777.9,56.5 L777.2,57.2 L777.1,57.2 L776.4,58 L776.4,58 L775.6,58.8 L775.6,58.9 L774.9,59.7 L774.8,59.8 L774.1,60.7 L774.1,60.7 L773.4,61.6 L773.4,61.7 L772.7,62.6 L772.6,62.7 L772,63.7 L772,63.7 L771.3,64.7 L771.3,64.7 L770.7,65.8 L770.7,65.8 L770.5,66.2 L770.5,66.2Z" fill="#b98cc4"/>
<path d="M764.7,88.1 L764.8,88.1 L781.1,87.2 L781.2,87.1 L781.5,86.3 L781.7,85.4 L781.9,84.4 L781.9,83.6 L768.2,75 L767.9,75.1 L767.1,75.6 L766.5,76.1 L766.3,76.6 L766.3,76.7 L766,77.8 L766,77.9 L765.7,79 L765.7,79 L765.5,80.1 L765.5,80.2 L765.3,81.3 L765.3,81.3 L765.1,82.5 L765.1,82.5 L765,83.7 L765,83.7 L764.9,84.9 L764.9,84.9 L764.8,86.1 L764.8,86.1 L764.8,87.4 L764.8,87.4 L764.7,88Z" fill="#b98cc4"/>
<path d="M765.3,100.8 L765.3,100.8 L765.5,102.1 L765.5,102.1 L765.7,103.4 L765.7,103.4 L766,104.7 L766,104.7 L766.4,106.1 L766.4,106.1 L766.8,107.5 L766.8,107.5 L767.2,108.9 L767.2,108.9 L767.7,110.3 L767.7,110.3 L768.2,111.6 L768.2,111.7 L768.3,111.6 L781.4,101 L781.3,100.8 L780.8,100 L780.2,99.3 L779.6,98.6 L778.9,98 L778.2,97.4 L777.4,96.9 L776.5,96.5 L775.7,96.2 L775.4,96.1 L769.5,96.4 L769.3,96.5 L768.4,96.9 L767.6,97.4 L766.9,98 L766.2,98.6 L765.6,99.3 L765.1,99.8Z" fill="#b98cc4"/>
<path d="M811.2,121.4 L811.2,121.4 L811.2,121.4 L811.3,121 L811.4,121 L811.6,120.2 L811.7,120.2 L811.9,119.4 L811.9,119.4 L812.1,118.6 L812.1,118.6 L812.3,117.8 L812.3,117.8 L812.5,117 L812.5,117 L812.6,116.2 L812.6,116.2 L812.7,115.4 L812.7,115.4 L812.8,114.6 L812.8,114.5 L812.8,113.8 L812.8,113.8 L812.8,113.1 L812.8,113.1 L812.8,112.5 L812.8,112.4 L812.7,111.8 L812.7,111.7 L812.6,111.1 L812.6,111 L812.5,110.3 L812.5,110.3 L812.3,109.6 L812.3,109.5 L812.1,108.8 L812.1,108.8 L811.9,108.1 L811.9,108 L811.9,107.9 L811.3,108 L810.5,108.2 L809.7,108.5 L808.9,108.8 L808.8,108.9Z" fill="#b98cc4"/>
</g>
<path d="M801,90.5 L784,45" stroke="#72a243" stroke-width="1.5"/>
<path d="M801,90.5 L800.5,42.5" stroke="#72a243" stroke-width="1.5"/>
<path d="M801,90.5 L766,68.5" stroke="#72a243" stroke-width="1.5"/>
<path d="M801,90.5 L762.5,92.5" stroke="#72a243" stroke-width="1.5"/>
<path d="M801,90.5 L768.5,117" stroke="#72a243" stroke-width="1.5"/>
<path d="M801,90.5 L788.5,135" stroke="#72a243" stroke-width="1.5"/>
<path d="M801,90.5 L808.3,129.5" stroke="#72a243" stroke-width="1.5"/>
<circle cx="791.7" cy="53" r="3" fill="#f8c9cd"/>
<circle cx="810.2" cy="60" r="2.8" fill="#f8c9cd"/>
<circle cx="778.1" cy="63" r="3" fill="#f8c9cd"/>
<circle cx="771.9" cy="82" r="3" fill="#f8c9cd"/>
<circle cx="772.4" cy="103.8" r="3" fill="#f8c9cd"/>
<circle cx="812.5" cy="115" r="2.2" fill="#f8c9cd"/>
<path d="M806,89.5 C820,89 835,88 856,90.5" stroke="#86b462" stroke-width="7.5" fill="none"/>
<path d="M806,89.5 C820,89 835,88 856,90.5" stroke="#c3dfa9" stroke-width="5.6" fill="none"/>
<path d="M822,86.5 l5,2.5 l-5,2.5 M838,86 l5,2.8 l-5,2.8" stroke="#86b462" stroke-width="0.7" fill="none"/>
<path d="M801,90.5 L814.0,90.5" stroke="#c3dca7" stroke-width="1.6"/>
<path d="M801,90.5 L812.9,95.8" stroke="#c3dca7" stroke-width="1.6"/>
<path d="M801,90.5 L809.7,100.2" stroke="#c3dca7" stroke-width="1.6"/>
<path d="M801,90.5 L805.0,102.9" stroke="#c3dca7" stroke-width="1.6"/>
<path d="M801,90.5 L799.6,103.4" stroke="#c3dca7" stroke-width="1.6"/>
<path d="M801,90.5 L794.5,101.8" stroke="#c3dca7" stroke-width="1.6"/>
<path d="M801,90.5 L790.5,98.1" stroke="#c3dca7" stroke-width="1.6"/>
<path d="M801,90.5 L788.3,93.2" stroke="#c3dca7" stroke-width="1.6"/>
<path d="M801,90.5 L788.3,87.8" stroke="#c3dca7" stroke-width="1.6"/>
<path d="M801,90.5 L790.5,82.9" stroke="#c3dca7" stroke-width="1.6"/>
<path d="M801,90.5 L794.5,79.2" stroke="#c3dca7" stroke-width="1.6"/>
<path d="M801,90.5 L799.6,77.6" stroke="#c3dca7" stroke-width="1.6"/>
<path d="M801,90.5 L805.0,78.1" stroke="#c3dca7" stroke-width="1.6"/>
<path d="M801,90.5 L809.7,80.8" stroke="#c3dca7" stroke-width="1.6"/>
<path d="M801,90.5 L812.9,85.2" stroke="#c3dca7" stroke-width="1.6"/>
<circle cx="801" cy="90.5" r="9" fill="#c3dca7"/>
<path d="M853,101 C840,97 828,94 818,95 C812,96 808,99 804,100 M804,100 C800,102 798,104 795,106 C790,110 786,114 783,118 M804,100 C803,108 801,115 800,120" stroke="#2f62b5" stroke-width="1.3" fill="none"/>
<path d="M852,106 C840,101 828,98 818,98 C812,98 808,102 803,103 M803,103 C798,104 795,107 791,110 C787,114 783,117 779,119 M803,103 C801,110 799,116 798,121" stroke="#d23b3b" stroke-width="1.3" fill="none"/>
<circle cx="781.3" cy="121" r="4.3" fill="#f0c6da" stroke="#c8455a" stroke-width="0.9"/>
<circle cx="799.5" cy="124.6" r="4.8" fill="#f0c6da" stroke="#c8455a" stroke-width="0.9"/>
<path d="M778,122 a4,4 0 0 0 6,2 M796,126 a4.5,4.5 0 0 0 7,1" stroke="#3a5fb0" stroke-width="0.8" fill="none"/>
</g>
<g id="spleen">
<path d="M770.1,220.1 C772.6,218.1 777.6,216.2 781.9,215.9 C786.2,215.6 791.2,216.5 796,218 C800.8,219.5 806.7,222.9 810.5,225 C814.3,227.1 816.5,228.5 818.8,230.8 C821.1,233.1 823.1,236.6 824.5,239 C825.9,241.4 826.2,242.5 826.9,245.3 C827.5,248.1 828.3,253.1 828.4,256 C828.5,258.9 827.2,260.5 827.4,262.5 C827.6,264.5 829.1,265.9 829.5,268 C829.9,270.1 830,272.4 830,275 C830,277.6 830.1,280.4 829.3,283.7 C828.5,287 827.2,292 825.3,294.9 C823.4,297.8 820.4,299.5 818,301 C815.6,302.5 813.3,303.5 810.8,303.8 C808.3,304.1 805.4,303.6 803,302.8 C800.6,302 798.2,300.8 796.5,299 C794.8,297.2 793.6,294.8 792.5,292 C791.4,289.2 791.1,285.7 790,282 C788.9,278.3 787.4,273.3 786,270 C784.6,266.7 783.6,265 781.9,262.2 C780.2,259.4 778,256.1 776,253 C774,249.9 771.6,246.7 770.1,243.7 C768.6,240.7 767.5,237.6 767,235 C766.5,232.4 766.3,230.5 766.8,228 C767.3,225.5 767.6,222.1 770.1,220.1Z" fill="#8d5a69"/>
<path d="M794.8,227.6 C799,232 803,237 806,240.4 C809,244 812,247 814,250 C817,255 818.8,259 818.8,263 C818.8,270 818.8,276 818.8,282" stroke="#7d485c" stroke-width="2.2" fill="none" opacity="0.75"/>
<path d="M813,248.5 C816,243 818.5,237 820.4,232.4" stroke="#7d485c" stroke-width="1.3" fill="none" opacity="0.6"/>
<path d="M779,266.5 C780,261 781,255 782.8,250" stroke="#7f7bc9" stroke-width="2.6" fill="none" stroke-linecap="round"/>
<path d="M781,268 C785,266 789,265 792.5,264" stroke="#7f7bc9" stroke-width="2.4" fill="none" stroke-linecap="round"/>
<path d="M774.5,266.5 C776.5,261 778.5,255 780.6,249" stroke="#e04a47" stroke-width="2.8" fill="none" stroke-linecap="round"/>
<path d="M778.5,266.5 C782,264.5 786,263 790,261.8" stroke="#e04a47" stroke-width="2.4" fill="none" stroke-linecap="round"/>
<path d="M763.5,276 C768,272.9 773,271.3 779,271.5 C786,272.1 792,274.9 798,278" stroke="#7f7bc9" stroke-width="3.6" fill="none" stroke-linecap="round"/>
<path d="M761.5,272.8 C766,269.4 771,267.8 777,268 C785,268.5 792,271.5 798,275.4" stroke="#e04a47" stroke-width="3.6" fill="none" stroke-linecap="round"/>
<path d="M781,266.5 l4,-2.5 M782,272.3 l5,0.5" stroke="#fff" stroke-width="0.9" opacity="0.75"/>
</g>
<g id="body">
<path d="M788.3,394.5 C788.3,395.8 788.3,399.2 788.5,402 C788.7,404.8 789.3,409.5 789.5,411" stroke="#2b7ac4" stroke-width="2" fill="none" stroke-linecap="round" opacity="1"/>
<path d="M792,396 C792,397.3 792.1,401.2 792.3,404 C792.5,406.8 792.9,411.5 793,413" stroke="#e8503f" stroke-width="1.5" fill="none" stroke-linecap="round" opacity="1"/>
<path d="M799.6,394.5 C799.6,395.8 799.6,399.2 799.4,402 C799.2,404.8 798.7,409.5 798.6,411" stroke="#2b7ac4" stroke-width="2" fill="none" stroke-linecap="round" opacity="1"/>
<path d="M796.6,396 C796.6,397.3 796.6,401.2 796.5,404 C796.4,406.8 796.1,411.5 796,413" stroke="#e8503f" stroke-width="1.5" fill="none" stroke-linecap="round" opacity="1"/>
<path d="M790.4,401.9 C789.5,402.9 787.1,406.7 784.9,408 C782.7,409.2 779.9,408.7 777.5,409.4 C775,410.1 772.8,410.2 770.2,412.2 C767.7,414.2 764.4,417.6 762.2,421.2 C760,424.8 758.3,429.7 757,433.8 C755.6,437.9 755.1,442.3 754.2,445.9 C753.4,449.6 753.5,451.7 752,455.6 C750.5,459.5 747.9,465.1 745.4,469.4 C743,473.7 739.7,478.2 737.4,481.4 C735.2,484.6 732.9,487.5 732,488.7" stroke="#2b7ac4" stroke-width="1.2" fill="none" stroke-linecap="round" opacity="1"/>
<path d="M800.6,401.9 C801.5,402.9 803.9,406.7 806.1,408 C808.3,409.2 811.1,408.7 813.5,409.4 C816,410.1 818.2,410.2 820.8,412.2 C823.3,414.2 826.6,417.6 828.8,421.2 C831,424.8 832.7,429.7 834,433.8 C835.4,437.9 835.9,442.3 836.8,445.9 C837.6,449.6 837.5,451.7 839,455.6 C840.5,459.5 843.1,465.1 845.6,469.4 C848,473.7 851.3,478.2 853.6,481.4 C855.8,484.6 858.1,487.5 859,488.7" stroke="#2b7ac4" stroke-width="1.2" fill="none" stroke-linecap="round" opacity="1"/>
<path d="M792.6,404.1 C791.4,405 788.1,408.2 785.8,409.4 C783.4,410.7 780.4,410.7 778.3,411.7 C776.3,412.7 775,413.3 773.4,415.4 C771.8,417.6 770.1,421.2 768.7,424.6 C767.3,428.1 765.9,432.3 764.8,436.2 C763.7,440.1 763.2,444.3 762.2,448 C761.1,451.7 760.5,454.3 758.5,458.4 C756.6,462.5 753.3,468.1 750.4,472.5 C747.5,476.8 743.9,481.2 741.2,484.3 C738.6,487.4 735.7,489.9 734.6,491" stroke="#2b7ac4" stroke-width="1.2" fill="none" stroke-linecap="round" opacity="1"/>
<path d="M798.4,404.1 C799.6,405 802.9,408.2 805.2,409.4 C807.6,410.7 810.6,410.7 812.7,411.7 C814.7,412.7 816,413.3 817.6,415.4 C819.2,417.6 820.9,421.2 822.3,424.6 C823.7,428.1 825.1,432.3 826.2,436.2 C827.3,440.1 827.8,444.3 828.8,448 C829.9,451.7 830.5,454.3 832.5,458.4 C834.4,462.5 837.7,468.1 840.6,472.5 C843.5,476.8 847.1,481.2 849.8,484.3 C852.4,487.4 855.3,489.9 856.4,491" stroke="#2b7ac4" stroke-width="1.2" fill="none" stroke-linecap="round" opacity="1"/>
<path d="M791.5,403 C790.5,404 787.8,407.7 785.5,409 C783.2,410.3 780.3,410 778,410.8 C775.7,411.6 774,411.9 771.9,413.9 C769.7,415.9 767.1,419.3 765.2,422.8 C763.3,426.3 761.7,430.8 760.4,434.8 C759.2,438.8 758.6,443.2 757.7,446.8 C756.8,450.5 756.6,452.8 754.9,456.8 C753.3,460.8 750.3,466.5 747.7,470.8 C745.1,475.2 741.7,479.7 739.3,482.9 C737,486.1 734.5,488.8 733.5,490" stroke="#e8503f" stroke-width="1.0" fill="none" stroke-linecap="round" opacity="1"/>
<path d="M799.5,403 C800.5,404 803.2,407.7 805.5,409 C807.8,410.3 810.7,410 813,410.8 C815.3,411.6 817,411.9 819.1,413.9 C821.3,415.9 823.9,419.3 825.8,422.8 C827.7,426.3 829.3,430.8 830.6,434.8 C831.8,438.8 832.4,443.2 833.3,446.8 C834.2,450.5 834.4,452.8 836.1,456.8 C837.7,460.8 840.7,466.5 843.3,470.8 C845.9,475.2 849.3,479.7 851.7,482.9 C854,486.1 856.5,488.8 857.5,490" stroke="#e8503f" stroke-width="1.0" fill="none" stroke-linecap="round" opacity="1"/>
<path d="M790.1,401.6 C789.2,402.5 786.7,406.1 784.5,407.3 C782.3,408.4 779.6,407.7 777.1,408.5 C774.7,409.2 771.9,409.3 769.6,411.6 C767.4,413.8 765.4,418.2 763.7,422 C761.9,425.8 760.5,430.4 759.3,434.5 C758.1,438.6 757.5,442.9 756.6,446.5 C755.7,450.2 755.5,452.4 753.9,456.4 C752.3,460.4 749.5,466 747,470.4 C744.4,474.7 741.1,479.2 738.7,482.4 C736.4,485.6 733.9,488.3 732.9,489.5" stroke="#e8503f" stroke-width="0.8" fill="none" stroke-linecap="round" opacity="1"/>
<path d="M800.9,401.6 C801.8,402.5 804.3,406.1 806.5,407.3 C808.7,408.4 811.4,407.7 813.9,408.5 C816.3,409.2 819.1,409.3 821.4,411.6 C823.6,413.8 825.6,418.2 827.3,422 C829.1,425.8 830.5,430.4 831.7,434.5 C832.9,438.6 833.5,442.9 834.4,446.5 C835.3,450.2 835.5,452.4 837.1,456.4 C838.7,460.4 841.5,466 844,470.4 C846.6,474.7 849.9,479.2 852.3,482.4 C854.6,485.6 857.1,488.3 858.1,489.5" stroke="#e8503f" stroke-width="0.8" fill="none" stroke-linecap="round" opacity="1"/>
<path d="M792.2,403.7 C791.2,404.8 788.5,408.8 786.3,410.3 C784,411.8 780.9,411.9 778.7,412.7 C776.5,413.4 774.8,413 772.8,414.9 C770.9,416.7 768.6,420.3 767,423.7 C765.4,427.2 764.2,431.7 763.1,435.6 C762,439.6 761.3,443.8 760.2,447.5 C759.2,451.2 758.6,453.6 756.8,457.6 C754.9,461.7 751.8,467.3 749,471.6 C746.3,475.9 742.7,480.4 740.1,483.5 C737.6,486.6 734.9,489.2 733.9,490.3" stroke="#2b7ac4" stroke-width="0.8" fill="none" stroke-linecap="round" opacity="1"/>
<path d="M798.8,403.7 C799.8,404.8 802.5,408.8 804.7,410.3 C807,411.8 810.1,411.9 812.3,412.7 C814.5,413.4 816.2,413 818.2,414.9 C820.1,416.7 822.4,420.3 824,423.7 C825.6,427.2 826.8,431.7 827.9,435.6 C829,439.6 829.7,443.8 830.8,447.5 C831.8,451.2 832.4,453.6 834.2,457.6 C836.1,461.7 839.2,467.3 842,471.6 C844.7,475.9 848.3,480.4 850.9,483.5 C853.4,486.6 856.1,489.2 857.1,490.3" stroke="#2b7ac4" stroke-width="0.8" fill="none" stroke-linecap="round" opacity="1"/>
<path d="M791.5,403 C790.5,404 787.8,407.7 785.5,409 C783.2,410.3 780.2,409.9 778,410.8 C775.8,411.7 774.3,412.3 772.4,414.4 C770.5,416.6 768.4,420.1 766.7,423.6 C764.9,427 763.2,431.4 762,435.3 C760.7,439.2 760.1,443.5 759.1,447.2 C758.1,450.9 757.7,453.2 756,457.3 C754.4,461.4 751.9,467.4 749.4,471.8 C746.8,476.3 743.1,480.7 740.6,483.8 C738.1,487 735.3,489.5 734.3,490.7" stroke="#e8503f" stroke-width="0.7" fill="none" stroke-linecap="round" opacity="1"/>
<path d="M799.5,403 C800.5,404 803.2,407.7 805.5,409 C807.8,410.3 810.8,409.9 813,410.8 C815.2,411.7 816.7,412.3 818.6,414.4 C820.5,416.6 822.6,420.1 824.3,423.6 C826.1,427 827.8,431.4 829,435.3 C830.3,439.2 830.9,443.5 831.9,447.2 C832.9,450.9 833.3,453.2 835,457.3 C836.6,461.4 839.1,467.4 841.6,471.8 C844.2,476.3 847.9,480.7 850.4,483.8 C852.9,487 855.7,489.5 856.7,490.7" stroke="#e8503f" stroke-width="0.7" fill="none" stroke-linecap="round" opacity="1"/>
<path d="M732.5,490 C732.1,491 730.5,494 730,496 C729.5,498 729.6,501 729.5,502" stroke="#e8503f" stroke-width="0.6" fill="none" stroke-linecap="round" opacity="0.85"/>
<path d="M858.5,490 C858.9,491 860.5,494 861,496 C861.5,498 861.4,501 861.5,502" stroke="#e8503f" stroke-width="0.6" fill="none" stroke-linecap="round" opacity="0.85"/>
<path d="M733.7,490 C733.4,491 732.3,494 732,496 C731.7,498 731.9,501 731.9,502" stroke="#e8503f" stroke-width="0.6" fill="none" stroke-linecap="round" opacity="0.85"/>
<path d="M857.3,490 C857.6,491 858.7,494 859,496 C859.3,498 859.1,501 859.1,502" stroke="#e8503f" stroke-width="0.6" fill="none" stroke-linecap="round" opacity="0.85"/>
<path d="M734.9,490 C734.8,491 734.1,494 734,496 C733.9,498 734.2,501 734.3,502" stroke="#e8503f" stroke-width="0.6" fill="none" stroke-linecap="round" opacity="0.85"/>
<path d="M856.1,490 C856.2,491 856.9,494 857,496 C857.1,498 856.8,501 856.7,502" stroke="#e8503f" stroke-width="0.6" fill="none" stroke-linecap="round" opacity="0.85"/>
<path d="M736.1,490 C736.1,491 735.9,494 736,496 C736.1,498 736.6,501 736.7,502" stroke="#e8503f" stroke-width="0.6" fill="none" stroke-linecap="round" opacity="0.85"/>
<path d="M854.9,490 C854.9,491 855.1,494 855,496 C854.9,498 854.4,501 854.3,502" stroke="#e8503f" stroke-width="0.6" fill="none" stroke-linecap="round" opacity="0.85"/>
<path d="M737.3,490 C737.4,491 737.7,494 738,496 C738.3,498 738.9,501 739.1,502" stroke="#e8503f" stroke-width="0.6" fill="none" stroke-linecap="round" opacity="0.85"/>
<path d="M853.7,490 C853.6,491 853.3,494 853,496 C852.7,498 852.1,501 851.9,502" stroke="#e8503f" stroke-width="0.6" fill="none" stroke-linecap="round" opacity="0.85"/>
<path d="M730,489.5 C731.2,489.8 735.8,490.8 737,491" stroke="#2b7ac4" stroke-width="1.2" fill="none" stroke-linecap="round" opacity="1"/>
<path d="M861,489.5 C859.8,489.8 855.2,490.8 854,491" stroke="#2b7ac4" stroke-width="1.2" fill="none" stroke-linecap="round" opacity="1"/>
<path d="M772,413 C771.3,412.5 768.7,410.5 768,410" stroke="#e8503f" stroke-width="0.8" fill="none" stroke-linecap="round" opacity="1"/>
<path d="M819,413 C819.7,412.5 822.3,410.5 823,410" stroke="#e8503f" stroke-width="0.8" fill="none" stroke-linecap="round" opacity="1"/>
<path d="M776,411 C775.8,410 775.2,406 775,405" stroke="#e8503f" stroke-width="0.8" fill="none" stroke-linecap="round" opacity="1"/>
<path d="M815,411 C815.2,410 815.8,406 816,405" stroke="#e8503f" stroke-width="0.8" fill="none" stroke-linecap="round" opacity="1"/>
<path d="M780,410 C780.2,409 780.8,405 781,404" stroke="#e8503f" stroke-width="0.8" fill="none" stroke-linecap="round" opacity="1"/>
<path d="M811,410 C810.8,409 810.2,405 810,404" stroke="#e8503f" stroke-width="0.8" fill="none" stroke-linecap="round" opacity="1"/>
<path d="M774,416 C773.8,417.3 773.2,422.7 773,424" stroke="#e8503f" stroke-width="0.8" fill="none" stroke-linecap="round" opacity="1"/>
<path d="M817,416 C817.2,417.3 817.8,422.7 818,424" stroke="#e8503f" stroke-width="0.8" fill="none" stroke-linecap="round" opacity="1"/>
<path d="M778,414 C778.1,415.2 778.4,419.8 778.5,421" stroke="#2b7ac4" stroke-width="0.8" fill="none" stroke-linecap="round" opacity="1"/>
<path d="M813,414 C812.9,415.2 812.6,419.8 812.5,421" stroke="#2b7ac4" stroke-width="0.8" fill="none" stroke-linecap="round" opacity="1"/>
<path d="M770,417 C769.3,416.3 766.7,413.7 766,413" stroke="#2b7ac4" stroke-width="0.8" fill="none" stroke-linecap="round" opacity="1"/>
<path d="M821,417 C821.7,416.3 824.3,413.7 825,413" stroke="#2b7ac4" stroke-width="0.8" fill="none" stroke-linecap="round" opacity="1"/>
<path d="M791.2,420 C791.2,423.3 791.2,433.3 791.2,440 C791.2,446.7 791.3,454 791.5,460 C791.7,466 792.3,473.3 792.5,476" stroke="#2b7ac4" stroke-width="2.6" fill="none" stroke-linecap="round" opacity="1"/>
<path d="M794.5,432 C794.5,435 794.5,444.5 794.5,450 C794.5,455.5 794.6,460.5 794.5,465 C794.4,469.5 794.1,475 794,477" stroke="#e8503f" stroke-width="3.2" fill="none" stroke-linecap="round" opacity="1"/>
<path d="M791,454.2 C790.3,454.2 787.3,454.4 786.6,454.5" stroke="#e8503f" stroke-width="1.2" fill="none" stroke-linecap="round" opacity="1"/>
<path d="M795,454.2 C796,454.2 800.1,454.4 801.1,454.5" stroke="#e8503f" stroke-width="1.2" fill="none" stroke-linecap="round" opacity="1"/>
<path d="M791,452 C790.2,451.8 787.2,451.2 786.5,451" stroke="#2b7ac4" stroke-width="1.2" fill="none" stroke-linecap="round" opacity="1"/>
<path d="M795,452 C796.2,451.8 800.8,451.2 802,451" stroke="#2b7ac4" stroke-width="1.2" fill="none" stroke-linecap="round" opacity="1"/>
<path d="M792,462 C791.1,462.7 787.5,465.3 786.6,466" stroke="#2b7ac4" stroke-width="1.2" fill="none" stroke-linecap="round" opacity="1"/>
<path d="M795,462 C796,462.7 800,465.3 801,466" stroke="#e8503f" stroke-width="1.2" fill="none" stroke-linecap="round" opacity="1"/>
<path d="M792,458 C791.3,458.8 788.7,462.2 788,463" stroke="#e8503f" stroke-width="1.2" fill="none" stroke-linecap="round" opacity="1"/>
<path d="M795,458 C795.8,458.8 799.2,462.2 800,463" stroke="#2b7ac4" stroke-width="1.2" fill="none" stroke-linecap="round" opacity="1"/>
<path d="M789.5,424 C790,420 795,419.5 798,421.5 C801,420 804,422 803.5,426 C803,431 799,435 796,437.5 C792,435 788,431 788.3,427 C788.3,425.5 788.8,424.7 789.5,424Z" fill="#ec6656" stroke="#c0443a" stroke-width="0.7"/>
<path d="M789.5,424 C788.5,427 788.5,430 790,432 C791.5,428 791.5,425 792,422.5Z" fill="#d5506a"/>
<path d="M792,414 L792.2,423 M795,423.5 C797,421 799,420.5 802,420.5" stroke="#2b6fc0" stroke-width="2.4" fill="none"/>
<path d="M795.5,413 C795,417 795.5,420 797,422.5" stroke="#e8503f" stroke-width="2.6" fill="none"/>
<path d="M793.5,474 C792.7,475.2 789.7,478.5 788.4,481.2 C787.2,483.9 786.7,486.2 786,490.2 C785.3,494.2 784.8,499.3 784.2,505.1 C783.6,510.9 783,518.4 782.5,525.1 C782,531.7 781.7,538.4 781.3,545 C780.8,551.7 780.3,558.4 779.8,565.1 C779.3,571.7 778.8,578.4 778.3,585.1 C777.8,591.7 777.2,600.7 776.9,605 C776.6,609.4 776.6,610 776.5,611" stroke="#e8503f" stroke-width="1.2" fill="none" stroke-linecap="round" opacity="1"/>
<path d="M795,474 C795.8,475.2 798.8,478.5 800.1,481.2 C801.3,483.9 801.8,486.2 802.5,490.2 C803.2,494.2 803.7,499.3 804.3,505.1 C804.9,510.9 805.5,518.4 806,525.1 C806.5,531.7 806.8,538.4 807.2,545 C807.7,551.7 808.2,558.4 808.7,565.1 C809.2,571.7 809.7,578.4 810.2,585.1 C810.7,591.7 811.3,600.7 811.6,605 C811.9,609.4 811.9,610 812,611" stroke="#e8503f" stroke-width="1.2" fill="none" stroke-linecap="round" opacity="1"/>
<path d="M794.9,475.1 C794.1,476.2 791.1,479.4 789.8,481.9 C788.5,484.5 787.9,486.6 787.2,490.4 C786.4,494.3 786,499.5 785.5,505.2 C784.9,511 784.3,518.5 783.8,525.1 C783.3,531.8 783.1,538.5 782.7,545.1 C782.3,551.8 782,558.5 781.6,565.2 C781.2,571.9 780.6,578.5 780.1,585.2 C779.5,591.8 778.7,600.8 778.3,605.1 C777.9,609.4 777.6,610.1 777.5,611.1" stroke="#2b7ac4" stroke-width="1.5" fill="none" stroke-linecap="round" opacity="1"/>
<path d="M793.6,475.1 C794.4,476.2 797.4,479.4 798.7,481.9 C800,484.5 800.6,486.6 801.3,490.4 C802.1,494.3 802.5,499.5 803,505.2 C803.6,511 804.2,518.5 804.7,525.1 C805.2,531.8 805.4,538.5 805.8,545.1 C806.2,551.8 806.5,558.5 806.9,565.2 C807.3,571.9 807.9,578.5 808.4,585.2 C809,591.8 809.8,600.8 810.2,605.1 C810.6,609.4 810.9,610.1 811,611.1" stroke="#2b7ac4" stroke-width="1.5" fill="none" stroke-linecap="round" opacity="1"/>
<path d="M793.9,474.3 C793,475.5 789.9,478.7 788.7,481.4 C787.5,484 786.7,486.3 786.5,490.3 C786.2,494.3 787.2,499.6 787.2,505.4 C787.1,511.2 786.4,518.6 786.1,525.3 C785.7,531.9 785.5,538.6 785.1,545.3 C784.7,552 784.3,558.7 783.8,565.4 C783.3,572 782.7,578.7 782,585.3 C781.3,591.9 780.4,600.9 779.8,605.2 C779.2,609.5 778.5,610.1 778.2,611.1" stroke="#2b7ac4" stroke-width="0.9" fill="none" stroke-linecap="round" opacity="1"/>
<path d="M794.6,474.3 C795.5,475.5 798.6,478.7 799.8,481.4 C801,484 801.8,486.3 802,490.3 C802.3,494.3 801.3,499.6 801.3,505.4 C801.4,511.2 802.1,518.6 802.4,525.3 C802.8,531.9 803,538.6 803.4,545.3 C803.8,552 804.2,558.7 804.7,565.4 C805.2,572 805.8,578.7 806.5,585.3 C807.2,591.9 808.1,600.9 808.7,605.2 C809.3,609.5 810,610.1 810.3,611.1" stroke="#2b7ac4" stroke-width="0.9" fill="none" stroke-linecap="round" opacity="1"/>
<path d="M793.5,474 C792.6,475.2 789.3,478.3 787.8,480.9 C786.3,483.6 785.7,485.9 784.5,489.9 C783.3,493.9 781.8,499 780.8,504.8 C779.8,510.6 779.3,518.2 778.7,524.8 C778.1,531.5 777.9,538.2 777.3,544.8 C776.7,551.4 775.6,558 775,564.7 C774.4,571.4 773.8,578 773.5,584.7 C773.2,591.4 773.2,600.5 773.3,604.8 C773.4,609.2 773.9,609.9 774,610.9" stroke="#2b7ac4" stroke-width="0.8" fill="none" stroke-linecap="round" opacity="1"/>
<path d="M795,474 C795.9,475.2 799.2,478.3 800.7,480.9 C802.2,483.6 802.8,485.9 804,489.9 C805.2,493.9 806.7,499 807.7,504.8 C808.7,510.6 809.2,518.2 809.8,524.8 C810.4,531.5 810.6,538.2 811.2,544.8 C811.8,551.4 812.9,558 813.5,564.7 C814.1,571.4 814.7,578 815,584.7 C815.3,591.4 815.3,600.5 815.2,604.8 C815.1,609.2 814.6,609.9 814.5,610.9" stroke="#2b7ac4" stroke-width="0.8" fill="none" stroke-linecap="round" opacity="1"/>
<path d="M793.5,474 C792.6,475.2 789.4,478.3 788,481 C786.6,483.7 786.4,486.1 785,490 C783.6,493.9 780.8,498.9 779.6,504.7 C778.4,510.5 778.3,518.1 777.9,524.8 C777.5,531.5 777.4,538.1 777.1,544.8 C776.9,551.5 776.7,558.1 776.4,564.8 C776.1,571.5 775.4,578.2 775.1,584.8 C774.8,591.5 774.6,600.5 774.5,604.9 C774.5,609.2 774.8,609.9 774.8,610.9" stroke="#e8503f" stroke-width="0.7" fill="none" stroke-linecap="round" opacity="1"/>
<path d="M795,474 C795.9,475.2 799.1,478.3 800.5,481 C801.9,483.7 802.1,486.1 803.5,490 C804.9,493.9 807.7,498.9 808.9,504.7 C810.1,510.5 810.2,518.1 810.6,524.8 C811,531.5 811.1,538.1 811.4,544.8 C811.6,551.5 811.8,558.1 812.1,564.8 C812.4,571.5 813.1,578.2 813.4,584.8 C813.7,591.5 813.9,600.5 814,604.9 C814,609.2 813.7,609.9 813.7,610.9" stroke="#e8503f" stroke-width="0.7" fill="none" stroke-linecap="round" opacity="1"/>
<path d="M793.5,474 C792.6,475.2 789.3,478.3 788,481 C786.7,483.7 786.2,486.1 785.5,490.1 C784.8,494.1 784.5,499.3 784,505.1 C783.5,510.9 783,518.4 782.7,525.1 C782.4,531.7 782.5,538.4 782,545.1 C781.5,551.8 780.2,558.4 779.5,565 C778.8,571.7 778.4,578.4 777.9,585 C777.4,591.7 776.9,600.7 776.6,605 C776.3,609.3 776.3,610 776.2,611" stroke="#e8503f" stroke-width="0.7" fill="none" stroke-linecap="round" opacity="1"/>
<path d="M795,474 C795.9,475.2 799.2,478.3 800.5,481 C801.8,483.7 802.3,486.1 803,490.1 C803.7,494.1 804,499.3 804.5,505.1 C805,510.9 805.5,518.4 805.8,525.1 C806.1,531.7 806,538.4 806.5,545.1 C807,551.8 808.3,558.4 809,565 C809.7,571.7 810.1,578.4 810.6,585 C811.1,591.7 811.6,600.7 811.9,605 C812.2,609.3 812.2,610 812.3,611" stroke="#e8503f" stroke-width="0.7" fill="none" stroke-linecap="round" opacity="1"/>
<path d="M793.5,474 C792.5,475.1 789.3,478.2 787.7,480.9 C786.2,483.5 785.2,485.8 784.2,489.8 C783.2,493.8 782.4,499 781.8,504.9 C781.2,510.7 780.9,518.3 780.5,524.9 C780.2,531.6 779.8,541.6 779.7,545" stroke="#e8503f" stroke-width="2.6" fill="none" stroke-linecap="round" opacity="1"/>
<path d="M795,474 C796,475.1 799.2,478.2 800.8,480.9 C802.3,483.5 803.3,485.8 804.3,489.8 C805.3,493.8 806.1,499 806.7,504.9 C807.3,510.7 807.6,518.3 808,524.9 C808.3,531.6 808.7,541.6 808.8,545" stroke="#e8503f" stroke-width="2.6" fill="none" stroke-linecap="round" opacity="1"/>
<path d="M784.5,496 C783.4,496.2 779.7,495.5 778,497 C776.3,498.5 775.2,501.5 774.5,505 C773.8,508.5 773.4,513.2 773.5,518 C773.6,522.8 774.8,531.3 775,534" stroke="#e8503f" stroke-width="0.9" fill="none" stroke-linecap="round" opacity="1"/>
<path d="M804,496 C805.1,496.2 808.8,495.5 810.5,497 C812.2,498.5 813.2,501.5 814,505 C814.8,508.5 815.1,513.2 815,518 C814.9,522.8 813.8,531.3 813.5,534" stroke="#e8503f" stroke-width="0.9" fill="none" stroke-linecap="round" opacity="1"/>
<path d="M786,490 C785.5,489.2 783.8,485.3 783,485 C782.2,484.7 781.3,487.5 781,488" stroke="#e8503f" stroke-width="0.9" fill="none" stroke-linecap="round" opacity="1"/>
<path d="M802.5,490 C803,489.2 804.7,485.3 805.5,485 C806.3,484.7 807.2,487.5 807.5,488" stroke="#e8503f" stroke-width="0.9" fill="none" stroke-linecap="round" opacity="1"/>
<path d="M789,503 C789.2,504.5 790,509.2 790.2,512 C790.5,514.8 790.5,518.7 790.5,520" stroke="#2b7ac4" stroke-width="0.7" fill="none" stroke-linecap="round" opacity="1"/>
<path d="M799.5,503 C799.3,504.5 798.5,509.2 798.3,512 C798,514.8 798,518.7 798,520" stroke="#2b7ac4" stroke-width="0.7" fill="none" stroke-linecap="round" opacity="1"/>
<path d="M780,550 C779.3,550.2 777,550 776,551 C775,552 774.3,555.2 774,556" stroke="#e8503f" stroke-width="0.8" fill="none" stroke-linecap="round" opacity="1"/>
<path d="M808.5,550 C809.2,550.2 811.5,550 812.5,551 C813.5,552 814.2,555.2 814.5,556" stroke="#e8503f" stroke-width="0.8" fill="none" stroke-linecap="round" opacity="1"/>
<path d="M776,610 C775.6,610.8 774.1,613.5 773.5,615 C772.9,616.5 772.7,618.3 772.5,619" stroke="#2b7ac4" stroke-width="0.7" fill="none" stroke-linecap="round" opacity="1"/>
<path d="M812.5,610 C812.9,610.8 814.4,613.5 815,615 C815.6,616.5 815.8,618.3 816,619" stroke="#2b7ac4" stroke-width="0.7" fill="none" stroke-linecap="round" opacity="1"/>
<path d="M776,610 C775.9,610.8 775.3,613.5 775.1,615 C774.9,616.5 774.8,618.3 774.7,619" stroke="#2b7ac4" stroke-width="0.7" fill="none" stroke-linecap="round" opacity="1"/>
<path d="M812.5,610 C812.6,610.8 813.2,613.5 813.4,615 C813.6,616.5 813.7,618.3 813.8,619" stroke="#2b7ac4" stroke-width="0.7" fill="none" stroke-linecap="round" opacity="1"/>
<path d="M776,610 C776.1,610.8 776.6,613.5 776.7,615 C776.9,616.5 776.9,618.3 776.9,619" stroke="#2b7ac4" stroke-width="0.7" fill="none" stroke-linecap="round" opacity="1"/>
<path d="M812.5,610 C812.4,610.8 811.9,613.5 811.8,615 C811.6,616.5 811.6,618.3 811.6,619" stroke="#2b7ac4" stroke-width="0.7" fill="none" stroke-linecap="round" opacity="1"/>
<path d="M776,610 C776.4,610.8 777.8,613.5 778.3,615 C778.8,616.5 779,618.3 779.1,619" stroke="#2b7ac4" stroke-width="0.7" fill="none" stroke-linecap="round" opacity="1"/>
<path d="M812.5,610 C812.1,610.8 810.7,613.5 810.2,615 C809.7,616.5 809.5,618.3 809.4,619" stroke="#2b7ac4" stroke-width="0.7" fill="none" stroke-linecap="round" opacity="1"/>
<path d="M773,610 C774,610.1 778,610.4 779,610.5" stroke="#2b7ac4" stroke-width="0.9" fill="none" stroke-linecap="round" opacity="1"/>
<path d="M815.5,610 C814.5,610.1 810.5,610.4 809.5,610.5" stroke="#2b7ac4" stroke-width="0.9" fill="none" stroke-linecap="round" opacity="1"/>
</g>

<g class="b k">
<text x="0" y="88.5" textLength="107.5" lengthAdjust="spacingAndGlyphs">Bone Marrow</text>
<text x="742.4" y="13.2" textLength="112" lengthAdjust="spacingAndGlyphs">Lymph Nodes</text>
<text x="532.8" y="127" textLength="47.8" lengthAdjust="spacingAndGlyphs">Blood</text>
<text x="762.8" y="201.7" textLength="56.8" lengthAdjust="spacingAndGlyphs">Spleen</text>
<text x="765" y="378.2" textLength="138" lengthAdjust="spacingAndGlyphs">Periphry Tissues</text>
<text x="100.7" y="247.2" textLength="76.8" lengthAdjust="spacingAndGlyphs">Stem cell</text>
<text x="198.5" y="216.6" textLength="108.5" lengthAdjust="spacingAndGlyphs">immature NK</text>
<text x="339.8" y="181.3" textLength="89" lengthAdjust="spacingAndGlyphs">mature NK</text>
</g>
<g class="b red">
<text x="296.4" y="80.5" textLength="58" lengthAdjust="spacingAndGlyphs">CXCR4</text>
<text x="604.3" y="35.3" textLength="47" lengthAdjust="spacingAndGlyphs">CCR2</text>
<text x="604.3" y="58.9" textLength="46" lengthAdjust="spacingAndGlyphs">CCR7</text>
<text x="604.3" y="82.5" textLength="44" lengthAdjust="spacingAndGlyphs">S1P5</text>
<text x="604.3" y="106.2" textLength="58" lengthAdjust="spacingAndGlyphs">CXCR4</text>
<text x="441.3" y="183.5" textLength="44.8" lengthAdjust="spacingAndGlyphs">S1P5</text>
<text x="441.3" y="207.2" textLength="67" lengthAdjust="spacingAndGlyphs">CX3CR1</text>
<text x="619.7" y="204.8" textLength="46.5" lengthAdjust="spacingAndGlyphs">CCR2</text>
<text x="619.7" y="228.7" textLength="45.5" lengthAdjust="spacingAndGlyphs">CCR7</text>
<text x="623.7" y="344.9" textLength="46.5" lengthAdjust="spacingAndGlyphs">CCR5</text>
<text x="623.7" y="369.0" textLength="57.5" lengthAdjust="spacingAndGlyphs">CXCR3</text>
<text x="623.7" y="393.1" textLength="66.8" lengthAdjust="spacingAndGlyphs">CX3CR1</text>
</g>
<g class="b sup">
<text x="354.2" y="74" textLength="34.2" lengthAdjust="spacingAndGlyphs">[86,97]</text>
<text x="650.9" y="28.8" textLength="12.5" lengthAdjust="spacingAndGlyphs">[7]</text>
<text x="650.5" y="52.7" textLength="58.6" lengthAdjust="spacingAndGlyphs">[6,44,48,50]</text>
<text x="648.5" y="76.3" textLength="18.6" lengthAdjust="spacingAndGlyphs">[89]</text>
<text x="662.1" y="100" textLength="34.5" lengthAdjust="spacingAndGlyphs">[86,97]</text>
<text x="485.6" y="177" textLength="19" lengthAdjust="spacingAndGlyphs">[89]</text>
<text x="510.1" y="201" textLength="33.7" lengthAdjust="spacingAndGlyphs">[70,61]</text>
<text x="665.7" y="198.5" textLength="19" lengthAdjust="spacingAndGlyphs">[20]</text>
<text x="666" y="222.3" textLength="27.8" lengthAdjust="spacingAndGlyphs">[6,44]</text>
<text x="669.6" y="338.3" textLength="34.3" lengthAdjust="spacingAndGlyphs">[33,36]</text>
<text x="681.3" y="362.1" textLength="34.2" lengthAdjust="spacingAndGlyphs">[62,64]</text>
<text x="692.1" y="386" textLength="64.6" lengthAdjust="spacingAndGlyphs">[77,78,82,83]</text>
</g>
<g class="r g">
<text x="226.6" y="327.4">CCR2</text>
<text x="226.6" y="351.4">CCR5</text>
<text x="226.6" y="375.3">CCR7</text>
<text x="226.6" y="399.2">CXCR3</text>
<text x="226.6" y="423.1">CXCR4</text>
<text x="349.6" y="314.5">CXCR1</text>
<text x="349.6" y="338.4">CXCR2</text>
<text x="349.6" y="362.2">CXCR3</text>
<text x="349.6" y="386.1">CXCR4</text>
<text x="349.6" y="409.9">CX3CR1</text>
<text x="349.6" y="434" textLength="43.4" lengthAdjust="spacingAndGlyphs">S1P5</text>
<text x="349.6" y="458.2" textLength="79.6" lengthAdjust="spacingAndGlyphs">ChemR23</text>
</g>

</svg>
</body></html>
